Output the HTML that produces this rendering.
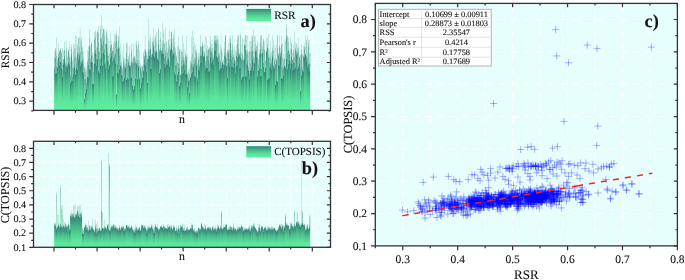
<!DOCTYPE html><html><head><meta charset="utf-8"><style>html,body{margin:0;padding:0;background:#fff;width:685px;height:280px;overflow:hidden}svg{display:block}text{font-family:"Liberation Serif",serif;fill:#111;stroke:#111;stroke-width:0.1px;text-rendering:geometricPrecision}svg{will-change:transform}</style></head><body>
<svg width="685" height="280" viewBox="0 0 685 280">
<defs><linearGradient id="g" x1="0" y1="0" x2="0" y2="1"><stop offset="0" stop-color="#36867a"/><stop offset="0.4" stop-color="#4dc08d"/><stop offset="0.75" stop-color="#5ae59b"/><stop offset="1" stop-color="#5ef0a0"/></linearGradient></defs>
<rect x="33.50" y="4.50" width="297.00" height="105.90" fill="#e6fffc"/>
<rect x="33.50" y="141.30" width="297.00" height="106.00" fill="#e6fffc"/>
<rect x="375.30" y="3.40" width="302.10" height="242.50" fill="#e6fffc"/>
<g stroke="#ffffff" stroke-width="1" stroke-dasharray="4.8 3.6"><line x1="33.80" y1="101.20" x2="329.90" y2="101.20"/><line x1="33.80" y1="81.86" x2="329.90" y2="81.86"/><line x1="33.80" y1="62.52" x2="329.90" y2="62.52"/><line x1="33.80" y1="43.18" x2="329.90" y2="43.18"/><line x1="33.80" y1="23.84" x2="329.90" y2="23.84"/><line x1="54.00" y1="5.20" x2="54.00" y2="109.80"/><line x1="75.53" y1="5.20" x2="75.53" y2="109.80"/><line x1="97.05" y1="5.20" x2="97.05" y2="109.80"/><line x1="118.58" y1="5.20" x2="118.58" y2="109.80"/><line x1="140.10" y1="5.20" x2="140.10" y2="109.80"/><line x1="161.62" y1="5.20" x2="161.62" y2="109.80"/><line x1="183.15" y1="5.20" x2="183.15" y2="109.80"/><line x1="204.68" y1="5.20" x2="204.68" y2="109.80"/><line x1="226.20" y1="5.20" x2="226.20" y2="109.80"/><line x1="247.72" y1="5.20" x2="247.72" y2="109.80"/><line x1="269.25" y1="5.20" x2="269.25" y2="109.80"/><line x1="290.77" y1="5.20" x2="290.77" y2="109.80"/><line x1="312.30" y1="5.20" x2="312.30" y2="109.80"/><line x1="33.80" y1="233.20" x2="329.90" y2="233.20"/><line x1="33.80" y1="219.05" x2="329.90" y2="219.05"/><line x1="33.80" y1="204.90" x2="329.90" y2="204.90"/><line x1="33.80" y1="190.75" x2="329.90" y2="190.75"/><line x1="33.80" y1="176.60" x2="329.90" y2="176.60"/><line x1="33.80" y1="162.45" x2="329.90" y2="162.45"/><line x1="33.80" y1="148.30" x2="329.90" y2="148.30"/><line x1="54.00" y1="142.00" x2="54.00" y2="246.70"/><line x1="75.53" y1="142.00" x2="75.53" y2="246.70"/><line x1="97.05" y1="142.00" x2="97.05" y2="246.70"/><line x1="118.58" y1="142.00" x2="118.58" y2="246.70"/><line x1="140.10" y1="142.00" x2="140.10" y2="246.70"/><line x1="161.62" y1="142.00" x2="161.62" y2="246.70"/><line x1="183.15" y1="142.00" x2="183.15" y2="246.70"/><line x1="204.68" y1="142.00" x2="204.68" y2="246.70"/><line x1="226.20" y1="142.00" x2="226.20" y2="246.70"/><line x1="247.72" y1="142.00" x2="247.72" y2="246.70"/><line x1="269.25" y1="142.00" x2="269.25" y2="246.70"/><line x1="290.77" y1="142.00" x2="290.77" y2="246.70"/><line x1="312.30" y1="142.00" x2="312.30" y2="246.70"/></g>
<g stroke="#ffffff" stroke-width="1" stroke-dasharray="6.1 6.15"><line x1="376.30" y1="213.56" x2="676.80" y2="213.56"/><line x1="376.30" y1="181.22" x2="676.80" y2="181.22"/><line x1="376.30" y1="148.88" x2="676.80" y2="148.88"/><line x1="376.30" y1="116.54" x2="676.80" y2="116.54"/><line x1="376.30" y1="84.20" x2="676.80" y2="84.20"/><line x1="376.30" y1="51.86" x2="676.80" y2="51.86"/><line x1="376.30" y1="19.52" x2="676.80" y2="19.52"/><line x1="402.76" y1="6.50" x2="402.76" y2="245.30"/><line x1="430.23" y1="6.50" x2="430.23" y2="245.30"/><line x1="457.70" y1="6.50" x2="457.70" y2="245.30"/><line x1="485.16" y1="6.50" x2="485.16" y2="245.30"/><line x1="512.62" y1="6.50" x2="512.62" y2="245.30"/><line x1="540.09" y1="6.50" x2="540.09" y2="245.30"/><line x1="567.56" y1="6.50" x2="567.56" y2="245.30"/><line x1="595.02" y1="6.50" x2="595.02" y2="245.30"/><line x1="622.48" y1="6.50" x2="622.48" y2="245.30"/><line x1="649.95" y1="6.50" x2="649.95" y2="245.30"/></g>
<g fill="url(#g)"><rect x="54" y="50.34" width="1" height="60.06" fill-opacity="0.22"/><rect x="54" y="52.11" width="1" height="58.29" fill-opacity="0.04"/><rect x="54" y="57.71" width="1" height="52.69" fill-opacity="0.29"/><rect x="54" y="66.73" width="1" height="43.67" fill-opacity="0.40"/><rect x="54" y="69.61" width="1" height="40.79" fill-opacity="0.67"/><rect x="55" y="48.19" width="1" height="62.21" fill-opacity="0.22"/><rect x="55" y="48.20" width="1" height="62.20" fill-opacity="0.27"/><rect x="55" y="52.11" width="1" height="58.29" fill-opacity="0.32"/><rect x="55" y="58.34" width="1" height="52.06" fill-opacity="0.56"/><rect x="55" y="73.80" width="1" height="36.60"/><rect x="56" y="37.71" width="1" height="72.69" fill-opacity="0.22"/><rect x="56" y="52.96" width="1" height="57.44" fill-opacity="0.12"/><rect x="56" y="55.94" width="1" height="54.46" fill-opacity="0.31"/><rect x="56" y="66.38" width="1" height="44.02" fill-opacity="0.45"/><rect x="56" y="73.23" width="1" height="37.17" fill-opacity="0.83"/><rect x="56" y="73.80" width="1" height="36.60"/><rect x="57" y="52.96" width="1" height="57.44" fill-opacity="0.12"/><rect x="57" y="57.56" width="1" height="52.84" fill-opacity="0.02"/><rect x="57" y="59.14" width="1" height="51.26" fill-opacity="0.25"/><rect x="57" y="61.94" width="1" height="48.46" fill-opacity="0.33"/><rect x="57" y="67.27" width="1" height="43.13" fill-opacity="0.50"/><rect x="57" y="68.56" width="1" height="41.84"/><rect x="58" y="43.18" width="1" height="67.22" fill-opacity="0.22"/><rect x="58" y="52.99" width="1" height="57.41" fill-opacity="0.27"/><rect x="58" y="54.90" width="1" height="55.50" fill-opacity="0.28"/><rect x="58" y="57.32" width="1" height="53.08" fill-opacity="0.52"/><rect x="58" y="57.56" width="1" height="52.84"/><rect x="59" y="50.85" width="1" height="59.55" fill-opacity="0.22"/><rect x="59" y="50.93" width="1" height="59.47" fill-opacity="0.27"/><rect x="59" y="51.56" width="1" height="58.84" fill-opacity="0.38"/><rect x="59" y="54.90" width="1" height="55.50" fill-opacity="0.16"/><rect x="59" y="62.48" width="1" height="47.92" fill-opacity="0.27"/><rect x="59" y="65.75" width="1" height="44.65"/><rect x="60" y="48.02" width="1" height="62.38" fill-opacity="0.22"/><rect x="60" y="48.49" width="1" height="61.91" fill-opacity="0.27"/><rect x="60" y="49.95" width="1" height="60.45" fill-opacity="0.38"/><rect x="60" y="53.54" width="1" height="56.86" fill-opacity="0.01"/><rect x="60" y="62.48" width="1" height="47.92" fill-opacity="0.38"/><rect x="60" y="62.56" width="1" height="47.84"/><rect x="61" y="50.39" width="1" height="60.01" fill-opacity="0.22"/><rect x="61" y="52.47" width="1" height="57.93" fill-opacity="0.27"/><rect x="61" y="53.54" width="1" height="56.86" fill-opacity="0.37"/><rect x="61" y="61.05" width="1" height="49.35" fill-opacity="0.40"/><rect x="61" y="68.82" width="1" height="41.58"/><rect x="62" y="48.00" width="1" height="62.40" fill-opacity="0.22"/><rect x="62" y="61.05" width="1" height="49.35" fill-opacity="0.09"/><rect x="62" y="63.42" width="1" height="46.98" fill-opacity="0.30"/><rect x="62" y="64.97" width="1" height="45.43" fill-opacity="0.13"/><rect x="62" y="70.92" width="1" height="39.48" fill-opacity="0.50"/><rect x="62" y="77.24" width="1" height="33.16"/><rect x="63" y="50.56" width="1" height="59.84" fill-opacity="0.22"/><rect x="63" y="59.22" width="1" height="51.18" fill-opacity="0.27"/><rect x="63" y="59.34" width="1" height="51.06" fill-opacity="0.38"/><rect x="63" y="63.53" width="1" height="46.87" fill-opacity="0.58"/><rect x="63" y="64.97" width="1" height="45.43"/><rect x="64" y="41.87" width="1" height="68.53" fill-opacity="0.22"/><rect x="64" y="49.71" width="1" height="60.69" fill-opacity="0.27"/><rect x="64" y="50.47" width="1" height="59.93" fill-opacity="0.38"/><rect x="64" y="56.18" width="1" height="54.22" fill-opacity="0.61"/><rect x="64" y="59.43" width="1" height="50.97" fill-opacity="0.93"/><rect x="64" y="63.53" width="1" height="46.87"/><rect x="65" y="40.16" width="1" height="70.24" fill-opacity="0.05"/><rect x="65" y="59.43" width="1" height="50.97" fill-opacity="0.09"/><rect x="65" y="61.87" width="1" height="48.53" fill-opacity="0.25"/><rect x="65" y="63.68" width="1" height="46.72" fill-opacity="0.33"/><rect x="65" y="65.79" width="1" height="44.61" fill-opacity="0.50"/><rect x="65" y="71.39" width="1" height="39.01"/><rect x="66" y="40.16" width="1" height="70.24" fill-opacity="0.16"/><rect x="66" y="47.89" width="1" height="62.51" fill-opacity="0.23"/><rect x="66" y="50.31" width="1" height="60.09" fill-opacity="0.33"/><rect x="66" y="65.62" width="1" height="44.78" fill-opacity="0.50"/><rect x="66" y="67.67" width="1" height="42.73"/><rect x="67" y="47.89" width="1" height="62.51" fill-opacity="0.02"/><rect x="67" y="52.73" width="1" height="57.67" fill-opacity="0.12"/><rect x="67" y="56.79" width="1" height="53.61" fill-opacity="0.25"/><rect x="67" y="63.70" width="1" height="46.70" fill-opacity="0.33"/><rect x="67" y="65.50" width="1" height="44.90" fill-opacity="0.50"/><rect x="67" y="67.95" width="1" height="42.45"/><rect x="68" y="48.63" width="1" height="61.77" fill-opacity="0.22"/><rect x="68" y="50.18" width="1" height="60.22" fill-opacity="0.27"/><rect x="68" y="50.50" width="1" height="59.90" fill-opacity="0.38"/><rect x="68" y="52.73" width="1" height="57.67" fill-opacity="0.28"/><rect x="68" y="55.37" width="1" height="55.03" fill-opacity="0.16"/><rect x="68" y="62.38" width="1" height="48.02"/><rect x="69" y="41.25" width="1" height="69.15" fill-opacity="0.22"/><rect x="69" y="55.37" width="1" height="55.03" fill-opacity="0.22"/><rect x="69" y="57.62" width="1" height="52.78" fill-opacity="0.35"/><rect x="69" y="63.97" width="1" height="46.43" fill-opacity="0.55"/><rect x="69" y="65.62" width="1" height="44.78"/><rect x="70" y="47.09" width="1" height="63.31" fill-opacity="0.10"/><rect x="70" y="58.79" width="1" height="51.61" fill-opacity="0.24"/><rect x="70" y="61.96" width="1" height="48.44" fill-opacity="0.32"/><rect x="70" y="65.62" width="1" height="44.78" fill-opacity="0.08"/><rect x="70" y="75.26" width="1" height="35.14" fill-opacity="0.50"/><rect x="70" y="83.32" width="1" height="27.08"/><rect x="71" y="44.24" width="1" height="66.16" fill-opacity="0.22"/><rect x="71" y="47.09" width="1" height="63.31" fill-opacity="0.14"/><rect x="71" y="49.04" width="1" height="61.36" fill-opacity="0.32"/><rect x="71" y="53.66" width="1" height="56.74" fill-opacity="0.47"/><rect x="71" y="56.91" width="1" height="53.49" fill-opacity="0.89"/><rect x="71" y="81.10" width="1" height="29.30"/><rect x="72" y="59.15" width="1" height="51.25" fill-opacity="0.17"/><rect x="72" y="61.51" width="1" height="48.89" fill-opacity="0.26"/><rect x="72" y="67.69" width="1" height="42.71" fill-opacity="0.35"/><rect x="72" y="76.96" width="1" height="33.44" fill-opacity="0.53"/><rect x="72" y="81.10" width="1" height="29.30"/><rect x="73" y="43.47" width="1" height="66.93" fill-opacity="0.22"/><rect x="73" y="51.65" width="1" height="58.75" fill-opacity="0.27"/><rect x="73" y="59.15" width="1" height="51.25" fill-opacity="0.09"/><rect x="73" y="65.23" width="1" height="45.17" fill-opacity="0.17"/><rect x="73" y="68.02" width="1" height="42.38" fill-opacity="0.50"/><rect x="73" y="74.18" width="1" height="36.22"/><rect x="74" y="44.92" width="1" height="65.48" fill-opacity="0.22"/><rect x="74" y="48.17" width="1" height="62.23" fill-opacity="0.02"/><rect x="74" y="48.68" width="1" height="61.72" fill-opacity="0.28"/><rect x="74" y="57.48" width="1" height="52.92" fill-opacity="0.39"/><rect x="74" y="65.23" width="1" height="45.17" fill-opacity="0.37"/><rect x="74" y="67.77" width="1" height="42.63"/><rect x="75" y="35.44" width="1" height="74.96" fill-opacity="0.22"/><rect x="75" y="48.17" width="1" height="62.23" fill-opacity="0.26"/><rect x="75" y="56.40" width="1" height="54.00" fill-opacity="0.26"/><rect x="75" y="70.06" width="1" height="40.34" fill-opacity="0.50"/><rect x="75" y="74.82" width="1" height="35.58"/><rect x="76" y="36.08" width="1" height="74.32" fill-opacity="0.22"/><rect x="76" y="56.40" width="1" height="54.00" fill-opacity="0.08"/><rect x="76" y="57.86" width="1" height="52.54" fill-opacity="0.30"/><rect x="76" y="62.84" width="1" height="47.56" fill-opacity="0.43"/><rect x="76" y="67.95" width="1" height="42.45" fill-opacity="0.74"/><rect x="76" y="69.73" width="1" height="40.67"/><rect x="77" y="43.69" width="1" height="66.71" fill-opacity="0.21"/><rect x="77" y="45.64" width="1" height="64.76" fill-opacity="0.27"/><rect x="77" y="52.81" width="1" height="57.59" fill-opacity="0.38"/><rect x="77" y="54.78" width="1" height="55.62" fill-opacity="0.61"/><rect x="77" y="69.73" width="1" height="40.67"/><rect x="78" y="37.65" width="1" height="72.75" fill-opacity="0.22"/><rect x="78" y="38.31" width="1" height="72.09" fill-opacity="0.27"/><rect x="78" y="43.69" width="1" height="66.71" fill-opacity="0.00"/><rect x="78" y="52.13" width="1" height="58.27" fill-opacity="0.38"/><rect x="78" y="58.33" width="1" height="52.07" fill-opacity="0.39"/><rect x="78" y="60.47" width="1" height="49.93"/><rect x="79" y="27.31" width="1" height="83.09" fill-opacity="0.06"/><rect x="79" y="37.38" width="1" height="73.02" fill-opacity="0.23"/><rect x="79" y="47.40" width="1" height="63.00" fill-opacity="0.30"/><rect x="79" y="53.91" width="1" height="56.49" fill-opacity="0.42"/><rect x="79" y="55.41" width="1" height="54.99" fill-opacity="0.74"/><rect x="79" y="58.33" width="1" height="52.07"/><rect x="80" y="27.31" width="1" height="83.09" fill-opacity="0.15"/><rect x="80" y="39.41" width="1" height="70.99" fill-opacity="0.25"/><rect x="80" y="51.94" width="1" height="58.46" fill-opacity="0.34"/><rect x="80" y="61.82" width="1" height="48.58" fill-opacity="0.48"/><rect x="80" y="66.41" width="1" height="43.99"/><rect x="81" y="36.31" width="1" height="74.09" fill-opacity="0.22"/><rect x="81" y="41.82" width="1" height="68.58" fill-opacity="0.27"/><rect x="81" y="46.65" width="1" height="63.75" fill-opacity="0.22"/><rect x="81" y="61.82" width="1" height="48.58" fill-opacity="0.03"/><rect x="81" y="61.90" width="1" height="48.50" fill-opacity="0.50"/><rect x="81" y="64.06" width="1" height="46.34"/><rect x="82" y="46.65" width="1" height="63.75" fill-opacity="0.09"/><rect x="82" y="46.70" width="1" height="63.70" fill-opacity="0.24"/><rect x="82" y="51.19" width="1" height="59.21" fill-opacity="0.31"/><rect x="82" y="59.61" width="1" height="50.79" fill-opacity="0.45"/><rect x="82" y="60.55" width="1" height="49.85" fill-opacity="0.81"/><rect x="82" y="72.04" width="1" height="38.36"/><rect x="83" y="50.60" width="1" height="59.80" fill-opacity="0.19"/><rect x="83" y="57.56" width="1" height="52.84" fill-opacity="0.27"/><rect x="83" y="64.61" width="1" height="45.79" fill-opacity="0.36"/><rect x="83" y="72.04" width="1" height="38.36" fill-opacity="0.44"/><rect x="83" y="73.81" width="1" height="36.59"/><rect x="84" y="50.60" width="1" height="59.80" fill-opacity="0.03"/><rect x="84" y="62.20" width="1" height="48.20" fill-opacity="0.11"/><rect x="84" y="67.07" width="1" height="43.33" fill-opacity="0.25"/><rect x="84" y="68.65" width="1" height="41.75" fill-opacity="0.33"/><rect x="84" y="79.29" width="1" height="31.11" fill-opacity="0.50"/><rect x="84" y="99.27" width="1" height="11.13"/><rect x="85" y="62.20" width="1" height="48.20" fill-opacity="0.10"/><rect x="85" y="68.66" width="1" height="41.74" fill-opacity="0.24"/><rect x="85" y="72.12" width="1" height="38.28" fill-opacity="0.32"/><rect x="85" y="79.27" width="1" height="31.13" fill-opacity="0.46"/><rect x="85" y="83.04" width="1" height="27.36" fill-opacity="0.14"/><rect x="85" y="93.17" width="1" height="17.23"/><rect x="86" y="65.95" width="1" height="44.45" fill-opacity="0.22"/><rect x="86" y="70.22" width="1" height="40.18" fill-opacity="0.22"/><rect x="86" y="79.40" width="1" height="31.00" fill-opacity="0.35"/><rect x="86" y="83.04" width="1" height="27.36" fill-opacity="0.46"/><rect x="86" y="89.23" width="1" height="21.17"/><rect x="87" y="49.87" width="1" height="60.53" fill-opacity="0.22"/><rect x="87" y="60.74" width="1" height="49.66" fill-opacity="0.27"/><rect x="87" y="61.80" width="1" height="48.60" fill-opacity="0.38"/><rect x="87" y="70.22" width="1" height="40.18" fill-opacity="0.12"/><rect x="87" y="76.88" width="1" height="33.52" fill-opacity="0.69"/><rect x="87" y="77.66" width="1" height="32.74"/><rect x="88" y="46.11" width="1" height="64.29" fill-opacity="0.22"/><rect x="88" y="51.48" width="1" height="58.92" fill-opacity="0.27"/><rect x="88" y="58.05" width="1" height="52.35" fill-opacity="0.38"/><rect x="88" y="65.30" width="1" height="45.10" fill-opacity="0.61"/><rect x="88" y="69.36" width="1" height="41.04" fill-opacity="0.16"/><rect x="88" y="77.66" width="1" height="32.74"/><rect x="89" y="29.42" width="1" height="80.98" fill-opacity="0.22"/><rect x="89" y="38.34" width="1" height="72.06" fill-opacity="0.21"/><rect x="89" y="45.67" width="1" height="64.73" fill-opacity="0.35"/><rect x="89" y="47.45" width="1" height="62.95" fill-opacity="0.53"/><rect x="89" y="69.36" width="1" height="41.04"/><rect x="90" y="38.34" width="1" height="72.06" fill-opacity="0.05"/><rect x="90" y="45.60" width="1" height="64.80" fill-opacity="0.23"/><rect x="90" y="58.41" width="1" height="51.99" fill-opacity="0.29"/><rect x="90" y="62.02" width="1" height="48.38" fill-opacity="0.42"/><rect x="90" y="62.49" width="1" height="47.91" fill-opacity="0.28"/><rect x="90" y="70.38" width="1" height="40.02"/><rect x="91" y="42.21" width="1" height="68.19" fill-opacity="0.22"/><rect x="91" y="43.34" width="1" height="67.06" fill-opacity="0.27"/><rect x="91" y="43.97" width="1" height="66.43" fill-opacity="0.38"/><rect x="91" y="54.85" width="1" height="55.55" fill-opacity="0.02"/><rect x="91" y="55.49" width="1" height="54.91" fill-opacity="0.62"/><rect x="91" y="62.49" width="1" height="47.91"/><rect x="92" y="51.88" width="1" height="58.52" fill-opacity="0.22"/><rect x="92" y="54.85" width="1" height="55.55" fill-opacity="0.26"/><rect x="92" y="62.11" width="1" height="48.29" fill-opacity="0.37"/><rect x="92" y="62.37" width="1" height="48.03" fill-opacity="0.59"/><rect x="92" y="84.20" width="1" height="26.20"/><rect x="93" y="52.78" width="1" height="57.62" fill-opacity="0.07"/><rect x="93" y="56.98" width="1" height="53.42" fill-opacity="0.23"/><rect x="93" y="65.47" width="1" height="44.93" fill-opacity="0.30"/><rect x="93" y="72.23" width="1" height="38.17" fill-opacity="0.43"/><rect x="93" y="83.88" width="1" height="26.52" fill-opacity="0.76"/><rect x="93" y="84.20" width="1" height="26.20"/><rect x="94" y="31.65" width="1" height="78.75" fill-opacity="0.22"/><rect x="94" y="38.68" width="1" height="71.72" fill-opacity="0.27"/><rect x="94" y="39.87" width="1" height="70.53" fill-opacity="0.38"/><rect x="94" y="52.78" width="1" height="57.62" fill-opacity="0.41"/><rect x="94" y="63.70" width="1" height="46.70"/><rect x="95" y="30.61" width="1" height="79.79" fill-opacity="0.22"/><rect x="95" y="32.33" width="1" height="78.07" fill-opacity="0.17"/><rect x="95" y="37.16" width="1" height="73.24" fill-opacity="0.33"/><rect x="95" y="50.15" width="1" height="60.25" fill-opacity="0.49"/><rect x="95" y="53.62" width="1" height="56.78" fill-opacity="0.98"/><rect x="95" y="63.70" width="1" height="46.70"/><rect x="96" y="32.33" width="1" height="78.07" fill-opacity="0.08"/><rect x="96" y="46.80" width="1" height="63.60" fill-opacity="0.23"/><rect x="96" y="47.70" width="1" height="62.70" fill-opacity="0.08"/><rect x="96" y="54.14" width="1" height="56.26" fill-opacity="0.33"/><rect x="96" y="58.84" width="1" height="51.56" fill-opacity="0.50"/><rect x="96" y="65.77" width="1" height="44.63"/><rect x="97" y="30.19" width="1" height="80.21" fill-opacity="0.20"/><rect x="97" y="31.58" width="1" height="78.82" fill-opacity="0.27"/><rect x="97" y="32.12" width="1" height="78.28" fill-opacity="0.37"/><rect x="97" y="47.70" width="1" height="62.70" fill-opacity="0.42"/><rect x="97" y="59.58" width="1" height="50.82"/><rect x="98" y="25.77" width="1" height="84.63" fill-opacity="0.22"/><rect x="98" y="30.19" width="1" height="80.21" fill-opacity="0.02"/><rect x="98" y="32.98" width="1" height="77.42" fill-opacity="0.28"/><rect x="98" y="42.57" width="1" height="67.83" fill-opacity="0.39"/><rect x="98" y="51.55" width="1" height="58.85" fill-opacity="0.36"/><rect x="98" y="71.32" width="1" height="39.08"/><rect x="99" y="38.78" width="1" height="71.62" fill-opacity="0.04"/><rect x="99" y="48.35" width="1" height="62.05" fill-opacity="0.23"/><rect x="99" y="51.55" width="1" height="58.85" fill-opacity="0.13"/><rect x="99" y="51.93" width="1" height="58.47" fill-opacity="0.33"/><rect x="99" y="59.35" width="1" height="51.05" fill-opacity="0.50"/><rect x="99" y="73.15" width="1" height="37.25"/><rect x="100" y="25.77" width="1" height="84.63" fill-opacity="0.22"/><rect x="100" y="29.10" width="1" height="81.30" fill-opacity="0.27"/><rect x="100" y="38.78" width="1" height="71.62" fill-opacity="0.30"/><rect x="100" y="58.47" width="1" height="51.93" fill-opacity="0.46"/><rect x="100" y="65.84" width="1" height="44.56"/><rect x="101" y="15.14" width="1" height="95.26" fill-opacity="0.22"/><rect x="101" y="36.95" width="1" height="73.45" fill-opacity="0.27"/><rect x="101" y="39.27" width="1" height="71.13" fill-opacity="0.38"/><rect x="101" y="43.98" width="1" height="66.42" fill-opacity="0.61"/><rect x="101" y="53.76" width="1" height="56.64" fill-opacity="0.77"/><rect x="101" y="58.47" width="1" height="51.93"/><rect x="102" y="25.77" width="1" height="84.63" fill-opacity="0.22"/><rect x="102" y="33.83" width="1" height="76.57" fill-opacity="0.27"/><rect x="102" y="41.06" width="1" height="69.34" fill-opacity="0.05"/><rect x="102" y="45.95" width="1" height="64.45" fill-opacity="0.40"/><rect x="102" y="53.76" width="1" height="56.64" fill-opacity="0.33"/><rect x="102" y="65.96" width="1" height="44.44"/><rect x="103" y="28.87" width="1" height="81.53" fill-opacity="0.22"/><rect x="103" y="29.31" width="1" height="81.09" fill-opacity="0.22"/><rect x="103" y="29.51" width="1" height="80.89" fill-opacity="0.35"/><rect x="103" y="41.06" width="1" height="69.34" fill-opacity="0.46"/><rect x="103" y="52.91" width="1" height="57.49"/><rect x="104" y="29.31" width="1" height="81.09" fill-opacity="0.05"/><rect x="104" y="29.57" width="1" height="80.83" fill-opacity="0.23"/><rect x="104" y="35.44" width="1" height="74.96" fill-opacity="0.29"/><rect x="104" y="49.31" width="1" height="61.09" fill-opacity="0.41"/><rect x="104" y="54.75" width="1" height="55.65" fill-opacity="0.70"/><rect x="104" y="64.27" width="1" height="46.13"/><rect x="105" y="43.79" width="1" height="66.61" fill-opacity="0.22"/><rect x="105" y="43.92" width="1" height="66.48" fill-opacity="0.27"/><rect x="105" y="44.61" width="1" height="65.79" fill-opacity="0.03"/><rect x="105" y="61.95" width="1" height="48.45" fill-opacity="0.39"/><rect x="105" y="64.27" width="1" height="46.13" fill-opacity="0.36"/><rect x="105" y="68.17" width="1" height="42.23"/><rect x="106" y="30.07" width="1" height="80.33" fill-opacity="0.22"/><rect x="106" y="32.06" width="1" height="78.34" fill-opacity="0.20"/><rect x="106" y="33.51" width="1" height="76.89" fill-opacity="0.34"/><rect x="106" y="42.84" width="1" height="67.56" fill-opacity="0.52"/><rect x="106" y="44.61" width="1" height="65.79"/><rect x="107" y="32.06" width="1" height="78.34" fill-opacity="0.06"/><rect x="107" y="37.11" width="1" height="73.29" fill-opacity="0.23"/><rect x="107" y="48.42" width="1" height="61.98" fill-opacity="0.30"/><rect x="107" y="52.32" width="1" height="58.08" fill-opacity="0.42"/><rect x="107" y="55.51" width="1" height="54.89" fill-opacity="0.27"/><rect x="107" y="60.59" width="1" height="49.81"/><rect x="108" y="39.26" width="1" height="71.14" fill-opacity="0.22"/><rect x="108" y="53.90" width="1" height="56.50" fill-opacity="0.00"/><rect x="108" y="55.51" width="1" height="54.89" fill-opacity="0.17"/><rect x="108" y="55.71" width="1" height="54.69" fill-opacity="0.33"/><rect x="108" y="61.94" width="1" height="48.46" fill-opacity="0.50"/><rect x="108" y="69.11" width="1" height="41.29"/><rect x="109" y="40.82" width="1" height="69.58" fill-opacity="0.14"/><rect x="109" y="53.90" width="1" height="56.50" fill-opacity="0.25"/><rect x="109" y="64.01" width="1" height="46.39" fill-opacity="0.33"/><rect x="109" y="64.95" width="1" height="45.45" fill-opacity="0.50"/><rect x="109" y="66.12" width="1" height="44.28"/><rect x="110" y="32.54" width="1" height="77.86" fill-opacity="0.22"/><rect x="110" y="40.82" width="1" height="69.58" fill-opacity="0.09"/><rect x="110" y="45.61" width="1" height="64.79" fill-opacity="0.30"/><rect x="110" y="47.58" width="1" height="62.82" fill-opacity="0.43"/><rect x="110" y="56.39" width="1" height="54.01" fill-opacity="0.24"/><rect x="110" y="58.50" width="1" height="51.90"/><rect x="111" y="40.66" width="1" height="69.74" fill-opacity="0.21"/><rect x="111" y="44.32" width="1" height="66.08" fill-opacity="0.27"/><rect x="111" y="45.07" width="1" height="65.33" fill-opacity="0.37"/><rect x="111" y="53.01" width="1" height="57.39" fill-opacity="0.59"/><rect x="111" y="56.39" width="1" height="54.01"/><rect x="112" y="40.66" width="1" height="69.74" fill-opacity="0.01"/><rect x="112" y="48.16" width="1" height="62.24" fill-opacity="0.22"/><rect x="112" y="50.86" width="1" height="59.54" fill-opacity="0.28"/><rect x="112" y="50.95" width="1" height="59.45" fill-opacity="0.38"/><rect x="112" y="61.26" width="1" height="49.14" fill-opacity="0.63"/><rect x="112" y="76.38" width="1" height="34.02"/><rect x="113" y="42.33" width="1" height="68.07" fill-opacity="0.22"/><rect x="113" y="46.56" width="1" height="63.84" fill-opacity="0.27"/><rect x="113" y="50.95" width="1" height="59.45" fill-opacity="0.38"/><rect x="113" y="58.14" width="1" height="52.26" fill-opacity="0.61"/><rect x="113" y="60.27" width="1" height="50.13" fill-opacity="0.38"/><rect x="113" y="76.38" width="1" height="34.02"/><rect x="114" y="33.15" width="1" height="77.25" fill-opacity="0.19"/><rect x="114" y="40.93" width="1" height="69.47" fill-opacity="0.27"/><rect x="114" y="54.67" width="1" height="55.73" fill-opacity="0.36"/><rect x="114" y="56.47" width="1" height="53.93" fill-opacity="0.57"/><rect x="114" y="60.27" width="1" height="50.13"/><rect x="115" y="33.15" width="1" height="77.25" fill-opacity="0.02"/><rect x="115" y="34.45" width="1" height="75.95" fill-opacity="0.22"/><rect x="115" y="35.87" width="1" height="74.53" fill-opacity="0.15"/><rect x="115" y="42.63" width="1" height="67.77" fill-opacity="0.33"/><rect x="115" y="53.45" width="1" height="56.95" fill-opacity="0.50"/><rect x="115" y="63.42" width="1" height="46.98"/><rect x="116" y="30.58" width="1" height="79.82" fill-opacity="0.22"/><rect x="116" y="34.48" width="1" height="75.92" fill-opacity="0.27"/><rect x="116" y="35.87" width="1" height="74.53" fill-opacity="0.17"/><rect x="116" y="41.19" width="1" height="69.21" fill-opacity="0.46"/><rect x="116" y="64.60" width="1" height="45.80" fill-opacity="0.15"/><rect x="116" y="94.73" width="1" height="15.67"/><rect x="117" y="47.05" width="1" height="63.35" fill-opacity="0.22"/><rect x="117" y="48.65" width="1" height="61.75" fill-opacity="0.27"/><rect x="117" y="49.24" width="1" height="61.16" fill-opacity="0.38"/><rect x="117" y="64.60" width="1" height="45.80" fill-opacity="0.50"/><rect x="117" y="73.14" width="1" height="37.26"/><rect x="118" y="35.37" width="1" height="75.03" fill-opacity="0.22"/><rect x="118" y="36.86" width="1" height="73.54" fill-opacity="0.27"/><rect x="118" y="41.11" width="1" height="69.29" fill-opacity="0.38"/><rect x="118" y="48.31" width="1" height="62.09" fill-opacity="0.61"/><rect x="118" y="48.47" width="1" height="61.93" fill-opacity="0.73"/><rect x="118" y="73.14" width="1" height="37.26"/><rect x="119" y="26.61" width="1" height="83.79" fill-opacity="0.22"/><rect x="119" y="47.17" width="1" height="63.23" fill-opacity="0.27"/><rect x="119" y="48.47" width="1" height="61.93" fill-opacity="0.20"/><rect x="119" y="56.08" width="1" height="54.32" fill-opacity="0.47"/><rect x="119" y="65.07" width="1" height="45.33" fill-opacity="0.11"/><rect x="119" y="69.46" width="1" height="40.94"/><rect x="120" y="42.45" width="1" height="67.95" fill-opacity="0.22"/><rect x="120" y="54.08" width="1" height="56.32" fill-opacity="0.27"/><rect x="120" y="62.74" width="1" height="47.66" fill-opacity="0.29"/><rect x="120" y="65.07" width="1" height="45.33" fill-opacity="0.47"/><rect x="120" y="66.30" width="1" height="44.10"/><rect x="121" y="50.38" width="1" height="60.02" fill-opacity="0.09"/><rect x="121" y="61.41" width="1" height="48.99" fill-opacity="0.24"/><rect x="121" y="62.74" width="1" height="47.66" fill-opacity="0.07"/><rect x="121" y="65.41" width="1" height="44.99" fill-opacity="0.33"/><rect x="121" y="67.50" width="1" height="42.90" fill-opacity="0.50"/><rect x="121" y="74.82" width="1" height="35.58"/><rect x="122" y="50.38" width="1" height="60.02" fill-opacity="0.13"/><rect x="122" y="67.77" width="1" height="42.63" fill-opacity="0.25"/><rect x="122" y="70.63" width="1" height="39.77" fill-opacity="0.33"/><rect x="122" y="75.66" width="1" height="34.74" fill-opacity="0.49"/><rect x="122" y="80.69" width="1" height="29.71" fill-opacity="0.05"/><rect x="122" y="81.93" width="1" height="28.47"/><rect x="123" y="43.16" width="1" height="67.24" fill-opacity="0.22"/><rect x="123" y="57.13" width="1" height="53.27" fill-opacity="0.27"/><rect x="123" y="60.85" width="1" height="49.55" fill-opacity="0.38"/><rect x="123" y="65.32" width="1" height="45.08" fill-opacity="0.43"/><rect x="123" y="80.69" width="1" height="29.71"/><rect x="124" y="58.42" width="1" height="51.98" fill-opacity="0.22"/><rect x="124" y="62.81" width="1" height="47.59" fill-opacity="0.27"/><rect x="124" y="65.32" width="1" height="45.08" fill-opacity="0.11"/><rect x="124" y="66.06" width="1" height="44.34" fill-opacity="0.15"/><rect x="124" y="67.68" width="1" height="42.72" fill-opacity="0.50"/><rect x="124" y="78.16" width="1" height="32.24"/><rect x="125" y="57.65" width="1" height="52.75" fill-opacity="0.22"/><rect x="125" y="63.70" width="1" height="46.70" fill-opacity="0.27"/><rect x="125" y="66.06" width="1" height="44.34" fill-opacity="0.25"/><rect x="125" y="67.25" width="1" height="43.15" fill-opacity="0.50"/><rect x="125" y="69.03" width="1" height="41.37"/><rect x="126" y="41.96" width="1" height="68.44" fill-opacity="0.22"/><rect x="126" y="44.14" width="1" height="66.26" fill-opacity="0.27"/><rect x="126" y="53.06" width="1" height="57.34" fill-opacity="0.38"/><rect x="126" y="59.70" width="1" height="50.70" fill-opacity="0.39"/><rect x="126" y="63.70" width="1" height="46.70" fill-opacity="0.01"/><rect x="126" y="80.07" width="1" height="30.33"/><rect x="127" y="42.64" width="1" height="67.76" fill-opacity="0.22"/><rect x="127" y="58.95" width="1" height="51.45" fill-opacity="0.27"/><rect x="127" y="59.70" width="1" height="50.70" fill-opacity="0.14"/><rect x="127" y="65.59" width="1" height="44.81" fill-opacity="0.44"/><rect x="127" y="77.82" width="1" height="32.58" fill-opacity="0.78"/><rect x="127" y="79.45" width="1" height="30.95"/><rect x="128" y="55.59" width="1" height="54.81" fill-opacity="0.22"/><rect x="128" y="58.11" width="1" height="52.29" fill-opacity="0.27"/><rect x="128" y="61.81" width="1" height="48.59" fill-opacity="0.38"/><rect x="128" y="62.40" width="1" height="48.00" fill-opacity="0.57"/><rect x="128" y="79.45" width="1" height="30.95"/><rect x="129" y="46.31" width="1" height="64.09" fill-opacity="0.22"/><rect x="129" y="53.88" width="1" height="56.52" fill-opacity="0.27"/><rect x="129" y="62.40" width="1" height="48.00" fill-opacity="0.03"/><rect x="129" y="65.39" width="1" height="45.01" fill-opacity="0.22"/><rect x="129" y="65.63" width="1" height="44.77" fill-opacity="0.50"/><rect x="129" y="65.68" width="1" height="44.72"/><rect x="130" y="60.91" width="1" height="49.49" fill-opacity="0.22"/><rect x="130" y="64.55" width="1" height="45.85" fill-opacity="0.27"/><rect x="130" y="65.39" width="1" height="45.01" fill-opacity="0.16"/><rect x="130" y="66.24" width="1" height="44.16" fill-opacity="0.45"/><rect x="130" y="68.10" width="1" height="42.30" fill-opacity="0.82"/><rect x="130" y="78.15" width="1" height="32.25"/><rect x="131" y="43.23" width="1" height="67.17" fill-opacity="0.22"/><rect x="131" y="49.39" width="1" height="61.01" fill-opacity="0.27"/><rect x="131" y="51.69" width="1" height="58.71" fill-opacity="0.38"/><rect x="131" y="62.34" width="1" height="48.06" fill-opacity="0.53"/><rect x="131" y="78.15" width="1" height="32.25"/><rect x="132" y="58.76" width="1" height="51.64" fill-opacity="0.22"/><rect x="132" y="61.78" width="1" height="48.62" fill-opacity="0.27"/><rect x="132" y="62.34" width="1" height="48.06" fill-opacity="0.05"/><rect x="132" y="62.80" width="1" height="47.60" fill-opacity="0.40"/><rect x="132" y="63.78" width="1" height="46.62" fill-opacity="0.34"/><rect x="132" y="85.40" width="1" height="25.00"/><rect x="133" y="43.97" width="1" height="66.43" fill-opacity="0.22"/><rect x="133" y="56.17" width="1" height="54.23" fill-opacity="0.27"/><rect x="133" y="58.33" width="1" height="52.07" fill-opacity="0.38"/><rect x="133" y="61.93" width="1" height="48.47" fill-opacity="0.10"/><rect x="133" y="63.78" width="1" height="46.62" fill-opacity="0.33"/><rect x="133" y="89.32" width="1" height="21.08"/><rect x="134" y="55.47" width="1" height="54.93" fill-opacity="0.17"/><rect x="134" y="56.19" width="1" height="54.21" fill-opacity="0.26"/><rect x="134" y="57.05" width="1" height="53.35" fill-opacity="0.35"/><rect x="134" y="61.93" width="1" height="48.47" fill-opacity="0.46"/><rect x="134" y="86.28" width="1" height="24.12"/><rect x="135" y="42.35" width="1" height="68.05" fill-opacity="0.10"/><rect x="135" y="55.47" width="1" height="54.93" fill-opacity="0.05"/><rect x="135" y="58.45" width="1" height="51.95" fill-opacity="0.25"/><rect x="135" y="60.51" width="1" height="49.89" fill-opacity="0.33"/><rect x="135" y="63.05" width="1" height="47.35" fill-opacity="0.50"/><rect x="135" y="78.78" width="1" height="31.62"/><rect x="136" y="40.67" width="1" height="69.73" fill-opacity="0.22"/><rect x="136" y="42.35" width="1" height="68.05" fill-opacity="0.15"/><rect x="136" y="45.41" width="1" height="64.99" fill-opacity="0.32"/><rect x="136" y="46.49" width="1" height="63.91" fill-opacity="0.05"/><rect x="136" y="63.45" width="1" height="46.95" fill-opacity="0.50"/><rect x="136" y="64.73" width="1" height="45.67"/><rect x="137" y="46.49" width="1" height="63.91" fill-opacity="0.19"/><rect x="137" y="49.12" width="1" height="61.28" fill-opacity="0.27"/><rect x="137" y="59.78" width="1" height="50.62" fill-opacity="0.27"/><rect x="137" y="63.10" width="1" height="47.30" fill-opacity="0.50"/><rect x="137" y="79.25" width="1" height="31.15"/><rect x="138" y="40.91" width="1" height="69.49" fill-opacity="0.22"/><rect x="138" y="44.01" width="1" height="66.39" fill-opacity="0.27"/><rect x="138" y="59.78" width="1" height="50.62" fill-opacity="0.10"/><rect x="138" y="60.35" width="1" height="50.05" fill-opacity="0.16"/><rect x="138" y="66.58" width="1" height="43.82" fill-opacity="0.50"/><rect x="138" y="66.64" width="1" height="43.76"/><rect x="139" y="50.04" width="1" height="60.36" fill-opacity="0.22"/><rect x="139" y="60.35" width="1" height="50.05" fill-opacity="0.17"/><rect x="139" y="62.96" width="1" height="47.44" fill-opacity="0.01"/><rect x="139" y="65.65" width="1" height="44.75" fill-opacity="0.33"/><rect x="139" y="78.38" width="1" height="32.02" fill-opacity="0.50"/><rect x="139" y="79.81" width="1" height="30.59"/><rect x="140" y="62.96" width="1" height="47.44" fill-opacity="0.21"/><rect x="140" y="66.34" width="1" height="44.06" fill-opacity="0.27"/><rect x="140" y="67.03" width="1" height="43.37" fill-opacity="0.25"/><rect x="140" y="68.11" width="1" height="42.29" fill-opacity="0.50"/><rect x="140" y="88.70" width="1" height="21.70"/><rect x="141" y="65.00" width="1" height="45.40" fill-opacity="0.22"/><rect x="141" y="67.03" width="1" height="43.37" fill-opacity="0.09"/><rect x="141" y="69.97" width="1" height="40.43" fill-opacity="0.30"/><rect x="141" y="71.63" width="1" height="38.77" fill-opacity="0.43"/><rect x="141" y="77.50" width="1" height="32.90" fill-opacity="0.25"/><rect x="141" y="83.04" width="1" height="27.36"/><rect x="142" y="64.93" width="1" height="45.47" fill-opacity="0.22"/><rect x="142" y="65.86" width="1" height="44.54" fill-opacity="0.27"/><rect x="142" y="67.24" width="1" height="43.16" fill-opacity="0.38"/><rect x="142" y="77.50" width="1" height="32.90" fill-opacity="0.41"/><rect x="142" y="78.10" width="1" height="32.30"/><rect x="143" y="51.93" width="1" height="58.47" fill-opacity="0.22"/><rect x="143" y="54.30" width="1" height="56.10" fill-opacity="0.27"/><rect x="143" y="64.63" width="1" height="45.77" fill-opacity="0.23"/><rect x="143" y="70.69" width="1" height="39.71" fill-opacity="0.49"/><rect x="143" y="71.40" width="1" height="39.00" fill-opacity="0.97"/><rect x="143" y="78.10" width="1" height="32.30"/><rect x="144" y="35.49" width="1" height="74.91" fill-opacity="0.06"/><rect x="144" y="49.54" width="1" height="60.86" fill-opacity="0.23"/><rect x="144" y="55.58" width="1" height="54.82" fill-opacity="0.30"/><rect x="144" y="56.34" width="1" height="54.06" fill-opacity="0.42"/><rect x="144" y="59.26" width="1" height="51.14" fill-opacity="0.72"/><rect x="144" y="64.63" width="1" height="45.77"/><rect x="145" y="35.49" width="1" height="74.91" fill-opacity="0.16"/><rect x="145" y="49.17" width="1" height="61.23" fill-opacity="0.26"/><rect x="145" y="50.36" width="1" height="60.04" fill-opacity="0.34"/><rect x="145" y="51.66" width="1" height="58.74" fill-opacity="0.48"/><rect x="145" y="65.76" width="1" height="44.64"/><rect x="146" y="51.56" width="1" height="58.84" fill-opacity="0.22"/><rect x="146" y="51.66" width="1" height="58.74" fill-opacity="0.02"/><rect x="146" y="53.46" width="1" height="56.94" fill-opacity="0.28"/><rect x="146" y="56.07" width="1" height="54.33" fill-opacity="0.22"/><rect x="146" y="62.43" width="1" height="47.97" fill-opacity="0.50"/><rect x="146" y="72.20" width="1" height="38.20"/><rect x="147" y="51.17" width="1" height="59.23" fill-opacity="0.04"/><rect x="147" y="55.16" width="1" height="55.24" fill-opacity="0.23"/><rect x="147" y="56.07" width="1" height="54.33" fill-opacity="0.13"/><rect x="147" y="58.62" width="1" height="51.78" fill-opacity="0.33"/><rect x="147" y="59.73" width="1" height="50.67" fill-opacity="0.50"/><rect x="147" y="83.10" width="1" height="27.30"/><rect x="148" y="18.81" width="1" height="91.59" fill-opacity="0.18"/><rect x="148" y="40.26" width="1" height="70.14" fill-opacity="0.26"/><rect x="148" y="48.79" width="1" height="61.61" fill-opacity="0.36"/><rect x="148" y="51.17" width="1" height="59.23" fill-opacity="0.44"/><rect x="148" y="58.77" width="1" height="51.63"/><rect x="149" y="18.81" width="1" height="91.59" fill-opacity="0.03"/><rect x="149" y="34.45" width="1" height="75.95" fill-opacity="0.11"/><rect x="149" y="40.72" width="1" height="69.68" fill-opacity="0.25"/><rect x="149" y="50.81" width="1" height="59.59" fill-opacity="0.33"/><rect x="149" y="56.06" width="1" height="54.34" fill-opacity="0.50"/><rect x="149" y="56.21" width="1" height="54.19"/><rect x="150" y="34.45" width="1" height="75.95" fill-opacity="0.11"/><rect x="150" y="38.07" width="1" height="72.33" fill-opacity="0.24"/><rect x="150" y="45.67" width="1" height="64.73" fill-opacity="0.32"/><rect x="150" y="49.47" width="1" height="60.93" fill-opacity="0.47"/><rect x="150" y="49.48" width="1" height="60.92" fill-opacity="0.88"/><rect x="150" y="68.99" width="1" height="41.41"/><rect x="151" y="53.66" width="1" height="56.74" fill-opacity="0.22"/><rect x="151" y="54.76" width="1" height="55.64" fill-opacity="0.22"/><rect x="151" y="55.80" width="1" height="54.60" fill-opacity="0.35"/><rect x="151" y="57.53" width="1" height="52.87" fill-opacity="0.54"/><rect x="151" y="68.99" width="1" height="41.41"/><rect x="152" y="36.72" width="1" height="73.68" fill-opacity="0.09"/><rect x="152" y="41.80" width="1" height="68.60" fill-opacity="0.24"/><rect x="152" y="42.65" width="1" height="67.75" fill-opacity="0.31"/><rect x="152" y="53.83" width="1" height="56.57" fill-opacity="0.45"/><rect x="152" y="54.02" width="1" height="56.38" fill-opacity="0.82"/><rect x="152" y="54.76" width="1" height="55.64"/><rect x="153" y="28.52" width="1" height="81.88" fill-opacity="0.22"/><rect x="153" y="36.72" width="1" height="73.68" fill-opacity="0.16"/><rect x="153" y="40.92" width="1" height="69.48" fill-opacity="0.33"/><rect x="153" y="44.57" width="1" height="65.83" fill-opacity="0.48"/><rect x="153" y="47.68" width="1" height="62.72" fill-opacity="0.93"/><rect x="153" y="56.42" width="1" height="53.98"/><rect x="154" y="38.98" width="1" height="71.42" fill-opacity="0.16"/><rect x="154" y="45.76" width="1" height="64.64" fill-opacity="0.25"/><rect x="154" y="50.64" width="1" height="59.76" fill-opacity="0.34"/><rect x="154" y="56.42" width="1" height="53.98" fill-opacity="0.48"/><rect x="154" y="57.89" width="1" height="52.51"/><rect x="155" y="34.59" width="1" height="75.81" fill-opacity="0.22"/><rect x="155" y="37.27" width="1" height="73.13" fill-opacity="0.27"/><rect x="155" y="38.98" width="1" height="71.42" fill-opacity="0.11"/><rect x="155" y="42.37" width="1" height="68.03" fill-opacity="0.16"/><rect x="155" y="51.33" width="1" height="59.07" fill-opacity="0.50"/><rect x="155" y="53.40" width="1" height="57.00"/><rect x="156" y="31.74" width="1" height="78.66" fill-opacity="0.22"/><rect x="156" y="42.37" width="1" height="68.03" fill-opacity="0.17"/><rect x="156" y="50.17" width="1" height="60.23" fill-opacity="0.33"/><rect x="156" y="51.43" width="1" height="58.97" fill-opacity="0.50"/><rect x="156" y="52.26" width="1" height="58.14" fill-opacity="0.99"/><rect x="156" y="58.98" width="1" height="51.42"/><rect x="157" y="44.96" width="1" height="65.44" fill-opacity="0.14"/><rect x="157" y="52.93" width="1" height="57.47" fill-opacity="0.25"/><rect x="157" y="57.42" width="1" height="52.98" fill-opacity="0.33"/><rect x="157" y="58.98" width="1" height="51.42" fill-opacity="0.50"/><rect x="157" y="58.98" width="1" height="51.42"/><rect x="158" y="28.59" width="1" height="81.81" fill-opacity="0.22"/><rect x="158" y="29.00" width="1" height="81.40" fill-opacity="0.27"/><rect x="158" y="39.87" width="1" height="70.53" fill-opacity="0.12"/><rect x="158" y="43.84" width="1" height="66.56" fill-opacity="0.43"/><rect x="158" y="44.96" width="1" height="65.44" fill-opacity="0.25"/><rect x="158" y="60.82" width="1" height="49.58"/><rect x="159" y="39.87" width="1" height="70.53" fill-opacity="0.15"/><rect x="159" y="49.12" width="1" height="61.28" fill-opacity="0.24"/><rect x="159" y="50.24" width="1" height="60.16" fill-opacity="0.33"/><rect x="159" y="51.66" width="1" height="58.74" fill-opacity="0.50"/><rect x="159" y="73.06" width="1" height="37.34"/><rect x="160" y="31.58" width="1" height="78.82" fill-opacity="0.22"/><rect x="160" y="38.06" width="1" height="72.34" fill-opacity="0.27"/><rect x="160" y="48.43" width="1" height="61.97" fill-opacity="0.38"/><rect x="160" y="49.12" width="1" height="61.28" fill-opacity="0.03"/><rect x="160" y="50.14" width="1" height="60.26" fill-opacity="0.37"/><rect x="160" y="69.46" width="1" height="40.94"/><rect x="161" y="42.28" width="1" height="68.12" fill-opacity="0.22"/><rect x="161" y="47.56" width="1" height="62.84" fill-opacity="0.07"/><rect x="161" y="50.14" width="1" height="60.26" fill-opacity="0.12"/><rect x="161" y="50.81" width="1" height="59.59" fill-opacity="0.33"/><rect x="161" y="50.98" width="1" height="59.42" fill-opacity="0.50"/><rect x="161" y="54.14" width="1" height="56.26"/><rect x="162" y="21.91" width="1" height="88.49" fill-opacity="0.22"/><rect x="162" y="41.05" width="1" height="69.35" fill-opacity="0.27"/><rect x="162" y="47.56" width="1" height="62.84" fill-opacity="0.29"/><rect x="162" y="50.47" width="1" height="59.93" fill-opacity="0.53"/><rect x="162" y="53.98" width="1" height="56.42"/><rect x="163" y="29.37" width="1" height="81.03" fill-opacity="0.22"/><rect x="163" y="33.04" width="1" height="77.36" fill-opacity="0.15"/><rect x="163" y="42.46" width="1" height="67.94" fill-opacity="0.32"/><rect x="163" y="53.63" width="1" height="56.77" fill-opacity="0.47"/><rect x="163" y="53.89" width="1" height="56.51" fill-opacity="0.90"/><rect x="163" y="53.98" width="1" height="56.42"/><rect x="164" y="33.04" width="1" height="77.36" fill-opacity="0.10"/><rect x="164" y="43.56" width="1" height="66.84" fill-opacity="0.24"/><rect x="164" y="44.01" width="1" height="66.39" fill-opacity="0.31"/><rect x="164" y="57.48" width="1" height="52.92" fill-opacity="0.46"/><rect x="164" y="64.22" width="1" height="46.18" fill-opacity="0.85"/><rect x="164" y="67.56" width="1" height="42.84"/><rect x="165" y="27.71" width="1" height="82.69" fill-opacity="0.22"/><rect x="165" y="49.39" width="1" height="61.01" fill-opacity="0.23"/><rect x="165" y="51.62" width="1" height="58.78" fill-opacity="0.35"/><rect x="165" y="56.19" width="1" height="54.21" fill-opacity="0.55"/><rect x="165" y="67.56" width="1" height="42.84"/><rect x="166" y="41.17" width="1" height="69.23" fill-opacity="0.22"/><rect x="166" y="42.03" width="1" height="68.37" fill-opacity="0.27"/><rect x="166" y="49.39" width="1" height="61.01" fill-opacity="0.07"/><rect x="166" y="53.06" width="1" height="57.34" fill-opacity="0.19"/><rect x="166" y="61.27" width="1" height="49.13" fill-opacity="0.50"/><rect x="166" y="64.58" width="1" height="45.82"/><rect x="167" y="47.31" width="1" height="63.09" fill-opacity="0.22"/><rect x="167" y="49.60" width="1" height="60.80" fill-opacity="0.03"/><rect x="167" y="52.60" width="1" height="57.80" fill-opacity="0.28"/><rect x="167" y="53.06" width="1" height="57.34" fill-opacity="0.21"/><rect x="167" y="58.94" width="1" height="51.46" fill-opacity="0.50"/><rect x="167" y="64.66" width="1" height="45.74"/><rect x="168" y="39.34" width="1" height="71.06" fill-opacity="0.22"/><rect x="168" y="40.38" width="1" height="70.02" fill-opacity="0.27"/><rect x="168" y="49.60" width="1" height="60.80" fill-opacity="0.33"/><rect x="168" y="57.51" width="1" height="52.89" fill-opacity="0.57"/><rect x="168" y="59.81" width="1" height="50.59"/><rect x="169" y="30.88" width="1" height="79.52" fill-opacity="0.22"/><rect x="169" y="45.37" width="1" height="65.03" fill-opacity="0.11"/><rect x="169" y="47.01" width="1" height="63.39" fill-opacity="0.31"/><rect x="169" y="59.81" width="1" height="50.59" fill-opacity="0.11"/><rect x="169" y="62.56" width="1" height="47.84" fill-opacity="0.50"/><rect x="169" y="66.69" width="1" height="43.71"/><rect x="170" y="39.04" width="1" height="71.36" fill-opacity="0.22"/><rect x="170" y="43.03" width="1" height="67.37" fill-opacity="0.01"/><rect x="170" y="45.37" width="1" height="65.03" fill-opacity="0.16"/><rect x="170" y="49.04" width="1" height="61.36" fill-opacity="0.33"/><rect x="170" y="49.73" width="1" height="60.67" fill-opacity="0.50"/><rect x="170" y="50.95" width="1" height="59.45"/><rect x="171" y="31.58" width="1" height="78.82" fill-opacity="0.22"/><rect x="171" y="31.67" width="1" height="78.73" fill-opacity="0.27"/><rect x="171" y="32.34" width="1" height="78.06" fill-opacity="0.38"/><rect x="171" y="43.03" width="1" height="67.37" fill-opacity="0.57"/><rect x="171" y="48.92" width="1" height="61.48"/><rect x="172" y="38.95" width="1" height="71.45" fill-opacity="0.22"/><rect x="172" y="46.61" width="1" height="63.79" fill-opacity="0.09"/><rect x="172" y="48.92" width="1" height="61.48" fill-opacity="0.09"/><rect x="172" y="50.45" width="1" height="59.95" fill-opacity="0.33"/><rect x="172" y="52.50" width="1" height="57.90" fill-opacity="0.50"/><rect x="172" y="56.14" width="1" height="54.26"/><rect x="173" y="34.04" width="1" height="76.36" fill-opacity="0.22"/><rect x="173" y="37.09" width="1" height="73.31" fill-opacity="0.27"/><rect x="173" y="46.61" width="1" height="63.79" fill-opacity="0.25"/><rect x="173" y="53.86" width="1" height="56.54" fill-opacity="0.50"/><rect x="173" y="54.25" width="1" height="56.15"/><rect x="174" y="29.60" width="1" height="80.80" fill-opacity="0.22"/><rect x="174" y="41.99" width="1" height="68.41" fill-opacity="0.17"/><rect x="174" y="46.69" width="1" height="63.71" fill-opacity="0.33"/><rect x="174" y="53.47" width="1" height="56.93" fill-opacity="0.50"/><rect x="174" y="54.25" width="1" height="56.15" fill-opacity="0.01"/><rect x="174" y="72.95" width="1" height="37.45"/><rect x="175" y="41.99" width="1" height="68.41" fill-opacity="0.08"/><rect x="175" y="48.23" width="1" height="62.17" fill-opacity="0.23"/><rect x="175" y="51.18" width="1" height="59.22" fill-opacity="0.30"/><rect x="175" y="54.44" width="1" height="55.96" fill-opacity="0.12"/><rect x="175" y="65.37" width="1" height="45.03" fill-opacity="0.50"/><rect x="175" y="75.15" width="1" height="35.25"/><rect x="176" y="54.44" width="1" height="55.96" fill-opacity="0.15"/><rect x="176" y="55.60" width="1" height="54.80" fill-opacity="0.25"/><rect x="176" y="57.36" width="1" height="53.04" fill-opacity="0.32"/><rect x="176" y="64.81" width="1" height="45.59" fill-opacity="0.50"/><rect x="176" y="81.54" width="1" height="28.86"/><rect x="177" y="45.60" width="1" height="64.80" fill-opacity="0.22"/><rect x="177" y="57.36" width="1" height="53.04" fill-opacity="0.02"/><rect x="177" y="62.09" width="1" height="48.31" fill-opacity="0.28"/><rect x="177" y="62.86" width="1" height="47.54" fill-opacity="0.22"/><rect x="177" y="74.25" width="1" height="36.15" fill-opacity="0.50"/><rect x="177" y="75.61" width="1" height="34.79"/><rect x="178" y="36.94" width="1" height="73.46" fill-opacity="0.22"/><rect x="178" y="46.35" width="1" height="64.05" fill-opacity="0.27"/><rect x="178" y="62.86" width="1" height="47.54" fill-opacity="0.16"/><rect x="178" y="63.72" width="1" height="46.68" fill-opacity="0.45"/><rect x="178" y="68.14" width="1" height="42.26" fill-opacity="0.18"/><rect x="178" y="72.02" width="1" height="38.38"/><rect x="179" y="48.75" width="1" height="61.65" fill-opacity="0.22"/><rect x="179" y="50.17" width="1" height="60.23" fill-opacity="0.27"/><rect x="179" y="52.31" width="1" height="58.09" fill-opacity="0.33"/><rect x="179" y="68.14" width="1" height="42.26" fill-opacity="0.44"/><rect x="179" y="86.04" width="1" height="24.36"/><rect x="180" y="48.67" width="1" height="61.73" fill-opacity="0.22"/><rect x="180" y="52.31" width="1" height="58.09" fill-opacity="0.04"/><rect x="180" y="74.17" width="1" height="36.23" fill-opacity="0.28"/><rect x="180" y="74.85" width="1" height="35.55" fill-opacity="0.40"/><rect x="180" y="75.18" width="1" height="35.22" fill-opacity="0.34"/><rect x="180" y="83.04" width="1" height="27.36"/><rect x="181" y="50.87" width="1" height="59.53" fill-opacity="0.22"/><rect x="181" y="51.69" width="1" height="58.71" fill-opacity="0.27"/><rect x="181" y="60.06" width="1" height="50.34" fill-opacity="0.38"/><rect x="181" y="66.05" width="1" height="44.35" fill-opacity="0.10"/><rect x="181" y="66.69" width="1" height="43.71" fill-opacity="0.67"/><rect x="181" y="75.18" width="1" height="35.22"/><rect x="182" y="35.44" width="1" height="74.96" fill-opacity="0.22"/><rect x="182" y="51.62" width="1" height="58.78" fill-opacity="0.27"/><rect x="182" y="56.92" width="1" height="53.48" fill-opacity="0.38"/><rect x="182" y="66.05" width="1" height="44.35" fill-opacity="0.51"/><rect x="182" y="73.44" width="1" height="36.96"/><rect x="183" y="42.89" width="1" height="67.51" fill-opacity="0.22"/><rect x="183" y="49.11" width="1" height="61.29" fill-opacity="0.12"/><rect x="183" y="55.77" width="1" height="54.63" fill-opacity="0.31"/><rect x="183" y="59.89" width="1" height="50.51" fill-opacity="0.46"/><rect x="183" y="64.44" width="1" height="45.96" fill-opacity="0.84"/><rect x="183" y="73.44" width="1" height="36.96"/><rect x="184" y="49.11" width="1" height="61.29" fill-opacity="0.12"/><rect x="184" y="58.16" width="1" height="52.24" fill-opacity="0.24"/><rect x="184" y="62.16" width="1" height="48.24" fill-opacity="0.32"/><rect x="184" y="64.50" width="1" height="45.90" fill-opacity="0.48"/><rect x="184" y="65.71" width="1" height="44.69" fill-opacity="0.09"/><rect x="184" y="70.03" width="1" height="40.37"/><rect x="185" y="51.70" width="1" height="58.70" fill-opacity="0.22"/><rect x="185" y="53.76" width="1" height="56.64" fill-opacity="0.27"/><rect x="185" y="55.55" width="1" height="54.85" fill-opacity="0.38"/><rect x="185" y="65.71" width="1" height="44.69" fill-opacity="0.55"/><rect x="185" y="74.50" width="1" height="35.90"/><rect x="186" y="35.65" width="1" height="74.75" fill-opacity="0.22"/><rect x="186" y="56.38" width="1" height="54.02" fill-opacity="0.27"/><rect x="186" y="56.63" width="1" height="53.77" fill-opacity="0.38"/><rect x="186" y="59.85" width="1" height="50.55" fill-opacity="0.61"/><rect x="186" y="72.67" width="1" height="37.73" fill-opacity="0.60"/><rect x="186" y="74.50" width="1" height="35.90"/><rect x="187" y="54.42" width="1" height="55.98" fill-opacity="0.22"/><rect x="187" y="68.91" width="1" height="41.49" fill-opacity="0.01"/><rect x="187" y="72.67" width="1" height="37.73" fill-opacity="0.17"/><rect x="187" y="73.69" width="1" height="36.71" fill-opacity="0.33"/><rect x="187" y="74.95" width="1" height="35.45" fill-opacity="0.50"/><rect x="187" y="87.38" width="1" height="23.02"/><rect x="188" y="68.91" width="1" height="41.49" fill-opacity="0.21"/><rect x="188" y="71.76" width="1" height="38.64" fill-opacity="0.27"/><rect x="188" y="77.50" width="1" height="32.90" fill-opacity="0.37"/><rect x="188" y="80.76" width="1" height="29.64" fill-opacity="0.40"/><rect x="188" y="80.99" width="1" height="29.41"/><rect x="189" y="60.86" width="1" height="49.54" fill-opacity="0.07"/><rect x="189" y="67.72" width="1" height="42.68" fill-opacity="0.23"/><rect x="189" y="73.87" width="1" height="36.53" fill-opacity="0.30"/><rect x="189" y="80.38" width="1" height="30.02" fill-opacity="0.43"/><rect x="189" y="80.76" width="1" height="29.64" fill-opacity="0.24"/><rect x="189" y="92.84" width="1" height="17.56"/><rect x="190" y="60.79" width="1" height="49.61" fill-opacity="0.22"/><rect x="190" y="60.86" width="1" height="49.54" fill-opacity="0.19"/><rect x="190" y="65.50" width="1" height="44.90" fill-opacity="0.33"/><rect x="190" y="77.28" width="1" height="33.12" fill-opacity="0.50"/><rect x="190" y="77.82" width="1" height="32.58"/><rect x="191" y="36.82" width="1" height="73.58" fill-opacity="0.22"/><rect x="191" y="57.17" width="1" height="53.23" fill-opacity="0.27"/><rect x="191" y="62.74" width="1" height="47.66" fill-opacity="0.38"/><rect x="191" y="63.89" width="1" height="46.51" fill-opacity="0.37"/><rect x="191" y="65.50" width="1" height="44.90" fill-opacity="0.03"/><rect x="191" y="74.35" width="1" height="36.05"/><rect x="192" y="30.61" width="1" height="79.79" fill-opacity="0.22"/><rect x="192" y="46.69" width="1" height="63.71" fill-opacity="0.07"/><rect x="192" y="54.19" width="1" height="56.21" fill-opacity="0.30"/><rect x="192" y="63.89" width="1" height="46.51" fill-opacity="0.16"/><rect x="192" y="66.96" width="1" height="43.44" fill-opacity="0.50"/><rect x="192" y="72.22" width="1" height="38.18"/><rect x="193" y="36.89" width="1" height="73.51" fill-opacity="0.22"/><rect x="193" y="46.69" width="1" height="63.71" fill-opacity="0.20"/><rect x="193" y="59.98" width="1" height="50.42" fill-opacity="0.34"/><rect x="193" y="64.47" width="1" height="45.93" fill-opacity="0.52"/><rect x="193" y="67.82" width="1" height="42.58"/><rect x="194" y="42.25" width="1" height="68.15" fill-opacity="0.22"/><rect x="194" y="57.97" width="1" height="52.43" fill-opacity="0.27"/><rect x="194" y="61.07" width="1" height="49.33" fill-opacity="0.21"/><rect x="194" y="63.70" width="1" height="46.70" fill-opacity="0.48"/><rect x="194" y="67.82" width="1" height="42.58" fill-opacity="0.09"/><rect x="194" y="76.23" width="1" height="34.17"/><rect x="195" y="45.13" width="1" height="65.27" fill-opacity="0.22"/><rect x="195" y="50.52" width="1" height="59.88" fill-opacity="0.27"/><rect x="195" y="56.87" width="1" height="53.53" fill-opacity="0.07"/><rect x="195" y="58.75" width="1" height="51.65" fill-opacity="0.41"/><rect x="195" y="61.07" width="1" height="49.33" fill-opacity="0.31"/><rect x="195" y="77.35" width="1" height="33.05"/><rect x="196" y="48.77" width="1" height="61.63" fill-opacity="0.22"/><rect x="196" y="52.44" width="1" height="57.96" fill-opacity="0.23"/><rect x="196" y="52.62" width="1" height="57.78" fill-opacity="0.36"/><rect x="196" y="56.87" width="1" height="53.53" fill-opacity="0.45"/><rect x="196" y="65.57" width="1" height="44.83"/><rect x="197" y="52.44" width="1" height="57.96" fill-opacity="0.03"/><rect x="197" y="55.72" width="1" height="54.68" fill-opacity="0.11"/><rect x="197" y="63.20" width="1" height="47.20" fill-opacity="0.25"/><rect x="197" y="65.35" width="1" height="45.05" fill-opacity="0.33"/><rect x="197" y="77.70" width="1" height="32.70" fill-opacity="0.50"/><rect x="197" y="80.77" width="1" height="29.63"/><rect x="198" y="52.60" width="1" height="57.80" fill-opacity="0.22"/><rect x="198" y="55.72" width="1" height="54.68" fill-opacity="0.14"/><rect x="198" y="59.05" width="1" height="51.35" fill-opacity="0.32"/><rect x="198" y="59.66" width="1" height="50.74" fill-opacity="0.47"/><rect x="198" y="69.24" width="1" height="41.16" fill-opacity="0.88"/><rect x="198" y="70.77" width="1" height="39.63"/><rect x="199" y="52.78" width="1" height="57.62" fill-opacity="0.22"/><rect x="199" y="56.94" width="1" height="53.46" fill-opacity="0.21"/><rect x="199" y="64.79" width="1" height="45.61" fill-opacity="0.35"/><rect x="199" y="66.80" width="1" height="43.60" fill-opacity="0.54"/><rect x="199" y="70.77" width="1" height="39.63"/><rect x="200" y="35.44" width="1" height="74.96" fill-opacity="0.22"/><rect x="200" y="46.31" width="1" height="64.09" fill-opacity="0.27"/><rect x="200" y="46.78" width="1" height="63.62" fill-opacity="0.38"/><rect x="200" y="55.77" width="1" height="54.63" fill-opacity="0.61"/><rect x="200" y="56.94" width="1" height="53.46" fill-opacity="0.34"/><rect x="200" y="62.65" width="1" height="47.75"/><rect x="201" y="41.47" width="1" height="68.93" fill-opacity="0.02"/><rect x="201" y="44.69" width="1" height="65.71" fill-opacity="0.22"/><rect x="201" y="47.56" width="1" height="62.84" fill-opacity="0.28"/><rect x="201" y="54.85" width="1" height="55.55" fill-opacity="0.39"/><rect x="201" y="55.89" width="1" height="54.51" fill-opacity="0.64"/><rect x="201" y="62.65" width="1" height="47.75"/><rect x="202" y="41.47" width="1" height="68.93" fill-opacity="0.20"/><rect x="202" y="42.68" width="1" height="67.72" fill-opacity="0.27"/><rect x="202" y="45.72" width="1" height="64.68" fill-opacity="0.37"/><rect x="202" y="46.52" width="1" height="63.88" fill-opacity="0.58"/><rect x="202" y="51.12" width="1" height="59.28"/><rect x="203" y="45.78" width="1" height="64.62" fill-opacity="0.22"/><rect x="203" y="50.98" width="1" height="59.42" fill-opacity="0.10"/><rect x="203" y="51.12" width="1" height="59.28" fill-opacity="0.09"/><rect x="203" y="56.06" width="1" height="54.34" fill-opacity="0.33"/><rect x="203" y="56.28" width="1" height="54.12" fill-opacity="0.50"/><rect x="203" y="57.20" width="1" height="53.20"/><rect x="204" y="36.18" width="1" height="74.22" fill-opacity="0.00"/><rect x="204" y="43.57" width="1" height="66.83" fill-opacity="0.22"/><rect x="204" y="50.98" width="1" height="59.42" fill-opacity="0.17"/><rect x="204" y="52.78" width="1" height="57.62" fill-opacity="0.33"/><rect x="204" y="54.59" width="1" height="55.81" fill-opacity="0.50"/><rect x="204" y="56.89" width="1" height="53.51"/><rect x="205" y="36.18" width="1" height="74.22" fill-opacity="0.21"/><rect x="205" y="59.70" width="1" height="50.70" fill-opacity="0.27"/><rect x="205" y="61.95" width="1" height="48.45" fill-opacity="0.25"/><rect x="205" y="65.12" width="1" height="45.28" fill-opacity="0.50"/><rect x="205" y="69.58" width="1" height="40.82"/><rect x="206" y="37.81" width="1" height="72.59" fill-opacity="0.22"/><rect x="206" y="49.08" width="1" height="61.32" fill-opacity="0.27"/><rect x="206" y="56.26" width="1" height="54.14" fill-opacity="0.11"/><rect x="206" y="56.33" width="1" height="54.07" fill-opacity="0.43"/><rect x="206" y="61.95" width="1" height="48.45" fill-opacity="0.26"/><rect x="206" y="67.98" width="1" height="42.42"/><rect x="207" y="45.70" width="1" height="64.70" fill-opacity="0.22"/><rect x="207" y="50.78" width="1" height="59.62" fill-opacity="0.26"/><rect x="207" y="55.38" width="1" height="55.02" fill-opacity="0.37"/><rect x="207" y="56.26" width="1" height="54.14" fill-opacity="0.41"/><rect x="207" y="67.98" width="1" height="42.42"/><rect x="208" y="48.32" width="1" height="62.08" fill-opacity="0.22"/><rect x="208" y="49.68" width="1" height="60.72" fill-opacity="0.27"/><rect x="208" y="49.70" width="1" height="60.70" fill-opacity="0.38"/><rect x="208" y="50.78" width="1" height="59.62" fill-opacity="0.03"/><rect x="208" y="60.16" width="1" height="50.24" fill-opacity="0.63"/><rect x="208" y="71.83" width="1" height="38.57"/><rect x="209" y="35.90" width="1" height="74.50" fill-opacity="0.05"/><rect x="209" y="46.88" width="1" height="63.52" fill-opacity="0.23"/><rect x="209" y="47.91" width="1" height="62.49" fill-opacity="0.29"/><rect x="209" y="63.27" width="1" height="47.13" fill-opacity="0.42"/><rect x="209" y="71.07" width="1" height="39.33" fill-opacity="0.71"/><rect x="209" y="71.83" width="1" height="38.57"/><rect x="210" y="35.90" width="1" height="74.50" fill-opacity="0.16"/><rect x="210" y="41.29" width="1" height="69.11" fill-opacity="0.26"/><rect x="210" y="47.64" width="1" height="62.76" fill-opacity="0.35"/><rect x="210" y="50.86" width="1" height="59.54" fill-opacity="0.53"/><rect x="210" y="57.44" width="1" height="52.96"/><rect x="211" y="43.57" width="1" height="66.83" fill-opacity="0.22"/><rect x="211" y="48.08" width="1" height="62.32" fill-opacity="0.15"/><rect x="211" y="50.01" width="1" height="60.39" fill-opacity="0.32"/><rect x="211" y="52.96" width="1" height="57.44" fill-opacity="0.47"/><rect x="211" y="57.44" width="1" height="52.96" fill-opacity="0.10"/><rect x="211" y="63.57" width="1" height="46.83"/><rect x="212" y="39.77" width="1" height="70.63" fill-opacity="0.22"/><rect x="212" y="48.08" width="1" height="62.32" fill-opacity="0.13"/><rect x="212" y="52.25" width="1" height="58.15" fill-opacity="0.31"/><rect x="212" y="55.04" width="1" height="55.36" fill-opacity="0.08"/><rect x="212" y="57.71" width="1" height="52.69" fill-opacity="0.50"/><rect x="212" y="61.03" width="1" height="49.37"/><rect x="213" y="47.75" width="1" height="62.65" fill-opacity="0.18"/><rect x="213" y="55.04" width="1" height="55.36" fill-opacity="0.22"/><rect x="213" y="57.30" width="1" height="53.10" fill-opacity="0.33"/><rect x="213" y="59.60" width="1" height="50.80" fill-opacity="0.50"/><rect x="213" y="64.86" width="1" height="45.54"/><rect x="214" y="35.44" width="1" height="74.96" fill-opacity="0.22"/><rect x="214" y="35.81" width="1" height="74.59" fill-opacity="0.13"/><rect x="214" y="39.58" width="1" height="70.82" fill-opacity="0.31"/><rect x="214" y="42.20" width="1" height="68.20" fill-opacity="0.46"/><rect x="214" y="47.75" width="1" height="62.65" fill-opacity="0.15"/><rect x="214" y="50.59" width="1" height="59.81"/><rect x="215" y="35.44" width="1" height="74.96" fill-opacity="0.22"/><rect x="215" y="35.81" width="1" height="74.59" fill-opacity="0.15"/><rect x="215" y="40.38" width="1" height="70.02" fill-opacity="0.04"/><rect x="215" y="40.40" width="1" height="70.00" fill-opacity="0.33"/><rect x="215" y="42.92" width="1" height="67.48" fill-opacity="0.50"/><rect x="215" y="50.55" width="1" height="59.85"/><rect x="216" y="35.44" width="1" height="74.96" fill-opacity="0.16"/><rect x="216" y="38.84" width="1" height="71.56" fill-opacity="0.26"/><rect x="216" y="40.38" width="1" height="70.02" fill-opacity="0.31"/><rect x="216" y="44.13" width="1" height="66.27" fill-opacity="0.50"/><rect x="216" y="56.48" width="1" height="53.92"/><rect x="217" y="35.44" width="1" height="74.96" fill-opacity="0.05"/><rect x="217" y="35.44" width="1" height="74.96" fill-opacity="0.23"/><rect x="217" y="40.13" width="1" height="70.27" fill-opacity="0.29"/><rect x="217" y="55.94" width="1" height="54.46" fill-opacity="0.17"/><rect x="217" y="57.57" width="1" height="52.83" fill-opacity="0.50"/><rect x="217" y="58.68" width="1" height="51.72"/><rect x="218" y="39.18" width="1" height="71.22" fill-opacity="0.22"/><rect x="218" y="44.45" width="1" height="65.95" fill-opacity="0.27"/><rect x="218" y="54.47" width="1" height="55.93" fill-opacity="0.38"/><rect x="218" y="55.94" width="1" height="54.46" fill-opacity="0.36"/><rect x="218" y="57.17" width="1" height="53.23" fill-opacity="0.05"/><rect x="218" y="61.76" width="1" height="48.64"/><rect x="219" y="52.31" width="1" height="58.09" fill-opacity="0.22"/><rect x="219" y="53.24" width="1" height="57.16" fill-opacity="0.27"/><rect x="219" y="57.17" width="1" height="53.23" fill-opacity="0.36"/><rect x="219" y="69.57" width="1" height="40.83" fill-opacity="0.59"/><rect x="219" y="70.61" width="1" height="39.79"/><rect x="220" y="35.44" width="1" height="74.96" fill-opacity="0.07"/><rect x="220" y="46.14" width="1" height="64.26" fill-opacity="0.23"/><rect x="220" y="60.07" width="1" height="50.33" fill-opacity="0.30"/><rect x="220" y="61.60" width="1" height="48.80" fill-opacity="0.43"/><rect x="220" y="68.18" width="1" height="42.22" fill-opacity="0.77"/><rect x="220" y="70.61" width="1" height="39.79"/><rect x="221" y="35.44" width="1" height="74.96" fill-opacity="0.14"/><rect x="221" y="48.54" width="1" height="61.86" fill-opacity="0.25"/><rect x="221" y="50.47" width="1" height="59.93" fill-opacity="0.33"/><rect x="221" y="64.96" width="1" height="45.44" fill-opacity="0.50"/><rect x="221" y="67.98" width="1" height="42.42"/><rect x="222" y="48.54" width="1" height="61.86" fill-opacity="0.00"/><rect x="222" y="52.80" width="1" height="57.60" fill-opacity="0.22"/><rect x="222" y="60.87" width="1" height="49.53" fill-opacity="0.17"/><rect x="222" y="62.28" width="1" height="48.12" fill-opacity="0.33"/><rect x="222" y="62.53" width="1" height="47.87" fill-opacity="0.50"/><rect x="222" y="63.40" width="1" height="47.00"/><rect x="223" y="47.62" width="1" height="62.78" fill-opacity="0.06"/><rect x="223" y="59.12" width="1" height="51.28" fill-opacity="0.23"/><rect x="223" y="60.87" width="1" height="49.53" fill-opacity="0.11"/><rect x="223" y="64.06" width="1" height="46.34" fill-opacity="0.33"/><rect x="223" y="64.68" width="1" height="45.72" fill-opacity="0.50"/><rect x="223" y="68.69" width="1" height="41.71"/><rect x="224" y="41.55" width="1" height="68.85" fill-opacity="0.20"/><rect x="224" y="47.62" width="1" height="62.78" fill-opacity="0.19"/><rect x="224" y="52.02" width="1" height="58.38" fill-opacity="0.33"/><rect x="224" y="56.13" width="1" height="54.27" fill-opacity="0.50"/><rect x="224" y="65.17" width="1" height="45.23"/><rect x="225" y="34.48" width="1" height="75.92" fill-opacity="0.22"/><rect x="225" y="35.44" width="1" height="74.96" fill-opacity="0.27"/><rect x="225" y="36.26" width="1" height="74.14" fill-opacity="0.38"/><rect x="225" y="41.55" width="1" height="68.85" fill-opacity="0.05"/><rect x="225" y="55.64" width="1" height="54.76" fill-opacity="0.64"/><rect x="225" y="57.48" width="1" height="52.92"/><rect x="226" y="52.80" width="1" height="57.60" fill-opacity="0.05"/><rect x="226" y="53.19" width="1" height="57.21" fill-opacity="0.23"/><rect x="226" y="57.48" width="1" height="52.92" fill-opacity="0.13"/><rect x="226" y="58.92" width="1" height="51.48" fill-opacity="0.33"/><rect x="226" y="65.61" width="1" height="44.79" fill-opacity="0.50"/><rect x="226" y="67.00" width="1" height="43.40"/><rect x="227" y="48.95" width="1" height="61.45" fill-opacity="0.22"/><rect x="227" y="50.50" width="1" height="59.90" fill-opacity="0.24"/><rect x="227" y="52.80" width="1" height="57.60" fill-opacity="0.28"/><rect x="227" y="65.56" width="1" height="44.84" fill-opacity="0.50"/><rect x="227" y="78.38" width="1" height="32.02"/><rect x="228" y="42.75" width="1" height="67.65" fill-opacity="0.22"/><rect x="228" y="50.50" width="1" height="59.90" fill-opacity="0.04"/><rect x="228" y="50.68" width="1" height="59.72" fill-opacity="0.29"/><rect x="228" y="51.71" width="1" height="58.69" fill-opacity="0.40"/><rect x="228" y="54.43" width="1" height="55.97" fill-opacity="0.66"/><rect x="228" y="63.24" width="1" height="47.16"/><rect x="229" y="36.53" width="1" height="73.87" fill-opacity="0.22"/><rect x="229" y="49.67" width="1" height="60.73" fill-opacity="0.27"/><rect x="229" y="53.47" width="1" height="56.93" fill-opacity="0.06"/><rect x="229" y="58.93" width="1" height="51.47" fill-opacity="0.40"/><rect x="229" y="63.24" width="1" height="47.16" fill-opacity="0.33"/><rect x="229" y="67.04" width="1" height="43.36"/><rect x="230" y="35.44" width="1" height="74.96" fill-opacity="0.22"/><rect x="230" y="39.14" width="1" height="71.26" fill-opacity="0.22"/><rect x="230" y="42.62" width="1" height="67.78" fill-opacity="0.35"/><rect x="230" y="43.23" width="1" height="67.17" fill-opacity="0.54"/><rect x="230" y="53.47" width="1" height="56.93"/><rect x="231" y="39.14" width="1" height="71.26" fill-opacity="0.04"/><rect x="231" y="48.54" width="1" height="61.86" fill-opacity="0.10"/><rect x="231" y="49.99" width="1" height="60.41" fill-opacity="0.25"/><rect x="231" y="55.89" width="1" height="54.51" fill-opacity="0.33"/><rect x="231" y="59.84" width="1" height="50.56" fill-opacity="0.50"/><rect x="231" y="66.45" width="1" height="43.95"/><rect x="232" y="35.44" width="1" height="74.96" fill-opacity="0.22"/><rect x="232" y="44.38" width="1" height="66.02" fill-opacity="0.27"/><rect x="232" y="48.54" width="1" height="61.86" fill-opacity="0.21"/><rect x="232" y="54.13" width="1" height="56.27" fill-opacity="0.04"/><rect x="232" y="57.43" width="1" height="52.97" fill-opacity="0.50"/><rect x="232" y="66.88" width="1" height="43.52"/><rect x="233" y="50.52" width="1" height="59.88" fill-opacity="0.16"/><rect x="233" y="54.13" width="1" height="56.27" fill-opacity="0.23"/><rect x="233" y="56.57" width="1" height="53.83" fill-opacity="0.33"/><rect x="233" y="62.90" width="1" height="47.50" fill-opacity="0.50"/><rect x="233" y="68.45" width="1" height="41.95"/><rect x="234" y="47.00" width="1" height="63.40" fill-opacity="0.22"/><rect x="234" y="50.52" width="1" height="59.88" fill-opacity="0.07"/><rect x="234" y="56.88" width="1" height="53.52" fill-opacity="0.30"/><rect x="234" y="59.64" width="1" height="50.76" fill-opacity="0.16"/><rect x="234" y="60.02" width="1" height="50.38" fill-opacity="0.50"/><rect x="234" y="63.82" width="1" height="46.58"/><rect x="235" y="50.05" width="1" height="60.35" fill-opacity="0.22"/><rect x="235" y="56.22" width="1" height="54.18" fill-opacity="0.01"/><rect x="235" y="59.64" width="1" height="50.76" fill-opacity="0.17"/><rect x="235" y="61.89" width="1" height="48.51" fill-opacity="0.33"/><rect x="235" y="67.45" width="1" height="42.95" fill-opacity="0.50"/><rect x="235" y="73.41" width="1" height="36.99"/><rect x="236" y="45.08" width="1" height="65.32" fill-opacity="0.22"/><rect x="236" y="51.91" width="1" height="58.49" fill-opacity="0.27"/><rect x="236" y="55.41" width="1" height="54.99" fill-opacity="0.38"/><rect x="236" y="56.22" width="1" height="54.18" fill-opacity="0.59"/><rect x="236" y="66.01" width="1" height="44.39"/><rect x="237" y="35.67" width="1" height="74.73" fill-opacity="0.22"/><rect x="237" y="39.57" width="1" height="70.83" fill-opacity="0.27"/><rect x="237" y="43.58" width="1" height="66.82" fill-opacity="0.38"/><rect x="237" y="56.59" width="1" height="53.81" fill-opacity="0.19"/><rect x="237" y="57.54" width="1" height="52.86" fill-opacity="0.75"/><rect x="237" y="66.01" width="1" height="44.39"/><rect x="238" y="35.44" width="1" height="74.96" fill-opacity="0.22"/><rect x="238" y="35.44" width="1" height="74.96" fill-opacity="0.27"/><rect x="238" y="49.11" width="1" height="61.29" fill-opacity="0.37"/><rect x="238" y="52.99" width="1" height="57.41" fill-opacity="0.60"/><rect x="238" y="56.59" width="1" height="53.81"/><rect x="239" y="49.11" width="1" height="61.29" fill-opacity="0.01"/><rect x="239" y="52.40" width="1" height="58.00" fill-opacity="0.22"/><rect x="239" y="54.25" width="1" height="56.15" fill-opacity="0.28"/><rect x="239" y="54.42" width="1" height="55.98" fill-opacity="0.38"/><rect x="239" y="55.72" width="1" height="54.68" fill-opacity="0.62"/><rect x="239" y="68.20" width="1" height="42.20"/><rect x="240" y="33.51" width="1" height="76.89" fill-opacity="0.22"/><rect x="240" y="35.44" width="1" height="74.96" fill-opacity="0.27"/><rect x="240" y="44.34" width="1" height="66.06" fill-opacity="0.10"/><rect x="240" y="53.43" width="1" height="56.97" fill-opacity="0.42"/><rect x="240" y="57.36" width="1" height="53.04" fill-opacity="0.72"/><rect x="240" y="68.20" width="1" height="42.20"/><rect x="241" y="44.34" width="1" height="66.06" fill-opacity="0.16"/><rect x="241" y="52.00" width="1" height="58.40" fill-opacity="0.26"/><rect x="241" y="58.50" width="1" height="51.90" fill-opacity="0.34"/><rect x="241" y="59.54" width="1" height="50.86" fill-opacity="0.47"/><rect x="241" y="79.53" width="1" height="30.87"/><rect x="242" y="37.48" width="1" height="72.92" fill-opacity="0.22"/><rect x="242" y="39.62" width="1" height="70.78" fill-opacity="0.15"/><rect x="242" y="54.27" width="1" height="56.13" fill-opacity="0.32"/><rect x="242" y="59.54" width="1" height="50.86" fill-opacity="0.05"/><rect x="242" y="59.75" width="1" height="50.65" fill-opacity="0.50"/><rect x="242" y="77.02" width="1" height="33.38"/><rect x="243" y="39.62" width="1" height="70.78" fill-opacity="0.10"/><rect x="243" y="57.04" width="1" height="53.36" fill-opacity="0.24"/><rect x="243" y="59.66" width="1" height="50.74" fill-opacity="0.06"/><rect x="243" y="59.69" width="1" height="50.71" fill-opacity="0.33"/><rect x="243" y="61.49" width="1" height="48.91" fill-opacity="0.50"/><rect x="243" y="76.83" width="1" height="33.57"/><rect x="244" y="38.57" width="1" height="71.83" fill-opacity="0.22"/><rect x="244" y="44.20" width="1" height="66.20" fill-opacity="0.27"/><rect x="244" y="45.20" width="1" height="65.20" fill-opacity="0.38"/><rect x="244" y="45.46" width="1" height="64.94" fill-opacity="0.51"/><rect x="244" y="59.66" width="1" height="50.74"/><rect x="245" y="35.44" width="1" height="74.96" fill-opacity="0.22"/><rect x="245" y="35.53" width="1" height="74.87" fill-opacity="0.27"/><rect x="245" y="44.93" width="1" height="65.47" fill-opacity="0.38"/><rect x="245" y="45.46" width="1" height="64.94" fill-opacity="0.10"/><rect x="245" y="50.36" width="1" height="60.04" fill-opacity="0.67"/><rect x="245" y="76.46" width="1" height="33.94"/><rect x="246" y="35.44" width="1" height="74.96" fill-opacity="0.22"/><rect x="246" y="35.44" width="1" height="74.96" fill-opacity="0.04"/><rect x="246" y="50.48" width="1" height="59.92" fill-opacity="0.28"/><rect x="246" y="54.09" width="1" height="56.31" fill-opacity="0.40"/><rect x="246" y="64.42" width="1" height="45.98" fill-opacity="0.66"/><rect x="246" y="76.46" width="1" height="33.94"/><rect x="247" y="35.44" width="1" height="74.96" fill-opacity="0.19"/><rect x="247" y="49.22" width="1" height="61.18" fill-opacity="0.26"/><rect x="247" y="52.21" width="1" height="58.19" fill-opacity="0.36"/><rect x="247" y="61.19" width="1" height="49.21" fill-opacity="0.56"/><rect x="247" y="64.54" width="1" height="45.86"/><rect x="248" y="52.02" width="1" height="58.38" fill-opacity="0.22"/><rect x="248" y="52.04" width="1" height="58.36" fill-opacity="0.12"/><rect x="248" y="64.54" width="1" height="45.86" fill-opacity="0.07"/><rect x="248" y="67.04" width="1" height="43.36" fill-opacity="0.33"/><rect x="248" y="70.01" width="1" height="40.39" fill-opacity="0.50"/><rect x="248" y="71.12" width="1" height="39.28"/><rect x="249" y="41.27" width="1" height="69.13" fill-opacity="0.22"/><rect x="249" y="50.75" width="1" height="59.65" fill-opacity="0.27"/><rect x="249" y="52.04" width="1" height="58.36" fill-opacity="0.22"/><rect x="249" y="70.18" width="1" height="40.22" fill-opacity="0.03"/><rect x="249" y="73.23" width="1" height="37.17" fill-opacity="0.50"/><rect x="249" y="79.53" width="1" height="30.87"/><rect x="250" y="40.93" width="1" height="69.47" fill-opacity="0.22"/><rect x="250" y="51.66" width="1" height="58.74" fill-opacity="0.27"/><rect x="250" y="63.36" width="1" height="47.04" fill-opacity="0.38"/><rect x="250" y="70.18" width="1" height="40.22" fill-opacity="0.57"/><rect x="250" y="70.95" width="1" height="39.45"/><rect x="251" y="35.44" width="1" height="74.96" fill-opacity="0.22"/><rect x="251" y="41.23" width="1" height="69.17" fill-opacity="0.10"/><rect x="251" y="46.44" width="1" height="63.96" fill-opacity="0.30"/><rect x="251" y="51.90" width="1" height="58.50" fill-opacity="0.44"/><rect x="251" y="67.63" width="1" height="42.77" fill-opacity="0.78"/><rect x="251" y="70.95" width="1" height="39.45"/><rect x="252" y="35.59" width="1" height="74.81" fill-opacity="0.22"/><rect x="252" y="37.79" width="1" height="72.61" fill-opacity="0.27"/><rect x="252" y="41.23" width="1" height="69.17" fill-opacity="0.24"/><rect x="252" y="50.66" width="1" height="59.74" fill-opacity="0.50"/><rect x="252" y="59.64" width="1" height="50.76" fill-opacity="0.99"/><rect x="252" y="62.91" width="1" height="47.49"/><rect x="253" y="29.64" width="1" height="80.76" fill-opacity="0.22"/><rect x="253" y="50.36" width="1" height="60.04" fill-opacity="0.18"/><rect x="253" y="56.28" width="1" height="54.12" fill-opacity="0.33"/><rect x="253" y="62.91" width="1" height="47.49" fill-opacity="0.50"/><rect x="253" y="70.81" width="1" height="39.59"/><rect x="254" y="35.44" width="1" height="74.96" fill-opacity="0.22"/><rect x="254" y="48.33" width="1" height="62.07" fill-opacity="0.08"/><rect x="254" y="50.36" width="1" height="60.04" fill-opacity="0.10"/><rect x="254" y="57.75" width="1" height="52.65" fill-opacity="0.33"/><rect x="254" y="62.86" width="1" height="47.54" fill-opacity="0.50"/><rect x="254" y="63.94" width="1" height="46.46"/><rect x="255" y="36.35" width="1" height="74.05" fill-opacity="0.22"/><rect x="255" y="43.38" width="1" height="67.02" fill-opacity="0.26"/><rect x="255" y="48.33" width="1" height="62.07" fill-opacity="0.26"/><rect x="255" y="50.63" width="1" height="59.77" fill-opacity="0.50"/><rect x="255" y="52.06" width="1" height="58.34"/><rect x="256" y="43.38" width="1" height="67.02" fill-opacity="0.01"/><rect x="256" y="45.47" width="1" height="64.93" fill-opacity="0.22"/><rect x="256" y="46.41" width="1" height="63.99" fill-opacity="0.28"/><rect x="256" y="50.00" width="1" height="60.40" fill-opacity="0.39"/><rect x="256" y="52.39" width="1" height="58.01" fill-opacity="0.37"/><rect x="256" y="57.37" width="1" height="53.03"/><rect x="257" y="40.72" width="1" height="69.68" fill-opacity="0.22"/><rect x="257" y="43.66" width="1" height="66.74" fill-opacity="0.27"/><rect x="257" y="52.39" width="1" height="58.01" fill-opacity="0.16"/><rect x="257" y="57.95" width="1" height="52.45" fill-opacity="0.45"/><rect x="257" y="71.00" width="1" height="39.40" fill-opacity="0.19"/><rect x="257" y="76.75" width="1" height="33.65"/><rect x="258" y="59.20" width="1" height="51.20" fill-opacity="0.19"/><rect x="258" y="59.36" width="1" height="51.04" fill-opacity="0.27"/><rect x="258" y="65.07" width="1" height="45.33" fill-opacity="0.36"/><rect x="258" y="70.92" width="1" height="39.48" fill-opacity="0.57"/><rect x="258" y="71.00" width="1" height="39.40"/><rect x="259" y="42.54" width="1" height="67.86" fill-opacity="0.11"/><rect x="259" y="49.32" width="1" height="61.08" fill-opacity="0.24"/><rect x="259" y="53.86" width="1" height="56.54" fill-opacity="0.32"/><rect x="259" y="54.23" width="1" height="56.17" fill-opacity="0.47"/><rect x="259" y="59.20" width="1" height="51.20" fill-opacity="0.11"/><rect x="259" y="68.77" width="1" height="41.63"/><rect x="260" y="35.44" width="1" height="74.96" fill-opacity="0.22"/><rect x="260" y="38.28" width="1" height="72.12" fill-opacity="0.27"/><rect x="260" y="42.54" width="1" height="67.86" fill-opacity="0.18"/><rect x="260" y="49.40" width="1" height="61.00" fill-opacity="0.46"/><rect x="260" y="53.05" width="1" height="57.35" fill-opacity="0.85"/><rect x="260" y="76.43" width="1" height="33.97"/><rect x="261" y="35.44" width="1" height="74.96" fill-opacity="0.22"/><rect x="261" y="35.44" width="1" height="74.96" fill-opacity="0.22"/><rect x="261" y="53.47" width="1" height="56.93" fill-opacity="0.35"/><rect x="261" y="69.00" width="1" height="41.40" fill-opacity="0.55"/><rect x="261" y="76.43" width="1" height="33.97"/><rect x="262" y="35.44" width="1" height="74.96" fill-opacity="0.04"/><rect x="262" y="42.06" width="1" height="68.34" fill-opacity="0.10"/><rect x="262" y="46.31" width="1" height="64.09" fill-opacity="0.25"/><rect x="262" y="49.08" width="1" height="61.32" fill-opacity="0.33"/><rect x="262" y="53.16" width="1" height="57.24" fill-opacity="0.50"/><rect x="262" y="53.53" width="1" height="56.87"/><rect x="263" y="38.64" width="1" height="71.76" fill-opacity="0.22"/><rect x="263" y="40.05" width="1" height="70.35" fill-opacity="0.27"/><rect x="263" y="42.06" width="1" height="68.34" fill-opacity="0.20"/><rect x="263" y="49.34" width="1" height="61.06" fill-opacity="0.05"/><rect x="263" y="62.84" width="1" height="47.56" fill-opacity="0.50"/><rect x="263" y="67.19" width="1" height="43.21"/><rect x="264" y="41.54" width="1" height="68.86" fill-opacity="0.22"/><rect x="264" y="49.34" width="1" height="61.06" fill-opacity="0.24"/><rect x="264" y="50.65" width="1" height="59.75" fill-opacity="0.36"/><rect x="264" y="72.14" width="1" height="38.26" fill-opacity="0.57"/><rect x="264" y="72.25" width="1" height="38.15"/><rect x="265" y="51.99" width="1" height="58.41" fill-opacity="0.09"/><rect x="265" y="60.60" width="1" height="49.80" fill-opacity="0.24"/><rect x="265" y="60.61" width="1" height="49.79" fill-opacity="0.31"/><rect x="265" y="67.76" width="1" height="42.64" fill-opacity="0.45"/><rect x="265" y="68.37" width="1" height="42.03" fill-opacity="0.80"/><rect x="265" y="72.25" width="1" height="38.15"/><rect x="266" y="38.34" width="1" height="72.06" fill-opacity="0.22"/><rect x="266" y="47.53" width="1" height="62.87" fill-opacity="0.01"/><rect x="266" y="50.30" width="1" height="60.10" fill-opacity="0.28"/><rect x="266" y="51.58" width="1" height="58.82" fill-opacity="0.38"/><rect x="266" y="51.88" width="1" height="58.52" fill-opacity="0.63"/><rect x="266" y="51.99" width="1" height="58.41"/><rect x="267" y="37.40" width="1" height="73.00" fill-opacity="0.22"/><rect x="267" y="43.96" width="1" height="66.44" fill-opacity="0.27"/><rect x="267" y="47.53" width="1" height="62.87" fill-opacity="0.36"/><rect x="267" y="47.74" width="1" height="62.66" fill-opacity="0.59"/><rect x="267" y="79.82" width="1" height="30.58"/><rect x="268" y="33.51" width="1" height="76.89" fill-opacity="0.22"/><rect x="268" y="48.70" width="1" height="61.70" fill-opacity="0.27"/><rect x="268" y="55.53" width="1" height="54.87" fill-opacity="0.38"/><rect x="268" y="57.82" width="1" height="52.58" fill-opacity="0.61"/><rect x="268" y="77.89" width="1" height="32.51" fill-opacity="0.52"/><rect x="268" y="79.82" width="1" height="30.58"/><rect x="269" y="49.57" width="1" height="60.83" fill-opacity="0.22"/><rect x="269" y="56.57" width="1" height="53.83" fill-opacity="0.27"/><rect x="269" y="61.67" width="1" height="48.73" fill-opacity="0.38"/><rect x="269" y="68.00" width="1" height="42.40" fill-opacity="0.60"/><rect x="269" y="77.89" width="1" height="32.51"/><rect x="270" y="41.15" width="1" height="69.25" fill-opacity="0.22"/><rect x="270" y="53.19" width="1" height="57.21" fill-opacity="0.27"/><rect x="270" y="58.09" width="1" height="52.31" fill-opacity="0.38"/><rect x="270" y="63.84" width="1" height="46.56" fill-opacity="0.61"/><rect x="270" y="66.74" width="1" height="43.66" fill-opacity="0.98"/><rect x="270" y="68.00" width="1" height="42.40"/><rect x="271" y="51.10" width="1" height="59.30" fill-opacity="0.22"/><rect x="271" y="55.22" width="1" height="55.18" fill-opacity="0.08"/><rect x="271" y="60.27" width="1" height="50.13" fill-opacity="0.30"/><rect x="271" y="63.01" width="1" height="47.39" fill-opacity="0.42"/><rect x="271" y="66.74" width="1" height="43.66" fill-opacity="0.27"/><rect x="271" y="69.57" width="1" height="40.83"/><rect x="272" y="35.44" width="1" height="74.96" fill-opacity="0.20"/><rect x="272" y="47.81" width="1" height="62.59" fill-opacity="0.27"/><rect x="272" y="51.04" width="1" height="59.36" fill-opacity="0.37"/><rect x="272" y="55.22" width="1" height="55.18" fill-opacity="0.42"/><rect x="272" y="57.66" width="1" height="52.74"/><rect x="273" y="35.44" width="1" height="74.96" fill-opacity="0.02"/><rect x="273" y="40.30" width="1" height="70.10" fill-opacity="0.22"/><rect x="273" y="50.19" width="1" height="60.21" fill-opacity="0.28"/><rect x="273" y="65.63" width="1" height="44.77" fill-opacity="0.39"/><rect x="273" y="65.83" width="1" height="44.57" fill-opacity="0.64"/><rect x="273" y="68.95" width="1" height="41.45"/><rect x="274" y="44.79" width="1" height="65.61" fill-opacity="0.22"/><rect x="274" y="57.58" width="1" height="52.82" fill-opacity="0.06"/><rect x="274" y="58.71" width="1" height="51.69" fill-opacity="0.29"/><rect x="274" y="61.48" width="1" height="48.92" fill-opacity="0.41"/><rect x="274" y="67.84" width="1" height="42.56" fill-opacity="0.70"/><rect x="274" y="68.95" width="1" height="41.45"/><rect x="275" y="47.81" width="1" height="62.59" fill-opacity="0.22"/><rect x="275" y="57.58" width="1" height="52.82" fill-opacity="0.22"/><rect x="275" y="64.04" width="1" height="46.36" fill-opacity="0.35"/><rect x="275" y="64.67" width="1" height="45.73" fill-opacity="0.46"/><rect x="275" y="84.70" width="1" height="25.70"/><rect x="276" y="44.75" width="1" height="65.65" fill-opacity="0.22"/><rect x="276" y="58.77" width="1" height="51.63" fill-opacity="0.27"/><rect x="276" y="60.05" width="1" height="50.35" fill-opacity="0.38"/><rect x="276" y="61.26" width="1" height="49.14" fill-opacity="0.61"/><rect x="276" y="64.67" width="1" height="45.73" fill-opacity="0.22"/><rect x="276" y="80.77" width="1" height="29.63"/><rect x="277" y="35.44" width="1" height="74.96" fill-opacity="0.22"/><rect x="277" y="35.44" width="1" height="74.96" fill-opacity="0.27"/><rect x="277" y="48.13" width="1" height="62.27" fill-opacity="0.38"/><rect x="277" y="52.77" width="1" height="57.63" fill-opacity="0.09"/><rect x="277" y="80.77" width="1" height="29.63" fill-opacity="0.33"/><rect x="277" y="82.06" width="1" height="28.34"/><rect x="278" y="52.77" width="1" height="57.63" fill-opacity="0.18"/><rect x="278" y="52.90" width="1" height="57.50" fill-opacity="0.26"/><rect x="278" y="54.86" width="1" height="55.54" fill-opacity="0.28"/><rect x="278" y="55.59" width="1" height="54.81" fill-opacity="0.50"/><rect x="278" y="64.81" width="1" height="45.59"/><rect x="279" y="35.44" width="1" height="74.96" fill-opacity="0.22"/><rect x="279" y="45.80" width="1" height="64.60" fill-opacity="0.27"/><rect x="279" y="47.49" width="1" height="62.91" fill-opacity="0.38"/><rect x="279" y="54.86" width="1" height="55.54" fill-opacity="0.12"/><rect x="279" y="57.80" width="1" height="52.60" fill-opacity="0.31"/><rect x="279" y="66.18" width="1" height="44.22"/><rect x="280" y="47.90" width="1" height="62.50" fill-opacity="0.22"/><rect x="280" y="50.81" width="1" height="59.59" fill-opacity="0.02"/><rect x="280" y="53.05" width="1" height="57.35" fill-opacity="0.28"/><rect x="280" y="53.20" width="1" height="57.20" fill-opacity="0.39"/><rect x="280" y="55.77" width="1" height="54.63" fill-opacity="0.64"/><rect x="280" y="57.80" width="1" height="52.60"/><rect x="281" y="35.44" width="1" height="74.96" fill-opacity="0.22"/><rect x="281" y="44.36" width="1" height="66.04" fill-opacity="0.20"/><rect x="281" y="44.57" width="1" height="65.83" fill-opacity="0.34"/><rect x="281" y="50.81" width="1" height="59.59" fill-opacity="0.48"/><rect x="281" y="78.42" width="1" height="31.98"/><rect x="282" y="42.91" width="1" height="67.49" fill-opacity="0.22"/><rect x="282" y="44.36" width="1" height="66.04" fill-opacity="0.07"/><rect x="282" y="58.04" width="1" height="52.36" fill-opacity="0.30"/><rect x="282" y="67.30" width="1" height="43.10" fill-opacity="0.42"/><rect x="282" y="69.59" width="1" height="40.81" fill-opacity="0.27"/><rect x="282" y="79.05" width="1" height="31.35"/><rect x="283" y="53.71" width="1" height="56.69" fill-opacity="0.22"/><rect x="283" y="59.14" width="1" height="51.26" fill-opacity="0.27"/><rect x="283" y="59.36" width="1" height="51.04" fill-opacity="0.01"/><rect x="283" y="67.89" width="1" height="42.51" fill-opacity="0.38"/><rect x="283" y="69.59" width="1" height="40.81" fill-opacity="0.38"/><rect x="283" y="75.87" width="1" height="34.53"/><rect x="284" y="39.52" width="1" height="70.88" fill-opacity="0.14"/><rect x="284" y="57.67" width="1" height="52.73" fill-opacity="0.25"/><rect x="284" y="59.36" width="1" height="51.04" fill-opacity="0.33"/><rect x="284" y="66.00" width="1" height="44.40" fill-opacity="0.50"/><rect x="284" y="66.10" width="1" height="44.30"/><rect x="285" y="35.44" width="1" height="74.96" fill-opacity="0.07"/><rect x="285" y="39.52" width="1" height="70.88" fill-opacity="0.08"/><rect x="285" y="41.86" width="1" height="68.54" fill-opacity="0.25"/><rect x="285" y="65.82" width="1" height="44.58" fill-opacity="0.33"/><rect x="285" y="68.07" width="1" height="42.33" fill-opacity="0.50"/><rect x="285" y="68.31" width="1" height="42.09"/><rect x="286" y="23.84" width="1" height="86.56" fill-opacity="0.22"/><rect x="286" y="27.71" width="1" height="82.69" fill-opacity="0.27"/><rect x="286" y="35.44" width="1" height="74.96" fill-opacity="0.26"/><rect x="286" y="38.27" width="1" height="72.13" fill-opacity="0.49"/><rect x="286" y="58.74" width="1" height="51.66"/><rect x="287" y="35.44" width="1" height="74.96" fill-opacity="0.22"/><rect x="287" y="36.67" width="1" height="73.73" fill-opacity="0.27"/><rect x="287" y="38.27" width="1" height="72.13" fill-opacity="0.01"/><rect x="287" y="49.92" width="1" height="60.48" fill-opacity="0.23"/><rect x="287" y="52.88" width="1" height="57.52" fill-opacity="0.50"/><rect x="287" y="69.55" width="1" height="40.85"/><rect x="288" y="37.79" width="1" height="72.61" fill-opacity="0.22"/><rect x="288" y="42.18" width="1" height="68.22" fill-opacity="0.27"/><rect x="288" y="49.92" width="1" height="60.48" fill-opacity="0.15"/><rect x="288" y="50.03" width="1" height="60.37" fill-opacity="0.11"/><rect x="288" y="50.33" width="1" height="60.07" fill-opacity="0.50"/><rect x="288" y="64.11" width="1" height="46.29"/><rect x="289" y="50.03" width="1" height="60.37" fill-opacity="0.16"/><rect x="289" y="51.57" width="1" height="58.83" fill-opacity="0.26"/><rect x="289" y="54.14" width="1" height="56.26" fill-opacity="0.34"/><rect x="289" y="54.72" width="1" height="55.68" fill-opacity="0.53"/><rect x="289" y="61.39" width="1" height="49.01"/><rect x="290" y="37.58" width="1" height="72.82" fill-opacity="0.22"/><rect x="290" y="48.49" width="1" height="61.91" fill-opacity="0.15"/><rect x="290" y="59.85" width="1" height="50.55" fill-opacity="0.32"/><rect x="290" y="61.39" width="1" height="49.01" fill-opacity="0.05"/><rect x="290" y="63.48" width="1" height="46.92" fill-opacity="0.50"/><rect x="290" y="68.53" width="1" height="41.87"/><rect x="291" y="42.56" width="1" height="67.84" fill-opacity="0.22"/><rect x="291" y="42.78" width="1" height="67.62" fill-opacity="0.27"/><rect x="291" y="48.49" width="1" height="61.91" fill-opacity="0.17"/><rect x="291" y="49.16" width="1" height="61.24" fill-opacity="0.46"/><rect x="291" y="57.28" width="1" height="53.12" fill-opacity="0.84"/><rect x="291" y="63.82" width="1" height="46.58"/><rect x="292" y="52.69" width="1" height="57.71" fill-opacity="0.22"/><rect x="292" y="59.60" width="1" height="50.80" fill-opacity="0.27"/><rect x="292" y="60.08" width="1" height="50.32" fill-opacity="0.38"/><rect x="292" y="63.82" width="1" height="46.58" fill-opacity="0.49"/><rect x="292" y="70.33" width="1" height="40.07"/><rect x="293" y="44.76" width="1" height="65.64" fill-opacity="0.22"/><rect x="293" y="50.16" width="1" height="60.24" fill-opacity="0.27"/><rect x="293" y="52.45" width="1" height="57.95" fill-opacity="0.18"/><rect x="293" y="58.35" width="1" height="52.05" fill-opacity="0.46"/><rect x="293" y="62.57" width="1" height="47.83" fill-opacity="0.86"/><rect x="293" y="70.33" width="1" height="40.07"/><rect x="294" y="31.58" width="1" height="78.82" fill-opacity="0.22"/><rect x="294" y="47.55" width="1" height="62.85" fill-opacity="0.04"/><rect x="294" y="52.45" width="1" height="57.95" fill-opacity="0.15"/><rect x="294" y="57.05" width="1" height="53.35" fill-opacity="0.33"/><rect x="294" y="63.10" width="1" height="47.30" fill-opacity="0.50"/><rect x="294" y="69.09" width="1" height="41.31"/><rect x="295" y="41.96" width="1" height="68.44" fill-opacity="0.22"/><rect x="295" y="47.55" width="1" height="62.85" fill-opacity="0.24"/><rect x="295" y="48.93" width="1" height="61.47" fill-opacity="0.36"/><rect x="295" y="50.82" width="1" height="59.58" fill-opacity="0.44"/><rect x="295" y="67.35" width="1" height="43.05"/><rect x="296" y="43.12" width="1" height="67.28" fill-opacity="0.22"/><rect x="296" y="43.98" width="1" height="66.42" fill-opacity="0.12"/><rect x="296" y="50.82" width="1" height="59.58" fill-opacity="0.07"/><rect x="296" y="50.98" width="1" height="59.42" fill-opacity="0.33"/><rect x="296" y="53.96" width="1" height="56.44" fill-opacity="0.50"/><rect x="296" y="55.63" width="1" height="54.77"/><rect x="297" y="43.98" width="1" height="66.42" fill-opacity="0.12"/><rect x="297" y="47.49" width="1" height="62.91" fill-opacity="0.25"/><rect x="297" y="52.65" width="1" height="57.75" fill-opacity="0.33"/><rect x="297" y="53.02" width="1" height="57.38" fill-opacity="0.48"/><rect x="297" y="67.58" width="1" height="42.82" fill-opacity="0.06"/><rect x="297" y="69.13" width="1" height="41.27"/><rect x="298" y="37.66" width="1" height="72.74" fill-opacity="0.22"/><rect x="298" y="48.24" width="1" height="62.16" fill-opacity="0.27"/><rect x="298" y="49.80" width="1" height="60.60" fill-opacity="0.27"/><rect x="298" y="65.96" width="1" height="44.44" fill-opacity="0.52"/><rect x="298" y="67.58" width="1" height="42.82"/><rect x="299" y="49.80" width="1" height="60.60" fill-opacity="0.06"/><rect x="299" y="54.85" width="1" height="55.55" fill-opacity="0.08"/><rect x="299" y="55.63" width="1" height="54.77" fill-opacity="0.25"/><rect x="299" y="57.00" width="1" height="53.40" fill-opacity="0.33"/><rect x="299" y="57.76" width="1" height="52.64" fill-opacity="0.50"/><rect x="299" y="63.74" width="1" height="46.66"/><rect x="300" y="54.72" width="1" height="55.68" fill-opacity="0.22"/><rect x="300" y="54.85" width="1" height="55.55" fill-opacity="0.18"/><rect x="300" y="60.18" width="1" height="50.22" fill-opacity="0.33"/><rect x="300" y="68.32" width="1" height="42.08" fill-opacity="0.50"/><rect x="300" y="75.57" width="1" height="34.83" fill-opacity="0.00"/><rect x="300" y="91.33" width="1" height="19.07"/><rect x="301" y="44.49" width="1" height="65.91" fill-opacity="0.22"/><rect x="301" y="49.81" width="1" height="60.59" fill-opacity="0.27"/><rect x="301" y="54.47" width="1" height="55.93" fill-opacity="0.25"/><rect x="301" y="54.67" width="1" height="55.73" fill-opacity="0.50"/><rect x="301" y="75.57" width="1" height="34.83"/><rect x="302" y="53.68" width="1" height="56.72" fill-opacity="0.22"/><rect x="302" y="54.47" width="1" height="55.93" fill-opacity="0.10"/><rect x="302" y="66.79" width="1" height="43.61" fill-opacity="0.30"/><rect x="302" y="69.77" width="1" height="40.63" fill-opacity="0.44"/><rect x="302" y="70.16" width="1" height="40.24" fill-opacity="0.77"/><rect x="302" y="71.90" width="1" height="38.50"/><rect x="303" y="46.04" width="1" height="64.36" fill-opacity="0.22"/><rect x="303" y="55.35" width="1" height="55.05" fill-opacity="0.26"/><rect x="303" y="55.93" width="1" height="54.47" fill-opacity="0.37"/><rect x="303" y="56.97" width="1" height="53.43" fill-opacity="0.59"/><rect x="303" y="71.90" width="1" height="38.50"/><rect x="304" y="43.41" width="1" height="66.99" fill-opacity="0.22"/><rect x="304" y="46.62" width="1" height="63.78" fill-opacity="0.27"/><rect x="304" y="47.35" width="1" height="63.05" fill-opacity="0.22"/><rect x="304" y="49.75" width="1" height="60.65" fill-opacity="0.49"/><rect x="304" y="55.35" width="1" height="55.05" fill-opacity="0.06"/><rect x="304" y="57.81" width="1" height="52.59"/><rect x="305" y="35.44" width="1" height="74.96" fill-opacity="0.22"/><rect x="305" y="47.35" width="1" height="63.05" fill-opacity="0.11"/><rect x="305" y="54.03" width="1" height="56.37" fill-opacity="0.31"/><rect x="305" y="54.94" width="1" height="55.46" fill-opacity="0.45"/><rect x="305" y="55.24" width="1" height="55.16" fill-opacity="0.81"/><rect x="305" y="56.73" width="1" height="53.67"/><rect x="306" y="39.52" width="1" height="70.88" fill-opacity="0.22"/><rect x="306" y="41.40" width="1" height="69.00" fill-opacity="0.27"/><rect x="306" y="56.10" width="1" height="54.30" fill-opacity="0.33"/><rect x="306" y="56.73" width="1" height="53.67" fill-opacity="0.43"/><rect x="306" y="61.19" width="1" height="49.21"/><rect x="307" y="35.44" width="1" height="74.96" fill-opacity="0.22"/><rect x="307" y="52.28" width="1" height="58.12" fill-opacity="0.27"/><rect x="307" y="56.10" width="1" height="54.30" fill-opacity="0.05"/><rect x="307" y="57.86" width="1" height="52.54" fill-opacity="0.40"/><rect x="307" y="65.66" width="1" height="44.74" fill-opacity="0.66"/><rect x="307" y="68.04" width="1" height="42.36"/><rect x="308" y="40.36" width="1" height="70.04" fill-opacity="0.22"/><rect x="308" y="43.05" width="1" height="67.35" fill-opacity="0.27"/><rect x="308" y="46.20" width="1" height="64.20" fill-opacity="0.38"/><rect x="308" y="63.92" width="1" height="46.48" fill-opacity="0.61"/><rect x="308" y="68.04" width="1" height="42.36" fill-opacity="0.74"/><rect x="308" y="71.09" width="1" height="39.31"/><rect x="309" y="39.21" width="1" height="71.19" fill-opacity="0.18"/><rect x="309" y="53.47" width="1" height="56.93" fill-opacity="0.26"/><rect x="309" y="62.67" width="1" height="47.73" fill-opacity="0.35"/><rect x="309" y="63.76" width="1" height="46.64" fill-opacity="0.55"/><rect x="309" y="71.09" width="1" height="39.31"/><rect x="310" y="39.21" width="1" height="71.19" fill-opacity="0.04"/><rect x="310" y="53.28" width="1" height="57.12" fill-opacity="0.22"/></g>
<g fill="url(#g)"><rect x="54" y="222.63" width="1" height="24.67" fill-opacity="0.22"/><rect x="54" y="224.14" width="1" height="23.16" fill-opacity="0.27"/><rect x="54" y="224.61" width="1" height="22.69" fill-opacity="0.38"/><rect x="54" y="224.67" width="1" height="22.63" fill-opacity="0.09"/><rect x="54" y="225.95" width="1" height="21.35" fill-opacity="0.67"/><rect x="55" y="222.60" width="1" height="24.70" fill-opacity="0.22"/><rect x="55" y="223.64" width="1" height="23.66" fill-opacity="0.27"/><rect x="55" y="224.67" width="1" height="22.63" fill-opacity="0.32"/><rect x="55" y="226.12" width="1" height="21.18" fill-opacity="0.44"/><rect x="55" y="226.26" width="1" height="21.04"/><rect x="56" y="192.45" width="1" height="54.85" fill-opacity="0.22"/><rect x="56" y="195.00" width="1" height="52.31" fill-opacity="0.27"/><rect x="56" y="226.12" width="1" height="21.18" fill-opacity="0.08"/><rect x="56" y="228.02" width="1" height="19.28" fill-opacity="0.18"/><rect x="56" y="228.20" width="1" height="19.10" fill-opacity="0.50"/><rect x="56" y="229.89" width="1" height="17.41"/><rect x="57" y="214.81" width="1" height="32.50" fill-opacity="0.22"/><rect x="57" y="226.01" width="1" height="21.29" fill-opacity="0.02"/><rect x="57" y="226.12" width="1" height="21.18" fill-opacity="0.28"/><rect x="57" y="226.41" width="1" height="20.89" fill-opacity="0.39"/><rect x="57" y="227.96" width="1" height="19.34" fill-opacity="0.64"/><rect x="57" y="228.02" width="1" height="19.28"/><rect x="58" y="214.81" width="1" height="32.50" fill-opacity="0.22"/><rect x="58" y="223.30" width="1" height="24.00" fill-opacity="0.27"/><rect x="58" y="224.80" width="1" height="22.50" fill-opacity="0.28"/><rect x="58" y="224.93" width="1" height="22.37" fill-opacity="0.52"/><rect x="58" y="226.01" width="1" height="21.29"/><rect x="59" y="223.48" width="1" height="23.82" fill-opacity="0.08"/><rect x="59" y="224.80" width="1" height="22.50" fill-opacity="0.06"/><rect x="59" y="225.75" width="1" height="21.55" fill-opacity="0.25"/><rect x="59" y="226.53" width="1" height="20.77" fill-opacity="0.33"/><rect x="59" y="226.84" width="1" height="20.46" fill-opacity="0.50"/><rect x="59" y="228.30" width="1" height="19.00"/><rect x="60" y="185.09" width="1" height="62.21" fill-opacity="0.22"/><rect x="60" y="187.92" width="1" height="59.38" fill-opacity="0.27"/><rect x="60" y="223.48" width="1" height="23.82" fill-opacity="0.24"/><rect x="60" y="223.82" width="1" height="23.48" fill-opacity="0.49"/><rect x="60" y="226.92" width="1" height="20.38" fill-opacity="0.98"/><rect x="60" y="227.83" width="1" height="19.47"/><rect x="61" y="204.90" width="1" height="42.40" fill-opacity="0.22"/><rect x="61" y="209.15" width="1" height="38.16" fill-opacity="0.27"/><rect x="61" y="224.88" width="1" height="22.42" fill-opacity="0.25"/><rect x="61" y="226.60" width="1" height="20.70" fill-opacity="0.51"/><rect x="61" y="227.83" width="1" height="19.47"/><rect x="62" y="204.90" width="1" height="42.40" fill-opacity="0.22"/><rect x="62" y="214.81" width="1" height="32.50" fill-opacity="0.27"/><rect x="62" y="224.88" width="1" height="22.42" fill-opacity="0.13"/><rect x="62" y="226.17" width="1" height="21.13" fill-opacity="0.13"/><rect x="62" y="227.30" width="1" height="20.00" fill-opacity="0.50"/><rect x="62" y="227.55" width="1" height="19.75"/><rect x="63" y="219.05" width="1" height="28.25" fill-opacity="0.22"/><rect x="63" y="224.87" width="1" height="22.43" fill-opacity="0.27"/><rect x="63" y="226.11" width="1" height="21.19" fill-opacity="0.38"/><rect x="63" y="226.17" width="1" height="21.13" fill-opacity="0.42"/><rect x="63" y="226.70" width="1" height="20.60"/><rect x="64" y="221.88" width="1" height="25.42" fill-opacity="0.22"/><rect x="64" y="226.17" width="1" height="21.13" fill-opacity="0.27"/><rect x="64" y="226.63" width="1" height="20.67" fill-opacity="0.38"/><rect x="64" y="226.70" width="1" height="20.60" fill-opacity="0.03"/><rect x="64" y="228.24" width="1" height="19.06" fill-opacity="0.38"/><rect x="64" y="228.46" width="1" height="18.84"/><rect x="65" y="222.69" width="1" height="24.61" fill-opacity="0.22"/><rect x="65" y="224.31" width="1" height="22.99" fill-opacity="0.27"/><rect x="65" y="224.54" width="1" height="22.76" fill-opacity="0.38"/><rect x="65" y="225.56" width="1" height="21.74" fill-opacity="0.15"/><rect x="65" y="226.42" width="1" height="20.88" fill-opacity="0.72"/><rect x="65" y="228.24" width="1" height="19.06"/><rect x="66" y="224.40" width="1" height="22.90" fill-opacity="0.22"/><rect x="66" y="225.56" width="1" height="21.74" fill-opacity="0.21"/><rect x="66" y="226.81" width="1" height="20.49" fill-opacity="0.35"/><rect x="66" y="227.14" width="1" height="20.16" fill-opacity="0.53"/><rect x="66" y="227.25" width="1" height="20.05"/><rect x="67" y="225.66" width="1" height="21.64" fill-opacity="0.12"/><rect x="67" y="226.37" width="1" height="20.93" fill-opacity="0.24"/><rect x="67" y="226.46" width="1" height="20.84" fill-opacity="0.32"/><rect x="67" y="226.64" width="1" height="20.66" fill-opacity="0.48"/><rect x="67" y="227.25" width="1" height="20.05" fill-opacity="0.10"/><rect x="67" y="230.73" width="1" height="16.57"/><rect x="68" y="222.93" width="1" height="24.37" fill-opacity="0.22"/><rect x="68" y="224.03" width="1" height="23.27" fill-opacity="0.27"/><rect x="68" y="224.89" width="1" height="22.41" fill-opacity="0.38"/><rect x="68" y="225.07" width="1" height="22.23" fill-opacity="0.61"/><rect x="68" y="225.66" width="1" height="21.64" fill-opacity="0.71"/><rect x="68" y="226.09" width="1" height="21.21"/><rect x="69" y="226.09" width="1" height="21.21" fill-opacity="0.18"/><rect x="69" y="226.40" width="1" height="20.90" fill-opacity="0.26"/><rect x="69" y="228.68" width="1" height="18.62" fill-opacity="0.35"/><rect x="69" y="229.54" width="1" height="17.76" fill-opacity="0.45"/><rect x="69" y="231.48" width="1" height="15.82"/><rect x="70" y="212.99" width="1" height="34.31" fill-opacity="0.22"/><rect x="70" y="214.08" width="1" height="33.22" fill-opacity="0.27"/><rect x="70" y="216.07" width="1" height="31.23" fill-opacity="0.38"/><rect x="70" y="216.28" width="1" height="31.02" fill-opacity="0.29"/><rect x="70" y="216.38" width="1" height="30.92" fill-opacity="0.86"/><rect x="70" y="229.54" width="1" height="17.76"/><rect x="71" y="210.86" width="1" height="36.44" fill-opacity="0.22"/><rect x="71" y="213.78" width="1" height="33.52" fill-opacity="0.03"/><rect x="71" y="214.73" width="1" height="32.57" fill-opacity="0.28"/><rect x="71" y="215.80" width="1" height="31.50" fill-opacity="0.40"/><rect x="71" y="216.28" width="1" height="31.02" fill-opacity="0.34"/><rect x="71" y="217.99" width="1" height="29.31"/><rect x="72" y="213.58" width="1" height="33.72" fill-opacity="0.22"/><rect x="72" y="213.78" width="1" height="33.52" fill-opacity="0.24"/><rect x="72" y="214.39" width="1" height="32.91" fill-opacity="0.28"/><rect x="72" y="215.57" width="1" height="31.73" fill-opacity="0.50"/><rect x="72" y="217.34" width="1" height="29.96"/><rect x="73" y="204.90" width="1" height="42.40" fill-opacity="0.22"/><rect x="73" y="213.52" width="1" height="33.78" fill-opacity="0.27"/><rect x="73" y="213.81" width="1" height="33.49" fill-opacity="0.16"/><rect x="73" y="214.39" width="1" height="32.91" fill-opacity="0.10"/><rect x="73" y="215.83" width="1" height="31.47" fill-opacity="0.50"/><rect x="73" y="217.33" width="1" height="29.97"/><rect x="74" y="206.32" width="1" height="40.98" fill-opacity="0.22"/><rect x="74" y="213.81" width="1" height="33.49" fill-opacity="0.16"/><rect x="74" y="214.70" width="1" height="32.60" fill-opacity="0.02"/><rect x="74" y="217.05" width="1" height="30.25" fill-opacity="0.33"/><rect x="74" y="217.13" width="1" height="30.17" fill-opacity="0.50"/><rect x="74" y="218.71" width="1" height="28.59"/><rect x="75" y="203.49" width="1" height="43.81" fill-opacity="0.22"/><rect x="75" y="214.70" width="1" height="32.60" fill-opacity="0.26"/><rect x="75" y="214.74" width="1" height="32.56" fill-opacity="0.37"/><rect x="75" y="215.34" width="1" height="31.96" fill-opacity="0.41"/><rect x="75" y="218.04" width="1" height="29.26"/><rect x="76" y="212.57" width="1" height="34.73" fill-opacity="0.22"/><rect x="76" y="213.80" width="1" height="33.50" fill-opacity="0.27"/><rect x="76" y="213.95" width="1" height="33.35" fill-opacity="0.38"/><rect x="76" y="215.34" width="1" height="31.96" fill-opacity="0.18"/><rect x="76" y="215.57" width="1" height="31.73" fill-opacity="0.74"/><rect x="76" y="216.69" width="1" height="30.61"/><rect x="77" y="205.61" width="1" height="41.69" fill-opacity="0.22"/><rect x="77" y="209.65" width="1" height="37.65" fill-opacity="0.27"/><rect x="77" y="211.04" width="1" height="36.26" fill-opacity="0.38"/><rect x="77" y="211.21" width="1" height="36.09" fill-opacity="0.61"/><rect x="77" y="216.69" width="1" height="30.61"/><rect x="78" y="207.02" width="1" height="40.28" fill-opacity="0.22"/><rect x="78" y="209.65" width="1" height="37.65" fill-opacity="0.00"/><rect x="78" y="211.69" width="1" height="35.61" fill-opacity="0.18"/><rect x="78" y="214.27" width="1" height="33.03" fill-opacity="0.33"/><rect x="78" y="214.56" width="1" height="32.74" fill-opacity="0.50"/><rect x="78" y="216.75" width="1" height="30.55"/><rect x="79" y="204.90" width="1" height="42.40" fill-opacity="0.22"/><rect x="79" y="211.69" width="1" height="35.61" fill-opacity="0.10"/><rect x="79" y="213.88" width="1" height="33.42" fill-opacity="0.30"/><rect x="79" y="217.00" width="1" height="30.30" fill-opacity="0.44"/><rect x="79" y="217.57" width="1" height="29.73" fill-opacity="0.78"/><rect x="79" y="218.47" width="1" height="28.83"/><rect x="80" y="204.90" width="1" height="42.40" fill-opacity="0.22"/><rect x="80" y="213.25" width="1" height="34.05" fill-opacity="0.26"/><rect x="80" y="213.42" width="1" height="33.88" fill-opacity="0.37"/><rect x="80" y="214.80" width="1" height="32.50" fill-opacity="0.58"/><rect x="80" y="218.47" width="1" height="28.83"/><rect x="81" y="210.83" width="1" height="36.47" fill-opacity="0.22"/><rect x="81" y="212.64" width="1" height="34.66" fill-opacity="0.27"/><rect x="81" y="213.25" width="1" height="34.05" fill-opacity="0.02"/><rect x="81" y="214.28" width="1" height="33.02" fill-opacity="0.39"/><rect x="81" y="216.74" width="1" height="30.56" fill-opacity="0.63"/><rect x="81" y="216.99" width="1" height="30.31"/><rect x="82" y="216.99" width="1" height="30.31" fill-opacity="0.09"/><rect x="82" y="227.59" width="1" height="19.71" fill-opacity="0.24"/><rect x="82" y="229.27" width="1" height="18.03" fill-opacity="0.31"/><rect x="82" y="232.48" width="1" height="14.82" fill-opacity="0.45"/><rect x="82" y="233.90" width="1" height="13.40" fill-opacity="0.81"/><rect x="82" y="233.92" width="1" height="13.38"/><rect x="83" y="228.70" width="1" height="18.60" fill-opacity="0.19"/><rect x="83" y="230.25" width="1" height="17.05" fill-opacity="0.27"/><rect x="83" y="230.95" width="1" height="16.35" fill-opacity="0.36"/><rect x="83" y="233.92" width="1" height="13.38" fill-opacity="0.44"/><rect x="83" y="234.41" width="1" height="12.89"/><rect x="84" y="226.39" width="1" height="20.91" fill-opacity="0.22"/><rect x="84" y="227.06" width="1" height="20.24" fill-opacity="0.27"/><rect x="84" y="227.33" width="1" height="19.97" fill-opacity="0.38"/><rect x="84" y="227.88" width="1" height="19.42" fill-opacity="0.32"/><rect x="84" y="228.01" width="1" height="19.29" fill-opacity="0.89"/><rect x="84" y="228.70" width="1" height="18.60"/><rect x="85" y="222.75" width="1" height="24.55" fill-opacity="0.22"/><rect x="85" y="224.89" width="1" height="22.41" fill-opacity="0.05"/><rect x="85" y="224.94" width="1" height="22.36" fill-opacity="0.29"/><rect x="85" y="225.23" width="1" height="22.07" fill-opacity="0.40"/><rect x="85" y="225.35" width="1" height="21.95" fill-opacity="0.68"/><rect x="85" y="227.88" width="1" height="19.42"/><rect x="86" y="224.89" width="1" height="22.41" fill-opacity="0.18"/><rect x="86" y="226.28" width="1" height="21.02" fill-opacity="0.26"/><rect x="86" y="226.53" width="1" height="20.77" fill-opacity="0.29"/><rect x="86" y="227.56" width="1" height="19.74" fill-opacity="0.50"/><rect x="86" y="229.91" width="1" height="17.39"/><rect x="87" y="226.53" width="1" height="20.77" fill-opacity="0.04"/><rect x="87" y="227.20" width="1" height="20.10" fill-opacity="0.22"/><rect x="87" y="227.51" width="1" height="19.79" fill-opacity="0.29"/><rect x="87" y="227.67" width="1" height="19.63" fill-opacity="0.41"/><rect x="87" y="229.86" width="1" height="17.44" fill-opacity="0.69"/><rect x="87" y="230.14" width="1" height="17.16"/><rect x="88" y="220.47" width="1" height="26.83" fill-opacity="0.22"/><rect x="88" y="229.29" width="1" height="18.01" fill-opacity="0.03"/><rect x="88" y="230.10" width="1" height="17.20" fill-opacity="0.28"/><rect x="88" y="230.14" width="1" height="17.16" fill-opacity="0.21"/><rect x="88" y="230.84" width="1" height="16.46" fill-opacity="0.50"/><rect x="88" y="230.86" width="1" height="16.44"/><rect x="89" y="225.11" width="1" height="22.19" fill-opacity="0.16"/><rect x="89" y="225.43" width="1" height="21.87" fill-opacity="0.26"/><rect x="89" y="225.92" width="1" height="21.38" fill-opacity="0.35"/><rect x="89" y="228.21" width="1" height="19.09" fill-opacity="0.53"/><rect x="89" y="229.29" width="1" height="18.01"/><rect x="90" y="225.11" width="1" height="22.19" fill-opacity="0.05"/><rect x="90" y="226.06" width="1" height="21.24" fill-opacity="0.23"/><rect x="90" y="227.62" width="1" height="19.68" fill-opacity="0.12"/><rect x="90" y="228.87" width="1" height="18.43" fill-opacity="0.33"/><rect x="90" y="230.55" width="1" height="16.75" fill-opacity="0.50"/><rect x="90" y="230.60" width="1" height="16.70"/><rect x="91" y="225.82" width="1" height="21.48" fill-opacity="0.22"/><rect x="91" y="226.30" width="1" height="21.00" fill-opacity="0.27"/><rect x="91" y="227.18" width="1" height="20.12" fill-opacity="0.38"/><rect x="91" y="227.62" width="1" height="19.68" fill-opacity="0.37"/><rect x="91" y="228.32" width="1" height="18.98" fill-opacity="0.04"/><rect x="91" y="228.83" width="1" height="18.47"/><rect x="92" y="219.05" width="1" height="28.25" fill-opacity="0.22"/><rect x="92" y="226.17" width="1" height="21.13" fill-opacity="0.27"/><rect x="92" y="227.43" width="1" height="19.87" fill-opacity="0.38"/><rect x="92" y="228.32" width="1" height="18.98" fill-opacity="0.58"/><rect x="92" y="229.02" width="1" height="18.28"/><rect x="93" y="227.91" width="1" height="19.39" fill-opacity="0.22"/><rect x="93" y="228.92" width="1" height="18.38" fill-opacity="0.09"/><rect x="93" y="229.02" width="1" height="18.28" fill-opacity="0.10"/><rect x="93" y="229.77" width="1" height="17.53" fill-opacity="0.33"/><rect x="93" y="229.86" width="1" height="17.44" fill-opacity="0.50"/><rect x="93" y="230.53" width="1" height="16.77"/><rect x="94" y="228.92" width="1" height="18.38" fill-opacity="0.14"/><rect x="94" y="230.72" width="1" height="16.58" fill-opacity="0.25"/><rect x="94" y="230.72" width="1" height="16.58" fill-opacity="0.34"/><rect x="94" y="232.14" width="1" height="15.16" fill-opacity="0.51"/><rect x="94" y="232.59" width="1" height="14.71"/><rect x="95" y="219.05" width="1" height="28.25" fill-opacity="0.22"/><rect x="95" y="224.27" width="1" height="23.03" fill-opacity="0.27"/><rect x="95" y="226.01" width="1" height="21.29" fill-opacity="0.24"/><rect x="95" y="227.23" width="1" height="20.07" fill-opacity="0.49"/><rect x="95" y="229.08" width="1" height="18.22" fill-opacity="0.98"/><rect x="95" y="232.59" width="1" height="14.71"/><rect x="96" y="224.16" width="1" height="23.14" fill-opacity="0.22"/><rect x="96" y="226.01" width="1" height="21.29" fill-opacity="0.10"/><rect x="96" y="228.33" width="1" height="18.97" fill-opacity="0.31"/><rect x="96" y="229.06" width="1" height="18.24" fill-opacity="0.44"/><rect x="96" y="231.88" width="1" height="15.42" fill-opacity="0.21"/><rect x="96" y="233.49" width="1" height="13.81"/><rect x="97" y="220.47" width="1" height="26.83" fill-opacity="0.22"/><rect x="97" y="228.24" width="1" height="19.06" fill-opacity="0.25"/><rect x="97" y="228.78" width="1" height="18.52" fill-opacity="0.37"/><rect x="97" y="231.33" width="1" height="15.97" fill-opacity="0.58"/><rect x="97" y="231.88" width="1" height="15.42"/><rect x="98" y="228.24" width="1" height="19.06" fill-opacity="0.02"/><rect x="98" y="228.52" width="1" height="18.78" fill-opacity="0.12"/><rect x="98" y="228.87" width="1" height="18.43" fill-opacity="0.25"/><rect x="98" y="229.65" width="1" height="17.65" fill-opacity="0.33"/><rect x="98" y="231.00" width="1" height="16.30" fill-opacity="0.50"/><rect x="98" y="231.30" width="1" height="16.00"/><rect x="99" y="226.96" width="1" height="20.34" fill-opacity="0.22"/><rect x="99" y="227.91" width="1" height="19.39" fill-opacity="0.27"/><rect x="99" y="228.05" width="1" height="19.25" fill-opacity="0.38"/><rect x="99" y="228.52" width="1" height="18.78" fill-opacity="0.27"/><rect x="99" y="229.30" width="1" height="18.00" fill-opacity="0.17"/><rect x="99" y="230.74" width="1" height="16.56"/><rect x="100" y="229.30" width="1" height="18.00" fill-opacity="0.17"/><rect x="100" y="229.37" width="1" height="17.93" fill-opacity="0.26"/><rect x="100" y="229.45" width="1" height="17.85" fill-opacity="0.30"/><rect x="100" y="231.02" width="1" height="16.28" fill-opacity="0.50"/><rect x="100" y="231.34" width="1" height="15.96"/><rect x="101" y="160.33" width="1" height="86.97" fill-opacity="0.22"/><rect x="101" y="161.74" width="1" height="85.56" fill-opacity="0.27"/><rect x="101" y="210.56" width="1" height="36.74" fill-opacity="0.38"/><rect x="101" y="211.98" width="1" height="35.32" fill-opacity="0.30"/><rect x="101" y="229.45" width="1" height="17.85" fill-opacity="0.13"/><rect x="101" y="230.28" width="1" height="17.02"/><rect x="102" y="211.98" width="1" height="35.32" fill-opacity="0.11"/><rect x="102" y="213.39" width="1" height="33.91" fill-opacity="0.24"/><rect x="102" y="227.59" width="1" height="19.71" fill-opacity="0.05"/><rect x="102" y="227.84" width="1" height="19.46" fill-opacity="0.33"/><rect x="102" y="227.89" width="1" height="19.41" fill-opacity="0.50"/><rect x="102" y="228.31" width="1" height="18.99"/><rect x="103" y="227.59" width="1" height="19.71" fill-opacity="0.18"/><rect x="103" y="228.07" width="1" height="19.23" fill-opacity="0.26"/><rect x="103" y="228.18" width="1" height="19.12" fill-opacity="0.36"/><rect x="103" y="229.13" width="1" height="18.17" fill-opacity="0.56"/><rect x="103" y="230.71" width="1" height="16.59"/><rect x="104" y="219.05" width="1" height="28.25" fill-opacity="0.22"/><rect x="104" y="226.15" width="1" height="21.15" fill-opacity="0.27"/><rect x="104" y="226.87" width="1" height="20.43" fill-opacity="0.16"/><rect x="104" y="227.62" width="1" height="19.68" fill-opacity="0.45"/><rect x="104" y="229.17" width="1" height="18.13" fill-opacity="0.83"/><rect x="104" y="230.71" width="1" height="16.59"/><rect x="105" y="226.87" width="1" height="20.43" fill-opacity="0.12"/><rect x="105" y="226.95" width="1" height="20.35" fill-opacity="0.25"/><rect x="105" y="227.83" width="1" height="19.47" fill-opacity="0.32"/><rect x="105" y="227.84" width="1" height="19.46" fill-opacity="0.48"/><rect x="105" y="228.02" width="1" height="19.28" fill-opacity="0.07"/><rect x="105" y="228.28" width="1" height="19.02"/><rect x="106" y="226.59" width="1" height="20.71" fill-opacity="0.16"/><rect x="106" y="227.95" width="1" height="19.35" fill-opacity="0.26"/><rect x="106" y="228.02" width="1" height="19.28" fill-opacity="0.32"/><rect x="106" y="229.75" width="1" height="17.55" fill-opacity="0.50"/><rect x="106" y="229.78" width="1" height="17.52"/><rect x="107" y="224.33" width="1" height="22.97" fill-opacity="0.22"/><rect x="107" y="224.67" width="1" height="22.63" fill-opacity="0.27"/><rect x="107" y="224.69" width="1" height="22.61" fill-opacity="0.14"/><rect x="107" y="225.38" width="1" height="21.92" fill-opacity="0.44"/><rect x="107" y="226.39" width="1" height="20.91" fill-opacity="0.78"/><rect x="107" y="226.59" width="1" height="20.71"/><rect x="108" y="153.25" width="1" height="94.05" fill-opacity="0.22"/><rect x="108" y="163.87" width="1" height="83.43" fill-opacity="0.00"/><rect x="108" y="224.18" width="1" height="23.12" fill-opacity="0.28"/><rect x="108" y="224.69" width="1" height="22.61" fill-opacity="0.24"/><rect x="108" y="229.18" width="1" height="18.12" fill-opacity="0.50"/><rect x="108" y="229.32" width="1" height="17.98"/><rect x="109" y="163.87" width="1" height="83.43" fill-opacity="0.21"/><rect x="109" y="165.28" width="1" height="82.02" fill-opacity="0.27"/><rect x="109" y="166.70" width="1" height="80.60" fill-opacity="0.38"/><rect x="109" y="230.18" width="1" height="17.12" fill-opacity="0.60"/><rect x="109" y="231.13" width="1" height="16.17"/><rect x="110" y="224.70" width="1" height="22.60" fill-opacity="0.07"/><rect x="110" y="227.42" width="1" height="19.88" fill-opacity="0.23"/><rect x="110" y="228.41" width="1" height="18.89" fill-opacity="0.30"/><rect x="110" y="229.06" width="1" height="18.24" fill-opacity="0.43"/><rect x="110" y="230.97" width="1" height="16.33" fill-opacity="0.75"/><rect x="110" y="231.13" width="1" height="16.17"/><rect x="111" y="224.70" width="1" height="22.60" fill-opacity="0.15"/><rect x="111" y="226.13" width="1" height="21.17" fill-opacity="0.25"/><rect x="111" y="226.56" width="1" height="20.74" fill-opacity="0.32"/><rect x="111" y="226.62" width="1" height="20.68" fill-opacity="0.50"/><rect x="111" y="227.50" width="1" height="19.80"/><rect x="112" y="224.27" width="1" height="23.03" fill-opacity="0.13"/><rect x="112" y="226.06" width="1" height="21.24" fill-opacity="0.25"/><rect x="112" y="226.21" width="1" height="21.09" fill-opacity="0.33"/><rect x="112" y="226.31" width="1" height="20.99" fill-opacity="0.49"/><rect x="112" y="226.56" width="1" height="20.74" fill-opacity="0.04"/><rect x="112" y="228.67" width="1" height="18.63"/><rect x="113" y="224.15" width="1" height="23.15" fill-opacity="0.22"/><rect x="113" y="224.27" width="1" height="23.03" fill-opacity="0.11"/><rect x="113" y="224.40" width="1" height="22.90" fill-opacity="0.31"/><rect x="113" y="225.17" width="1" height="22.13" fill-opacity="0.11"/><rect x="113" y="225.45" width="1" height="21.85" fill-opacity="0.50"/><rect x="113" y="226.96" width="1" height="20.34"/><rect x="114" y="224.45" width="1" height="22.85" fill-opacity="0.22"/><rect x="114" y="225.17" width="1" height="22.13" fill-opacity="0.21"/><rect x="114" y="227.01" width="1" height="20.29" fill-opacity="0.31"/><rect x="114" y="227.66" width="1" height="19.64" fill-opacity="0.50"/><rect x="114" y="228.78" width="1" height="18.52"/><rect x="115" y="225.90" width="1" height="21.40" fill-opacity="0.22"/><rect x="115" y="226.37" width="1" height="20.93" fill-opacity="0.27"/><rect x="115" y="227.01" width="1" height="20.29" fill-opacity="0.04"/><rect x="115" y="227.39" width="1" height="19.91" fill-opacity="0.21"/><rect x="115" y="227.95" width="1" height="19.35" fill-opacity="0.50"/><rect x="115" y="228.02" width="1" height="19.28"/><rect x="116" y="226.31" width="1" height="20.99" fill-opacity="0.22"/><rect x="116" y="226.90" width="1" height="20.40" fill-opacity="0.27"/><rect x="116" y="227.39" width="1" height="19.91" fill-opacity="0.17"/><rect x="116" y="228.82" width="1" height="18.48" fill-opacity="0.46"/><rect x="116" y="229.21" width="1" height="18.09" fill-opacity="0.85"/><rect x="116" y="229.31" width="1" height="17.99"/><rect x="117" y="227.65" width="1" height="19.65" fill-opacity="0.22"/><rect x="117" y="227.96" width="1" height="19.34" fill-opacity="0.23"/><rect x="117" y="228.07" width="1" height="19.23" fill-opacity="0.35"/><rect x="117" y="229.31" width="1" height="17.99" fill-opacity="0.45"/><rect x="117" y="230.19" width="1" height="17.11"/><rect x="118" y="227.88" width="1" height="19.42" fill-opacity="0.10"/><rect x="118" y="227.95" width="1" height="19.35" fill-opacity="0.24"/><rect x="118" y="227.96" width="1" height="19.34" fill-opacity="0.05"/><rect x="118" y="228.91" width="1" height="18.39" fill-opacity="0.33"/><rect x="118" y="230.61" width="1" height="16.69" fill-opacity="0.50"/><rect x="118" y="230.70" width="1" height="16.60"/><rect x="119" y="225.01" width="1" height="22.29" fill-opacity="0.22"/><rect x="119" y="226.59" width="1" height="20.71" fill-opacity="0.27"/><rect x="119" y="227.86" width="1" height="19.44" fill-opacity="0.38"/><rect x="119" y="227.88" width="1" height="19.42" fill-opacity="0.32"/><rect x="119" y="227.90" width="1" height="19.40" fill-opacity="0.89"/><rect x="119" y="230.10" width="1" height="17.20"/><rect x="120" y="227.85" width="1" height="19.45" fill-opacity="0.16"/><rect x="120" y="228.84" width="1" height="18.46" fill-opacity="0.26"/><rect x="120" y="229.38" width="1" height="17.92" fill-opacity="0.35"/><rect x="120" y="230.10" width="1" height="17.20" fill-opacity="0.47"/><rect x="120" y="230.19" width="1" height="17.11"/><rect x="121" y="225.59" width="1" height="21.71" fill-opacity="0.22"/><rect x="121" y="226.83" width="1" height="20.47" fill-opacity="0.27"/><rect x="121" y="227.38" width="1" height="19.92" fill-opacity="0.38"/><rect x="121" y="227.68" width="1" height="19.62" fill-opacity="0.61"/><rect x="121" y="227.85" width="1" height="19.45" fill-opacity="0.36"/><rect x="121" y="228.46" width="1" height="18.84"/><rect x="122" y="225.20" width="1" height="22.10" fill-opacity="0.22"/><rect x="122" y="226.82" width="1" height="20.48" fill-opacity="0.27"/><rect x="122" y="227.03" width="1" height="20.27" fill-opacity="0.38"/><rect x="122" y="227.45" width="1" height="19.85" fill-opacity="0.03"/><rect x="122" y="228.46" width="1" height="18.84" fill-opacity="0.37"/><rect x="122" y="228.51" width="1" height="18.79"/><rect x="123" y="225.89" width="1" height="21.41" fill-opacity="0.22"/><rect x="123" y="227.07" width="1" height="20.23" fill-opacity="0.27"/><rect x="123" y="227.45" width="1" height="19.85" fill-opacity="0.36"/><rect x="123" y="227.83" width="1" height="19.47" fill-opacity="0.59"/><rect x="123" y="230.98" width="1" height="16.32"/><rect x="124" y="228.16" width="1" height="19.14" fill-opacity="0.22"/><rect x="124" y="228.84" width="1" height="18.46" fill-opacity="0.10"/><rect x="124" y="229.01" width="1" height="18.29" fill-opacity="0.30"/><rect x="124" y="229.49" width="1" height="17.81" fill-opacity="0.44"/><rect x="124" y="230.98" width="1" height="16.32" fill-opacity="0.23"/><rect x="124" y="231.03" width="1" height="16.27"/><rect x="125" y="225.55" width="1" height="21.75" fill-opacity="0.21"/><rect x="125" y="228.60" width="1" height="18.70" fill-opacity="0.27"/><rect x="125" y="228.84" width="1" height="18.46" fill-opacity="0.25"/><rect x="125" y="229.20" width="1" height="18.10" fill-opacity="0.50"/><rect x="125" y="229.86" width="1" height="17.44"/><rect x="126" y="225.07" width="1" height="22.23" fill-opacity="0.22"/><rect x="126" y="225.20" width="1" height="22.10" fill-opacity="0.27"/><rect x="126" y="225.39" width="1" height="21.91" fill-opacity="0.38"/><rect x="126" y="225.55" width="1" height="21.75" fill-opacity="0.00"/><rect x="126" y="225.67" width="1" height="21.63" fill-opacity="0.61"/><rect x="126" y="225.70" width="1" height="21.60"/><rect x="127" y="224.98" width="1" height="22.32" fill-opacity="0.22"/><rect x="127" y="225.64" width="1" height="21.66" fill-opacity="0.08"/><rect x="127" y="225.70" width="1" height="21.60" fill-opacity="0.11"/><rect x="127" y="226.98" width="1" height="20.32" fill-opacity="0.33"/><rect x="127" y="227.38" width="1" height="19.92" fill-opacity="0.50"/><rect x="127" y="227.40" width="1" height="19.90"/><rect x="128" y="225.64" width="1" height="21.66" fill-opacity="0.15"/><rect x="128" y="225.99" width="1" height="21.31" fill-opacity="0.25"/><rect x="128" y="226.69" width="1" height="20.61" fill-opacity="0.34"/><rect x="128" y="227.22" width="1" height="20.08" fill-opacity="0.52"/><rect x="128" y="228.53" width="1" height="18.77"/><rect x="129" y="224.60" width="1" height="22.70" fill-opacity="0.22"/><rect x="129" y="226.51" width="1" height="20.79" fill-opacity="0.16"/><rect x="129" y="227.57" width="1" height="19.73" fill-opacity="0.33"/><rect x="129" y="228.53" width="1" height="18.77" fill-opacity="0.03"/><rect x="129" y="228.70" width="1" height="18.60" fill-opacity="0.50"/><rect x="129" y="228.72" width="1" height="18.58"/><rect x="130" y="226.51" width="1" height="20.79" fill-opacity="0.09"/><rect x="130" y="227.05" width="1" height="20.25" fill-opacity="0.05"/><rect x="130" y="227.57" width="1" height="19.73" fill-opacity="0.25"/><rect x="130" y="227.86" width="1" height="19.44" fill-opacity="0.33"/><rect x="130" y="228.51" width="1" height="18.79" fill-opacity="0.50"/><rect x="130" y="228.63" width="1" height="18.67"/><rect x="131" y="225.24" width="1" height="22.06" fill-opacity="0.22"/><rect x="131" y="226.11" width="1" height="21.19" fill-opacity="0.27"/><rect x="131" y="226.56" width="1" height="20.74" fill-opacity="0.38"/><rect x="131" y="227.05" width="1" height="20.25" fill-opacity="0.47"/><rect x="131" y="227.92" width="1" height="19.38"/><rect x="132" y="226.49" width="1" height="20.81" fill-opacity="0.22"/><rect x="132" y="227.65" width="1" height="19.65" fill-opacity="0.27"/><rect x="132" y="227.92" width="1" height="19.38" fill-opacity="0.05"/><rect x="132" y="229.46" width="1" height="17.84" fill-opacity="0.40"/><rect x="132" y="230.06" width="1" height="17.24" fill-opacity="0.66"/><rect x="132" y="230.27" width="1" height="17.03"/><rect x="133" y="229.60" width="1" height="17.70" fill-opacity="0.22"/><rect x="133" y="229.73" width="1" height="17.57" fill-opacity="0.27"/><rect x="133" y="230.27" width="1" height="17.03" fill-opacity="0.18"/><rect x="133" y="230.40" width="1" height="16.90" fill-opacity="0.07"/><rect x="133" y="231.32" width="1" height="15.98" fill-opacity="0.50"/><rect x="133" y="232.23" width="1" height="15.07"/><rect x="134" y="227.98" width="1" height="19.32" fill-opacity="0.22"/><rect x="134" y="230.40" width="1" height="16.90" fill-opacity="0.23"/><rect x="134" y="230.44" width="1" height="16.86" fill-opacity="0.36"/><rect x="134" y="232.34" width="1" height="14.96" fill-opacity="0.55"/><rect x="134" y="233.01" width="1" height="14.29"/><rect x="135" y="224.60" width="1" height="22.70" fill-opacity="0.22"/><rect x="135" y="227.76" width="1" height="19.54" fill-opacity="0.27"/><rect x="135" y="229.51" width="1" height="17.79" fill-opacity="0.38"/><rect x="135" y="230.35" width="1" height="16.95" fill-opacity="0.61"/><rect x="135" y="230.98" width="1" height="16.32" fill-opacity="0.70"/><rect x="135" y="233.01" width="1" height="14.29"/><rect x="136" y="226.62" width="1" height="20.68" fill-opacity="0.22"/><rect x="136" y="226.80" width="1" height="20.50" fill-opacity="0.27"/><rect x="136" y="227.29" width="1" height="20.01" fill-opacity="0.38"/><rect x="136" y="228.63" width="1" height="18.67" fill-opacity="0.06"/><rect x="136" y="228.84" width="1" height="18.46" fill-opacity="0.65"/><rect x="136" y="230.98" width="1" height="16.32"/><rect x="137" y="228.59" width="1" height="18.71" fill-opacity="0.22"/><rect x="137" y="228.63" width="1" height="18.67" fill-opacity="0.25"/><rect x="137" y="229.14" width="1" height="18.16" fill-opacity="0.27"/><rect x="137" y="230.39" width="1" height="16.91" fill-opacity="0.50"/><rect x="137" y="230.61" width="1" height="16.69"/><rect x="138" y="227.15" width="1" height="20.15" fill-opacity="0.22"/><rect x="138" y="229.14" width="1" height="18.16" fill-opacity="0.07"/><rect x="138" y="229.31" width="1" height="17.99" fill-opacity="0.30"/><rect x="138" y="229.33" width="1" height="17.97" fill-opacity="0.42"/><rect x="138" y="229.55" width="1" height="17.75" fill-opacity="0.72"/><rect x="138" y="230.82" width="1" height="16.48"/><rect x="139" y="226.93" width="1" height="20.37" fill-opacity="0.22"/><rect x="139" y="227.02" width="1" height="20.28" fill-opacity="0.27"/><rect x="139" y="227.84" width="1" height="19.46" fill-opacity="0.38"/><rect x="139" y="228.74" width="1" height="18.56" fill-opacity="0.61"/><rect x="139" y="230.04" width="1" height="17.26" fill-opacity="0.05"/><rect x="139" y="230.82" width="1" height="16.48"/><rect x="140" y="226.97" width="1" height="20.33" fill-opacity="0.15"/><rect x="140" y="230.04" width="1" height="17.26" fill-opacity="0.24"/><rect x="140" y="230.15" width="1" height="17.15" fill-opacity="0.33"/><rect x="140" y="230.20" width="1" height="17.10" fill-opacity="0.50"/><rect x="140" y="230.98" width="1" height="16.32"/><rect x="141" y="223.83" width="1" height="23.47" fill-opacity="0.22"/><rect x="141" y="224.89" width="1" height="22.41" fill-opacity="0.09"/><rect x="141" y="225.40" width="1" height="21.90" fill-opacity="0.30"/><rect x="141" y="225.80" width="1" height="21.50" fill-opacity="0.43"/><rect x="141" y="226.97" width="1" height="20.33" fill-opacity="0.24"/><rect x="141" y="227.91" width="1" height="19.39"/><rect x="142" y="224.89" width="1" height="22.41" fill-opacity="0.14"/><rect x="142" y="224.96" width="1" height="22.34" fill-opacity="0.25"/><rect x="142" y="225.00" width="1" height="22.30" fill-opacity="0.34"/><rect x="142" y="225.46" width="1" height="21.84" fill-opacity="0.49"/><rect x="142" y="226.24" width="1" height="21.06"/><rect x="143" y="225.20" width="1" height="22.10" fill-opacity="0.22"/><rect x="143" y="225.46" width="1" height="21.84" fill-opacity="0.01"/><rect x="143" y="226.62" width="1" height="20.68" fill-opacity="0.17"/><rect x="143" y="227.05" width="1" height="20.25" fill-opacity="0.33"/><rect x="143" y="228.29" width="1" height="19.01" fill-opacity="0.50"/><rect x="143" y="228.45" width="1" height="18.85"/><rect x="144" y="225.33" width="1" height="21.97" fill-opacity="0.22"/><rect x="144" y="226.21" width="1" height="21.09" fill-opacity="0.27"/><rect x="144" y="226.62" width="1" height="20.68" fill-opacity="0.14"/><rect x="144" y="226.70" width="1" height="20.60" fill-opacity="0.44"/><rect x="144" y="227.51" width="1" height="19.79" fill-opacity="0.21"/><rect x="144" y="228.01" width="1" height="19.29"/><rect x="145" y="225.42" width="1" height="21.88" fill-opacity="0.22"/><rect x="145" y="227.51" width="1" height="19.79" fill-opacity="0.20"/><rect x="145" y="227.51" width="1" height="19.79" fill-opacity="0.34"/><rect x="145" y="227.87" width="1" height="19.43" fill-opacity="0.48"/><rect x="145" y="229.07" width="1" height="18.23"/><rect x="146" y="227.87" width="1" height="19.43" fill-opacity="0.02"/><rect x="146" y="229.69" width="1" height="17.61" fill-opacity="0.22"/><rect x="146" y="229.81" width="1" height="17.49" fill-opacity="0.16"/><rect x="146" y="229.87" width="1" height="17.43" fill-opacity="0.33"/><rect x="146" y="230.77" width="1" height="16.53" fill-opacity="0.50"/><rect x="146" y="233.03" width="1" height="14.27"/><rect x="147" y="225.57" width="1" height="21.73" fill-opacity="0.22"/><rect x="147" y="226.37" width="1" height="20.93" fill-opacity="0.06"/><rect x="147" y="228.07" width="1" height="19.23" fill-opacity="0.29"/><rect x="147" y="229.29" width="1" height="18.01" fill-opacity="0.41"/><rect x="147" y="229.81" width="1" height="17.49" fill-opacity="0.31"/><rect x="147" y="231.39" width="1" height="15.91"/><rect x="148" y="226.37" width="1" height="20.93" fill-opacity="0.17"/><rect x="148" y="226.63" width="1" height="20.67" fill-opacity="0.26"/><rect x="148" y="227.69" width="1" height="19.61" fill-opacity="0.35"/><rect x="148" y="229.05" width="1" height="18.25" fill-opacity="0.54"/><rect x="148" y="229.46" width="1" height="17.84"/><rect x="149" y="226.29" width="1" height="21.01" fill-opacity="0.22"/><rect x="149" y="227.46" width="1" height="19.84" fill-opacity="0.27"/><rect x="149" y="227.46" width="1" height="19.84" fill-opacity="0.38"/><rect x="149" y="228.19" width="1" height="19.11" fill-opacity="0.61"/><rect x="149" y="228.29" width="1" height="19.01" fill-opacity="0.76"/><rect x="149" y="229.46" width="1" height="17.84"/><rect x="150" y="224.39" width="1" height="22.91" fill-opacity="0.03"/><rect x="150" y="225.62" width="1" height="21.68" fill-opacity="0.22"/><rect x="150" y="227.96" width="1" height="19.34" fill-opacity="0.29"/><rect x="150" y="228.14" width="1" height="19.16" fill-opacity="0.40"/><rect x="150" y="228.26" width="1" height="19.04" fill-opacity="0.66"/><rect x="150" y="228.29" width="1" height="19.01"/><rect x="151" y="224.39" width="1" height="22.91" fill-opacity="0.19"/><rect x="151" y="224.73" width="1" height="22.57" fill-opacity="0.26"/><rect x="151" y="226.59" width="1" height="20.71" fill-opacity="0.36"/><rect x="151" y="226.72" width="1" height="20.58" fill-opacity="0.56"/><rect x="151" y="227.04" width="1" height="20.26"/><rect x="152" y="225.06" width="1" height="22.24" fill-opacity="0.22"/><rect x="152" y="226.99" width="1" height="20.31" fill-opacity="0.12"/><rect x="152" y="227.04" width="1" height="20.26" fill-opacity="0.07"/><rect x="152" y="227.84" width="1" height="19.46" fill-opacity="0.33"/><rect x="152" y="228.79" width="1" height="18.51" fill-opacity="0.50"/><rect x="152" y="229.41" width="1" height="17.89"/><rect x="153" y="226.99" width="1" height="20.31" fill-opacity="0.12"/><rect x="153" y="229.02" width="1" height="18.28" fill-opacity="0.25"/><rect x="153" y="229.70" width="1" height="17.60" fill-opacity="0.33"/><rect x="153" y="230.97" width="1" height="16.33" fill-opacity="0.48"/><rect x="153" y="232.74" width="1" height="14.56" fill-opacity="0.07"/><rect x="153" y="232.93" width="1" height="14.37"/><rect x="154" y="227.24" width="1" height="20.06" fill-opacity="0.16"/><rect x="154" y="227.62" width="1" height="19.68" fill-opacity="0.25"/><rect x="154" y="227.78" width="1" height="19.52" fill-opacity="0.34"/><rect x="154" y="230.81" width="1" height="16.49" fill-opacity="0.52"/><rect x="154" y="232.74" width="1" height="14.56"/><rect x="155" y="224.04" width="1" height="23.26" fill-opacity="0.22"/><rect x="155" y="224.63" width="1" height="22.67" fill-opacity="0.27"/><rect x="155" y="225.60" width="1" height="21.70" fill-opacity="0.38"/><rect x="155" y="225.95" width="1" height="21.35" fill-opacity="0.22"/><rect x="155" y="226.45" width="1" height="20.85" fill-opacity="0.78"/><rect x="155" y="227.24" width="1" height="20.06"/><rect x="156" y="225.95" width="1" height="21.35" fill-opacity="0.14"/><rect x="156" y="227.15" width="1" height="20.15" fill-opacity="0.25"/><rect x="156" y="227.16" width="1" height="20.14" fill-opacity="0.33"/><rect x="156" y="227.41" width="1" height="19.89" fill-opacity="0.50"/><rect x="156" y="227.86" width="1" height="19.44" fill-opacity="0.99"/><rect x="156" y="228.87" width="1" height="18.43"/><rect x="157" y="224.11" width="1" height="23.19" fill-opacity="0.22"/><rect x="157" y="227.24" width="1" height="20.06" fill-opacity="0.27"/><rect x="157" y="227.70" width="1" height="19.60" fill-opacity="0.38"/><rect x="157" y="228.87" width="1" height="18.43" fill-opacity="0.60"/><rect x="157" y="229.13" width="1" height="18.17"/><rect x="158" y="228.21" width="1" height="19.09" fill-opacity="0.07"/><rect x="158" y="228.25" width="1" height="19.05" fill-opacity="0.23"/><rect x="158" y="229.13" width="1" height="18.17" fill-opacity="0.10"/><rect x="158" y="229.31" width="1" height="17.99" fill-opacity="0.33"/><rect x="158" y="230.15" width="1" height="17.15" fill-opacity="0.50"/><rect x="158" y="231.54" width="1" height="15.76"/><rect x="159" y="228.21" width="1" height="19.09" fill-opacity="0.15"/><rect x="159" y="228.40" width="1" height="18.90" fill-opacity="0.24"/><rect x="159" y="229.28" width="1" height="18.02" fill-opacity="0.33"/><rect x="159" y="229.63" width="1" height="17.67" fill-opacity="0.50"/><rect x="159" y="229.95" width="1" height="17.35"/><rect x="160" y="226.03" width="1" height="21.27" fill-opacity="0.22"/><rect x="160" y="226.47" width="1" height="20.83" fill-opacity="0.27"/><rect x="160" y="226.61" width="1" height="20.69" fill-opacity="0.38"/><rect x="160" y="226.93" width="1" height="20.37" fill-opacity="0.36"/><rect x="160" y="227.73" width="1" height="19.57" fill-opacity="0.95"/><rect x="160" y="228.40" width="1" height="18.90"/><rect x="161" y="224.56" width="1" height="22.74" fill-opacity="0.22"/><rect x="161" y="225.44" width="1" height="21.86" fill-opacity="0.27"/><rect x="161" y="226.93" width="1" height="20.37" fill-opacity="0.15"/><rect x="161" y="227.14" width="1" height="20.16" fill-opacity="0.45"/><rect x="161" y="227.42" width="1" height="19.88" fill-opacity="0.81"/><rect x="161" y="227.70" width="1" height="19.60"/><rect x="162" y="227.21" width="1" height="20.09" fill-opacity="0.22"/><rect x="162" y="227.33" width="1" height="19.97" fill-opacity="0.27"/><rect x="162" y="227.70" width="1" height="19.60" fill-opacity="0.29"/><rect x="162" y="227.81" width="1" height="19.49" fill-opacity="0.47"/><rect x="162" y="227.83" width="1" height="19.47"/><rect x="163" y="224.01" width="1" height="23.29" fill-opacity="0.22"/><rect x="163" y="225.63" width="1" height="21.67" fill-opacity="0.27"/><rect x="163" y="225.64" width="1" height="21.66" fill-opacity="0.38"/><rect x="163" y="226.72" width="1" height="20.58" fill-opacity="0.32"/><rect x="163" y="227.81" width="1" height="19.49" fill-opacity="0.10"/><rect x="163" y="229.77" width="1" height="17.53"/><rect x="164" y="225.74" width="1" height="21.56" fill-opacity="0.22"/><rect x="164" y="226.72" width="1" height="20.58" fill-opacity="0.13"/><rect x="164" y="226.72" width="1" height="20.58" fill-opacity="0.31"/><rect x="164" y="227.10" width="1" height="20.20" fill-opacity="0.46"/><rect x="164" y="227.61" width="1" height="19.69" fill-opacity="0.15"/><rect x="164" y="229.09" width="1" height="18.21"/><rect x="165" y="227.61" width="1" height="19.69" fill-opacity="0.18"/><rect x="165" y="227.86" width="1" height="19.44" fill-opacity="0.22"/><rect x="165" y="228.05" width="1" height="19.25" fill-opacity="0.33"/><rect x="165" y="228.30" width="1" height="19.00" fill-opacity="0.50"/><rect x="165" y="228.79" width="1" height="18.51"/><rect x="166" y="227.57" width="1" height="19.73" fill-opacity="0.22"/><rect x="166" y="227.86" width="1" height="19.44" fill-opacity="0.05"/><rect x="166" y="228.40" width="1" height="18.90" fill-opacity="0.29"/><rect x="166" y="228.70" width="1" height="18.60" fill-opacity="0.40"/><rect x="166" y="228.78" width="1" height="18.52" fill-opacity="0.32"/><rect x="166" y="229.16" width="1" height="18.14"/><rect x="167" y="224.40" width="1" height="22.90" fill-opacity="0.22"/><rect x="167" y="225.23" width="1" height="22.07" fill-opacity="0.27"/><rect x="167" y="226.55" width="1" height="20.75" fill-opacity="0.04"/><rect x="167" y="228.58" width="1" height="18.72" fill-opacity="0.40"/><rect x="167" y="228.78" width="1" height="18.52" fill-opacity="0.35"/><rect x="167" y="228.89" width="1" height="18.41"/><rect x="168" y="224.53" width="1" height="22.77" fill-opacity="0.22"/><rect x="168" y="226.55" width="1" height="20.75" fill-opacity="0.24"/><rect x="168" y="227.12" width="1" height="20.18" fill-opacity="0.36"/><rect x="168" y="227.69" width="1" height="19.61" fill-opacity="0.57"/><rect x="168" y="227.97" width="1" height="19.33"/><rect x="169" y="224.78" width="1" height="22.52" fill-opacity="0.09"/><rect x="169" y="226.24" width="1" height="21.06" fill-opacity="0.24"/><rect x="169" y="226.35" width="1" height="20.95" fill-opacity="0.31"/><rect x="169" y="226.67" width="1" height="20.63" fill-opacity="0.45"/><rect x="169" y="227.08" width="1" height="20.22" fill-opacity="0.81"/><rect x="169" y="227.97" width="1" height="19.33"/><rect x="170" y="224.78" width="1" height="22.52" fill-opacity="0.13"/><rect x="170" y="226.38" width="1" height="20.92" fill-opacity="0.25"/><rect x="170" y="227.23" width="1" height="20.07" fill-opacity="0.33"/><rect x="170" y="227.96" width="1" height="19.34" fill-opacity="0.49"/><rect x="170" y="228.57" width="1" height="18.73" fill-opacity="0.05"/><rect x="170" y="230.01" width="1" height="17.29"/><rect x="171" y="224.55" width="1" height="22.75" fill-opacity="0.22"/><rect x="171" y="225.87" width="1" height="21.43" fill-opacity="0.27"/><rect x="171" y="226.97" width="1" height="20.33" fill-opacity="0.26"/><rect x="171" y="227.93" width="1" height="19.37" fill-opacity="0.51"/><rect x="171" y="228.57" width="1" height="18.73"/><rect x="172" y="226.97" width="1" height="20.33" fill-opacity="0.06"/><rect x="172" y="228.05" width="1" height="19.25" fill-opacity="0.08"/><rect x="172" y="228.46" width="1" height="18.84" fill-opacity="0.25"/><rect x="172" y="229.28" width="1" height="18.02" fill-opacity="0.33"/><rect x="172" y="230.25" width="1" height="17.05" fill-opacity="0.50"/><rect x="172" y="230.35" width="1" height="16.95"/><rect x="173" y="225.14" width="1" height="22.16" fill-opacity="0.22"/><rect x="173" y="225.18" width="1" height="22.12" fill-opacity="0.27"/><rect x="173" y="227.15" width="1" height="20.15" fill-opacity="0.38"/><rect x="173" y="227.69" width="1" height="19.61" fill-opacity="0.60"/><rect x="173" y="228.05" width="1" height="19.25"/><rect x="174" y="225.18" width="1" height="22.12" fill-opacity="0.00"/><rect x="174" y="226.00" width="1" height="21.30" fill-opacity="0.22"/><rect x="174" y="226.73" width="1" height="20.57" fill-opacity="0.27"/><rect x="174" y="227.05" width="1" height="20.25" fill-opacity="0.38"/><rect x="174" y="227.93" width="1" height="19.37" fill-opacity="0.61"/><rect x="174" y="228.91" width="1" height="18.39"/><rect x="175" y="228.91" width="1" height="18.39" fill-opacity="0.08"/><rect x="175" y="230.44" width="1" height="16.86" fill-opacity="0.23"/><rect x="175" y="230.88" width="1" height="16.42" fill-opacity="0.30"/><rect x="175" y="231.00" width="1" height="16.30" fill-opacity="0.44"/><rect x="175" y="231.16" width="1" height="16.14" fill-opacity="0.78"/><rect x="175" y="231.30" width="1" height="16.00"/><rect x="176" y="226.35" width="1" height="20.95" fill-opacity="0.22"/><rect x="176" y="228.37" width="1" height="18.93" fill-opacity="0.25"/><rect x="176" y="228.55" width="1" height="18.75" fill-opacity="0.37"/><rect x="176" y="230.54" width="1" height="16.76" fill-opacity="0.58"/><rect x="176" y="231.30" width="1" height="16.00"/><rect x="177" y="228.37" width="1" height="18.93" fill-opacity="0.02"/><rect x="177" y="228.79" width="1" height="18.51" fill-opacity="0.22"/><rect x="177" y="229.72" width="1" height="17.58" fill-opacity="0.16"/><rect x="177" y="230.26" width="1" height="17.04" fill-opacity="0.33"/><rect x="177" y="230.59" width="1" height="16.71" fill-opacity="0.50"/><rect x="177" y="233.42" width="1" height="13.88"/><rect x="178" y="225.21" width="1" height="22.09" fill-opacity="0.22"/><rect x="178" y="226.63" width="1" height="20.67" fill-opacity="0.27"/><rect x="178" y="228.28" width="1" height="19.02" fill-opacity="0.38"/><rect x="178" y="228.33" width="1" height="18.97" fill-opacity="0.13"/><rect x="178" y="229.26" width="1" height="18.04" fill-opacity="0.70"/><rect x="178" y="229.72" width="1" height="17.58"/><rect x="179" y="228.33" width="1" height="18.97" fill-opacity="0.17"/><rect x="179" y="228.70" width="1" height="18.60" fill-opacity="0.22"/><rect x="179" y="230.49" width="1" height="16.81" fill-opacity="0.33"/><rect x="179" y="230.81" width="1" height="16.49" fill-opacity="0.50"/><rect x="179" y="233.05" width="1" height="14.25"/><rect x="180" y="224.88" width="1" height="22.42" fill-opacity="0.22"/><rect x="180" y="225.30" width="1" height="22.00" fill-opacity="0.27"/><rect x="180" y="226.05" width="1" height="21.25" fill-opacity="0.19"/><rect x="180" y="227.89" width="1" height="19.41" fill-opacity="0.47"/><rect x="180" y="227.92" width="1" height="19.38" fill-opacity="0.88"/><rect x="180" y="228.70" width="1" height="18.60"/><rect x="181" y="226.05" width="1" height="21.25" fill-opacity="0.11"/><rect x="181" y="226.11" width="1" height="21.19" fill-opacity="0.24"/><rect x="181" y="226.16" width="1" height="21.14" fill-opacity="0.32"/><rect x="181" y="226.92" width="1" height="20.38" fill-opacity="0.46"/><rect x="181" y="227.06" width="1" height="20.24" fill-opacity="0.14"/><rect x="181" y="227.72" width="1" height="19.58"/><rect x="182" y="223.58" width="1" height="23.72" fill-opacity="0.22"/><rect x="182" y="224.79" width="1" height="22.51" fill-opacity="0.27"/><rect x="182" y="227.06" width="1" height="20.24" fill-opacity="0.32"/><rect x="182" y="227.20" width="1" height="20.10" fill-opacity="0.55"/><rect x="182" y="229.98" width="1" height="17.32"/><rect x="183" y="223.95" width="1" height="23.35" fill-opacity="0.10"/><rect x="183" y="227.78" width="1" height="19.52" fill-opacity="0.24"/><rect x="183" y="228.77" width="1" height="18.53" fill-opacity="0.31"/><rect x="183" y="229.95" width="1" height="17.35" fill-opacity="0.46"/><rect x="183" y="229.98" width="1" height="17.32" fill-opacity="0.16"/><rect x="183" y="230.56" width="1" height="16.74"/><rect x="184" y="223.95" width="1" height="23.35" fill-opacity="0.12"/><rect x="184" y="226.48" width="1" height="20.82" fill-opacity="0.24"/><rect x="184" y="228.63" width="1" height="18.67" fill-opacity="0.32"/><rect x="184" y="229.81" width="1" height="17.49" fill-opacity="0.05"/><rect x="184" y="230.96" width="1" height="16.34" fill-opacity="0.50"/><rect x="184" y="231.29" width="1" height="16.01"/><rect x="185" y="229.80" width="1" height="17.50" fill-opacity="0.22"/><rect x="185" y="229.81" width="1" height="17.49" fill-opacity="0.25"/><rect x="185" y="230.58" width="1" height="16.72" fill-opacity="0.27"/><rect x="185" y="230.99" width="1" height="16.31" fill-opacity="0.50"/><rect x="185" y="231.26" width="1" height="16.04"/><rect x="186" y="227.25" width="1" height="20.05" fill-opacity="0.22"/><rect x="186" y="227.31" width="1" height="19.99" fill-opacity="0.27"/><rect x="186" y="228.93" width="1" height="18.37" fill-opacity="0.38"/><rect x="186" y="230.39" width="1" height="16.91" fill-opacity="0.61"/><rect x="186" y="230.58" width="1" height="16.72" fill-opacity="0.40"/><rect x="186" y="230.75" width="1" height="16.55"/><rect x="187" y="226.51" width="1" height="20.79" fill-opacity="0.22"/><rect x="187" y="227.42" width="1" height="19.88" fill-opacity="0.27"/><rect x="187" y="228.90" width="1" height="18.40" fill-opacity="0.38"/><rect x="187" y="229.34" width="1" height="17.96" fill-opacity="0.61"/><rect x="187" y="229.90" width="1" height="17.40" fill-opacity="0.05"/><rect x="187" y="230.75" width="1" height="16.55"/><rect x="188" y="228.91" width="1" height="18.39" fill-opacity="0.15"/><rect x="188" y="229.56" width="1" height="17.74" fill-opacity="0.25"/><rect x="188" y="229.70" width="1" height="17.60" fill-opacity="0.34"/><rect x="188" y="229.90" width="1" height="17.40" fill-opacity="0.49"/><rect x="188" y="230.27" width="1" height="17.03"/><rect x="189" y="228.86" width="1" height="18.44" fill-opacity="0.22"/><rect x="189" y="228.91" width="1" height="18.39" fill-opacity="0.09"/><rect x="189" y="229.20" width="1" height="18.10" fill-opacity="0.10"/><rect x="189" y="229.80" width="1" height="17.50" fill-opacity="0.33"/><rect x="189" y="230.26" width="1" height="17.04" fill-opacity="0.50"/><rect x="189" y="230.41" width="1" height="16.89"/><rect x="190" y="227.42" width="1" height="19.88" fill-opacity="0.22"/><rect x="190" y="227.92" width="1" height="19.38" fill-opacity="0.27"/><rect x="190" y="228.40" width="1" height="18.90" fill-opacity="0.37"/><rect x="190" y="228.67" width="1" height="18.63" fill-opacity="0.60"/><rect x="190" y="229.20" width="1" height="18.10"/><rect x="191" y="222.74" width="1" height="24.56" fill-opacity="0.13"/><rect x="191" y="224.75" width="1" height="22.55" fill-opacity="0.25"/><rect x="191" y="225.62" width="1" height="21.68" fill-opacity="0.33"/><rect x="191" y="227.92" width="1" height="19.38" fill-opacity="0.02"/><rect x="191" y="228.53" width="1" height="18.77" fill-opacity="0.50"/><rect x="191" y="229.19" width="1" height="18.11"/><rect x="192" y="222.74" width="1" height="24.56" fill-opacity="0.08"/><rect x="192" y="224.69" width="1" height="22.61" fill-opacity="0.23"/><rect x="192" y="224.75" width="1" height="22.55" fill-opacity="0.31"/><rect x="192" y="225.72" width="1" height="21.58" fill-opacity="0.44"/><rect x="192" y="227.75" width="1" height="19.55" fill-opacity="0.79"/><rect x="192" y="230.71" width="1" height="16.59"/><rect x="193" y="229.02" width="1" height="18.28" fill-opacity="0.20"/><rect x="193" y="229.57" width="1" height="17.73" fill-opacity="0.27"/><rect x="193" y="230.40" width="1" height="16.90" fill-opacity="0.37"/><rect x="193" y="230.49" width="1" height="16.81" fill-opacity="0.57"/><rect x="193" y="230.71" width="1" height="16.59"/><rect x="194" y="228.93" width="1" height="18.37" fill-opacity="0.22"/><rect x="194" y="229.01" width="1" height="18.29" fill-opacity="0.27"/><rect x="194" y="229.02" width="1" height="18.28" fill-opacity="0.04"/><rect x="194" y="231.21" width="1" height="16.09" fill-opacity="0.39"/><rect x="194" y="232.20" width="1" height="15.10" fill-opacity="0.64"/><rect x="194" y="232.59" width="1" height="14.71"/><rect x="195" y="229.23" width="1" height="18.07" fill-opacity="0.04"/><rect x="195" y="230.82" width="1" height="16.48" fill-opacity="0.22"/><rect x="195" y="231.01" width="1" height="16.29" fill-opacity="0.29"/><rect x="195" y="232.59" width="1" height="14.71" fill-opacity="0.18"/><rect x="195" y="232.62" width="1" height="14.68" fill-opacity="0.50"/><rect x="195" y="232.66" width="1" height="14.64"/><rect x="196" y="229.23" width="1" height="18.07" fill-opacity="0.17"/><rect x="196" y="230.77" width="1" height="16.53" fill-opacity="0.26"/><rect x="196" y="231.25" width="1" height="16.05" fill-opacity="0.35"/><rect x="196" y="232.28" width="1" height="15.02" fill-opacity="0.54"/><rect x="196" y="233.50" width="1" height="13.80"/><rect x="197" y="227.95" width="1" height="19.35" fill-opacity="0.11"/><rect x="197" y="230.39" width="1" height="16.91" fill-opacity="0.24"/><rect x="197" y="230.79" width="1" height="16.51" fill-opacity="0.32"/><rect x="197" y="231.83" width="1" height="15.47" fill-opacity="0.46"/><rect x="197" y="232.64" width="1" height="14.66" fill-opacity="0.86"/><rect x="197" y="233.50" width="1" height="13.80"/><rect x="198" y="227.95" width="1" height="19.35" fill-opacity="0.11"/><rect x="198" y="228.06" width="1" height="19.24" fill-opacity="0.24"/><rect x="198" y="228.43" width="1" height="18.87" fill-opacity="0.32"/><rect x="198" y="228.48" width="1" height="18.82" fill-opacity="0.47"/><rect x="198" y="228.50" width="1" height="18.80" fill-opacity="0.88"/><rect x="198" y="228.63" width="1" height="18.67"/><rect x="199" y="226.90" width="1" height="20.40" fill-opacity="0.17"/><rect x="199" y="228.63" width="1" height="18.67" fill-opacity="0.22"/><rect x="199" y="229.14" width="1" height="18.16" fill-opacity="0.33"/><rect x="199" y="229.58" width="1" height="17.72" fill-opacity="0.50"/><rect x="199" y="231.24" width="1" height="16.06"/><rect x="200" y="224.37" width="1" height="22.93" fill-opacity="0.09"/><rect x="200" y="226.90" width="1" height="20.40" fill-opacity="0.05"/><rect x="200" y="228.60" width="1" height="18.70" fill-opacity="0.25"/><rect x="200" y="229.22" width="1" height="18.08" fill-opacity="0.33"/><rect x="200" y="229.78" width="1" height="17.52" fill-opacity="0.50"/><rect x="200" y="229.92" width="1" height="17.38"/><rect x="201" y="222.60" width="1" height="24.70" fill-opacity="0.22"/><rect x="201" y="222.76" width="1" height="24.54" fill-opacity="0.27"/><rect x="201" y="224.16" width="1" height="23.14" fill-opacity="0.38"/><rect x="201" y="224.37" width="1" height="22.93" fill-opacity="0.35"/><rect x="201" y="224.83" width="1" height="22.47" fill-opacity="0.93"/><rect x="201" y="227.84" width="1" height="19.46"/><rect x="202" y="226.33" width="1" height="20.97" fill-opacity="0.22"/><rect x="202" y="226.43" width="1" height="20.87" fill-opacity="0.27"/><rect x="202" y="226.48" width="1" height="20.82" fill-opacity="0.27"/><rect x="202" y="226.61" width="1" height="20.69" fill-opacity="0.52"/><rect x="202" y="227.84" width="1" height="19.46"/><rect x="203" y="226.48" width="1" height="20.82" fill-opacity="0.06"/><rect x="203" y="226.84" width="1" height="20.46" fill-opacity="0.23"/><rect x="203" y="227.78" width="1" height="19.52" fill-opacity="0.30"/><rect x="203" y="228.72" width="1" height="18.58" fill-opacity="0.42"/><rect x="203" y="229.15" width="1" height="18.15" fill-opacity="0.27"/><rect x="203" y="229.67" width="1" height="17.63"/><rect x="204" y="224.21" width="1" height="23.09" fill-opacity="0.22"/><rect x="204" y="224.58" width="1" height="22.72" fill-opacity="0.00"/><rect x="204" y="227.73" width="1" height="19.57" fill-opacity="0.28"/><rect x="204" y="229.15" width="1" height="18.15" fill-opacity="0.24"/><rect x="204" y="229.32" width="1" height="17.98" fill-opacity="0.50"/><rect x="204" y="229.62" width="1" height="17.68"/><rect x="205" y="224.58" width="1" height="22.72" fill-opacity="0.21"/><rect x="205" y="225.35" width="1" height="21.95" fill-opacity="0.27"/><rect x="205" y="227.19" width="1" height="20.11" fill-opacity="0.38"/><rect x="205" y="228.07" width="1" height="19.23" fill-opacity="0.60"/><rect x="205" y="230.19" width="1" height="17.11"/><rect x="206" y="227.75" width="1" height="19.55" fill-opacity="0.06"/><rect x="206" y="228.55" width="1" height="18.75" fill-opacity="0.23"/><rect x="206" y="228.95" width="1" height="18.35" fill-opacity="0.30"/><rect x="206" y="229.40" width="1" height="17.90" fill-opacity="0.43"/><rect x="206" y="230.19" width="1" height="17.11" fill-opacity="0.26"/><rect x="206" y="231.10" width="1" height="16.20"/><rect x="207" y="225.91" width="1" height="21.39" fill-opacity="0.22"/><rect x="207" y="227.75" width="1" height="19.55" fill-opacity="0.19"/><rect x="207" y="227.99" width="1" height="19.31" fill-opacity="0.34"/><rect x="207" y="228.02" width="1" height="19.28" fill-opacity="0.49"/><rect x="207" y="228.77" width="1" height="18.53"/><rect x="208" y="226.42" width="1" height="20.88" fill-opacity="0.22"/><rect x="208" y="226.46" width="1" height="20.84" fill-opacity="0.16"/><rect x="208" y="227.29" width="1" height="20.01" fill-opacity="0.33"/><rect x="208" y="228.02" width="1" height="19.28" fill-opacity="0.03"/><rect x="208" y="228.36" width="1" height="18.94" fill-opacity="0.50"/><rect x="208" y="228.55" width="1" height="18.75"/><rect x="209" y="226.46" width="1" height="20.84" fill-opacity="0.09"/><rect x="209" y="227.32" width="1" height="19.98" fill-opacity="0.06"/><rect x="209" y="227.71" width="1" height="19.59" fill-opacity="0.25"/><rect x="209" y="228.35" width="1" height="18.95" fill-opacity="0.33"/><rect x="209" y="228.44" width="1" height="18.86" fill-opacity="0.50"/><rect x="209" y="229.29" width="1" height="18.01"/><rect x="210" y="227.25" width="1" height="20.05" fill-opacity="0.22"/><rect x="210" y="227.32" width="1" height="19.98" fill-opacity="0.21"/><rect x="210" y="227.41" width="1" height="19.89" fill-opacity="0.35"/><rect x="210" y="228.73" width="1" height="18.57" fill-opacity="0.47"/><rect x="210" y="229.21" width="1" height="18.09"/><rect x="211" y="226.75" width="1" height="20.55" fill-opacity="0.11"/><rect x="211" y="228.73" width="1" height="18.57" fill-opacity="0.03"/><rect x="211" y="228.73" width="1" height="18.57" fill-opacity="0.25"/><rect x="211" y="229.38" width="1" height="17.92" fill-opacity="0.33"/><rect x="211" y="230.78" width="1" height="16.52" fill-opacity="0.50"/><rect x="211" y="231.12" width="1" height="16.18"/><rect x="212" y="225.96" width="1" height="21.34" fill-opacity="0.04"/><rect x="212" y="226.73" width="1" height="20.57" fill-opacity="0.22"/><rect x="212" y="226.75" width="1" height="20.55" fill-opacity="0.14"/><rect x="212" y="226.88" width="1" height="20.42" fill-opacity="0.33"/><rect x="212" y="228.11" width="1" height="19.19" fill-opacity="0.50"/><rect x="212" y="228.72" width="1" height="18.58"/><rect x="213" y="225.96" width="1" height="21.34" fill-opacity="0.18"/><rect x="213" y="227.75" width="1" height="19.55" fill-opacity="0.26"/><rect x="213" y="229.02" width="1" height="18.28" fill-opacity="0.35"/><rect x="213" y="229.85" width="1" height="17.45" fill-opacity="0.55"/><rect x="213" y="230.42" width="1" height="16.88"/><rect x="214" y="227.69" width="1" height="19.61" fill-opacity="0.22"/><rect x="214" y="227.84" width="1" height="19.46" fill-opacity="0.13"/><rect x="214" y="227.98" width="1" height="19.32" fill-opacity="0.31"/><rect x="214" y="229.72" width="1" height="17.58" fill-opacity="0.46"/><rect x="214" y="229.73" width="1" height="17.57" fill-opacity="0.85"/><rect x="214" y="230.42" width="1" height="16.88"/><rect x="215" y="226.38" width="1" height="20.92" fill-opacity="0.22"/><rect x="215" y="227.84" width="1" height="19.46" fill-opacity="0.15"/><rect x="215" y="228.20" width="1" height="19.10" fill-opacity="0.32"/><rect x="215" y="228.71" width="1" height="18.59" fill-opacity="0.05"/><rect x="215" y="228.99" width="1" height="18.31" fill-opacity="0.50"/><rect x="215" y="230.10" width="1" height="17.20"/><rect x="216" y="228.71" width="1" height="18.59" fill-opacity="0.19"/><rect x="216" y="228.90" width="1" height="18.40" fill-opacity="0.27"/><rect x="216" y="229.86" width="1" height="17.44" fill-opacity="0.36"/><rect x="216" y="230.12" width="1" height="17.18" fill-opacity="0.43"/><rect x="216" y="231.72" width="1" height="15.58"/><rect x="217" y="224.68" width="1" height="22.62" fill-opacity="0.09"/><rect x="217" y="224.86" width="1" height="22.44" fill-opacity="0.24"/><rect x="217" y="227.20" width="1" height="20.10" fill-opacity="0.31"/><rect x="217" y="227.94" width="1" height="19.36" fill-opacity="0.45"/><rect x="217" y="228.30" width="1" height="19.00" fill-opacity="0.81"/><rect x="217" y="230.12" width="1" height="17.18"/><rect x="218" y="224.68" width="1" height="22.62" fill-opacity="0.13"/><rect x="218" y="225.41" width="1" height="21.89" fill-opacity="0.25"/><rect x="218" y="226.65" width="1" height="20.65" fill-opacity="0.33"/><rect x="218" y="227.05" width="1" height="20.25" fill-opacity="0.49"/><rect x="218" y="227.93" width="1" height="19.37" fill-opacity="0.95"/><rect x="218" y="228.82" width="1" height="18.48"/><rect x="219" y="228.33" width="1" height="18.97" fill-opacity="0.22"/><rect x="219" y="228.40" width="1" height="18.90" fill-opacity="0.19"/><rect x="219" y="228.82" width="1" height="18.48" fill-opacity="0.32"/><rect x="219" y="229.14" width="1" height="18.16" fill-opacity="0.50"/><rect x="219" y="229.54" width="1" height="17.76"/><rect x="220" y="225.71" width="1" height="21.59" fill-opacity="0.22"/><rect x="220" y="225.75" width="1" height="21.55" fill-opacity="0.27"/><rect x="220" y="227.20" width="1" height="20.10" fill-opacity="0.38"/><rect x="220" y="227.79" width="1" height="19.51" fill-opacity="0.21"/><rect x="220" y="228.40" width="1" height="18.90" fill-opacity="0.23"/><rect x="220" y="228.74" width="1" height="18.56"/><rect x="221" y="210.98" width="1" height="36.32" fill-opacity="0.22"/><rect x="221" y="212.40" width="1" height="34.90" fill-opacity="0.27"/><rect x="221" y="213.81" width="1" height="33.49" fill-opacity="0.37"/><rect x="221" y="227.79" width="1" height="19.51" fill-opacity="0.40"/><rect x="221" y="228.75" width="1" height="18.55"/><rect x="222" y="213.81" width="1" height="33.49" fill-opacity="0.00"/><rect x="222" y="227.49" width="1" height="19.81" fill-opacity="0.14"/><rect x="222" y="228.17" width="1" height="19.13" fill-opacity="0.25"/><rect x="222" y="228.69" width="1" height="18.61" fill-opacity="0.33"/><rect x="222" y="228.84" width="1" height="18.46" fill-opacity="0.50"/><rect x="222" y="230.02" width="1" height="17.28"/><rect x="223" y="224.99" width="1" height="22.31" fill-opacity="0.22"/><rect x="223" y="227.31" width="1" height="19.99" fill-opacity="0.08"/><rect x="223" y="227.49" width="1" height="19.81" fill-opacity="0.11"/><rect x="223" y="227.81" width="1" height="19.49" fill-opacity="0.33"/><rect x="223" y="228.04" width="1" height="19.26" fill-opacity="0.50"/><rect x="223" y="228.79" width="1" height="18.51"/><rect x="224" y="226.56" width="1" height="20.74" fill-opacity="0.22"/><rect x="224" y="227.11" width="1" height="20.19" fill-opacity="0.27"/><rect x="224" y="227.12" width="1" height="20.18" fill-opacity="0.35"/><rect x="224" y="227.31" width="1" height="19.99" fill-opacity="0.42"/><rect x="224" y="227.34" width="1" height="19.96"/><rect x="225" y="224.10" width="1" height="23.20" fill-opacity="0.12"/><rect x="225" y="224.61" width="1" height="22.69" fill-opacity="0.25"/><rect x="225" y="225.00" width="1" height="22.30" fill-opacity="0.33"/><rect x="225" y="226.07" width="1" height="21.23" fill-opacity="0.48"/><rect x="225" y="227.12" width="1" height="20.18" fill-opacity="0.07"/><rect x="225" y="228.00" width="1" height="19.30"/><rect x="226" y="224.05" width="1" height="23.25" fill-opacity="0.22"/><rect x="226" y="224.10" width="1" height="23.20" fill-opacity="0.12"/><rect x="226" y="224.59" width="1" height="22.71" fill-opacity="0.31"/><rect x="226" y="225.12" width="1" height="22.18" fill-opacity="0.45"/><rect x="226" y="225.56" width="1" height="21.74" fill-opacity="0.82"/><rect x="226" y="228.25" width="1" height="19.05"/><rect x="227" y="228.25" width="1" height="19.05" fill-opacity="0.17"/><rect x="227" y="229.56" width="1" height="17.74" fill-opacity="0.26"/><rect x="227" y="229.74" width="1" height="17.56" fill-opacity="0.30"/><rect x="227" y="230.39" width="1" height="16.91" fill-opacity="0.50"/><rect x="227" y="230.57" width="1" height="16.73"/><rect x="228" y="227.60" width="1" height="19.70" fill-opacity="0.22"/><rect x="228" y="228.73" width="1" height="18.57" fill-opacity="0.27"/><rect x="228" y="229.03" width="1" height="18.27" fill-opacity="0.38"/><rect x="228" y="229.67" width="1" height="17.63" fill-opacity="0.61"/><rect x="228" y="229.74" width="1" height="17.56" fill-opacity="0.21"/><rect x="228" y="230.62" width="1" height="16.68"/><rect x="229" y="226.74" width="1" height="20.56" fill-opacity="0.22"/><rect x="229" y="226.76" width="1" height="20.54" fill-opacity="0.27"/><rect x="229" y="226.80" width="1" height="20.50" fill-opacity="0.06"/><rect x="229" y="229.23" width="1" height="18.07" fill-opacity="0.40"/><rect x="229" y="229.86" width="1" height="17.44" fill-opacity="0.67"/><rect x="229" y="230.62" width="1" height="16.68"/><rect x="230" y="225.56" width="1" height="21.74" fill-opacity="0.17"/><rect x="230" y="225.86" width="1" height="21.44" fill-opacity="0.26"/><rect x="230" y="226.44" width="1" height="20.86" fill-opacity="0.35"/><rect x="230" y="226.80" width="1" height="20.50" fill-opacity="0.46"/><rect x="230" y="229.54" width="1" height="17.76"/><rect x="231" y="225.56" width="1" height="21.74" fill-opacity="0.04"/><rect x="231" y="227.02" width="1" height="20.28" fill-opacity="0.22"/><rect x="231" y="227.26" width="1" height="20.04" fill-opacity="0.29"/><rect x="231" y="227.67" width="1" height="19.63" fill-opacity="0.41"/><rect x="231" y="228.91" width="1" height="18.39" fill-opacity="0.69"/><rect x="231" y="230.27" width="1" height="17.03"/><rect x="232" y="227.38" width="1" height="19.92" fill-opacity="0.22"/><rect x="232" y="228.06" width="1" height="19.24" fill-opacity="0.27"/><rect x="232" y="229.30" width="1" height="18.00" fill-opacity="0.03"/><rect x="232" y="229.62" width="1" height="17.68" fill-opacity="0.39"/><rect x="232" y="230.27" width="1" height="17.03" fill-opacity="0.36"/><rect x="232" y="231.00" width="1" height="16.30"/><rect x="233" y="222.93" width="1" height="24.37" fill-opacity="0.22"/><rect x="233" y="225.50" width="1" height="21.80" fill-opacity="0.27"/><rect x="233" y="227.01" width="1" height="20.29" fill-opacity="0.38"/><rect x="233" y="227.32" width="1" height="19.98" fill-opacity="0.45"/><rect x="233" y="229.30" width="1" height="18.00"/><rect x="234" y="227.32" width="1" height="19.98" fill-opacity="0.06"/><rect x="234" y="227.79" width="1" height="19.51" fill-opacity="0.23"/><rect x="234" y="228.13" width="1" height="19.17" fill-opacity="0.11"/><rect x="234" y="228.30" width="1" height="19.00" fill-opacity="0.33"/><rect x="234" y="229.33" width="1" height="17.97" fill-opacity="0.50"/><rect x="234" y="230.34" width="1" height="16.96"/><rect x="235" y="228.13" width="1" height="19.17" fill-opacity="0.13"/><rect x="235" y="228.73" width="1" height="18.57" fill-opacity="0.25"/><rect x="235" y="228.94" width="1" height="18.36" fill-opacity="0.33"/><rect x="235" y="229.07" width="1" height="18.23" fill-opacity="0.49"/><rect x="235" y="229.46" width="1" height="17.84" fill-opacity="0.97"/><rect x="235" y="230.41" width="1" height="16.89"/><rect x="236" y="228.98" width="1" height="18.32" fill-opacity="0.15"/><rect x="236" y="229.80" width="1" height="17.50" fill-opacity="0.25"/><rect x="236" y="230.41" width="1" height="16.89" fill-opacity="0.33"/><rect x="236" y="230.51" width="1" height="16.79" fill-opacity="0.50"/><rect x="236" y="231.58" width="1" height="15.72"/><rect x="237" y="225.88" width="1" height="21.42" fill-opacity="0.07"/><rect x="237" y="226.34" width="1" height="20.96" fill-opacity="0.23"/><rect x="237" y="228.64" width="1" height="18.66" fill-opacity="0.30"/><rect x="237" y="228.98" width="1" height="18.32" fill-opacity="0.14"/><rect x="237" y="229.27" width="1" height="18.03" fill-opacity="0.50"/><rect x="237" y="229.49" width="1" height="17.81"/><rect x="238" y="225.88" width="1" height="21.42" fill-opacity="0.15"/><rect x="238" y="227.25" width="1" height="20.05" fill-opacity="0.24"/><rect x="238" y="229.25" width="1" height="18.05" fill-opacity="0.33"/><rect x="238" y="229.52" width="1" height="17.78" fill-opacity="0.50"/><rect x="238" y="229.77" width="1" height="17.53"/><rect x="239" y="227.25" width="1" height="20.05" fill-opacity="0.01"/><rect x="239" y="227.34" width="1" height="19.96" fill-opacity="0.22"/><rect x="239" y="227.44" width="1" height="19.86" fill-opacity="0.28"/><rect x="239" y="227.49" width="1" height="19.81" fill-opacity="0.38"/><rect x="239" y="227.67" width="1" height="19.63" fill-opacity="0.62"/><rect x="239" y="229.13" width="1" height="18.17"/><rect x="240" y="225.50" width="1" height="21.80" fill-opacity="0.06"/><rect x="240" y="227.23" width="1" height="20.07" fill-opacity="0.23"/><rect x="240" y="227.35" width="1" height="19.95" fill-opacity="0.30"/><rect x="240" y="227.81" width="1" height="19.49" fill-opacity="0.42"/><rect x="240" y="229.13" width="1" height="18.17" fill-opacity="0.28"/><rect x="240" y="229.34" width="1" height="17.96"/><rect x="241" y="224.59" width="1" height="22.71" fill-opacity="0.22"/><rect x="241" y="225.50" width="1" height="21.80" fill-opacity="0.20"/><rect x="241" y="226.05" width="1" height="21.25" fill-opacity="0.34"/><rect x="241" y="226.10" width="1" height="21.20" fill-opacity="0.47"/><rect x="241" y="227.21" width="1" height="20.09"/><rect x="242" y="226.10" width="1" height="21.20" fill-opacity="0.02"/><rect x="242" y="227.13" width="1" height="20.17" fill-opacity="0.22"/><rect x="242" y="227.32" width="1" height="19.98" fill-opacity="0.28"/><rect x="242" y="227.42" width="1" height="19.88" fill-opacity="0.39"/><rect x="242" y="227.61" width="1" height="19.69" fill-opacity="0.65"/><rect x="242" y="231.55" width="1" height="15.75"/><rect x="243" y="227.56" width="1" height="19.74" fill-opacity="0.22"/><rect x="243" y="228.90" width="1" height="18.40" fill-opacity="0.05"/><rect x="243" y="229.49" width="1" height="17.81" fill-opacity="0.29"/><rect x="243" y="230.33" width="1" height="16.97" fill-opacity="0.41"/><rect x="243" y="231.42" width="1" height="15.88" fill-opacity="0.69"/><rect x="243" y="231.55" width="1" height="15.75"/><rect x="244" y="226.71" width="1" height="20.59" fill-opacity="0.22"/><rect x="244" y="228.90" width="1" height="18.40" fill-opacity="0.22"/><rect x="244" y="229.04" width="1" height="18.26" fill-opacity="0.30"/><rect x="244" y="229.88" width="1" height="17.42" fill-opacity="0.50"/><rect x="244" y="230.59" width="1" height="16.71"/><rect x="245" y="228.04" width="1" height="19.26" fill-opacity="0.22"/><rect x="245" y="228.55" width="1" height="18.75" fill-opacity="0.27"/><rect x="245" y="229.04" width="1" height="18.26" fill-opacity="0.06"/><rect x="245" y="229.20" width="1" height="18.10" fill-opacity="0.40"/><rect x="245" y="229.30" width="1" height="18.00" fill-opacity="0.33"/><rect x="245" y="230.08" width="1" height="17.22"/><rect x="246" y="227.62" width="1" height="19.68" fill-opacity="0.22"/><rect x="246" y="228.48" width="1" height="18.82" fill-opacity="0.27"/><rect x="246" y="228.61" width="1" height="18.69" fill-opacity="0.38"/><rect x="246" y="229.30" width="1" height="18.00" fill-opacity="0.31"/><rect x="246" y="229.98" width="1" height="17.32" fill-opacity="0.88"/><rect x="246" y="230.07" width="1" height="17.23"/><rect x="247" y="228.36" width="1" height="18.94" fill-opacity="0.22"/><rect x="247" y="229.09" width="1" height="18.21" fill-opacity="0.27"/><rect x="247" y="229.51" width="1" height="17.79" fill-opacity="0.38"/><rect x="247" y="229.53" width="1" height="17.77" fill-opacity="0.47"/><rect x="247" y="230.07" width="1" height="17.23"/><rect x="248" y="226.46" width="1" height="20.84" fill-opacity="0.22"/><rect x="248" y="227.36" width="1" height="19.94" fill-opacity="0.12"/><rect x="248" y="228.77" width="1" height="18.53" fill-opacity="0.31"/><rect x="248" y="229.24" width="1" height="18.06" fill-opacity="0.45"/><rect x="248" y="229.27" width="1" height="18.03" fill-opacity="0.82"/><rect x="248" y="229.53" width="1" height="17.77"/><rect x="249" y="225.05" width="1" height="22.25" fill-opacity="0.22"/><rect x="249" y="227.36" width="1" height="19.94" fill-opacity="0.16"/><rect x="249" y="227.36" width="1" height="19.94" fill-opacity="0.33"/><rect x="249" y="229.64" width="1" height="17.66" fill-opacity="0.48"/><rect x="249" y="230.02" width="1" height="17.28" fill-opacity="0.06"/><rect x="249" y="231.23" width="1" height="16.07"/><rect x="250" y="225.94" width="1" height="21.36" fill-opacity="0.15"/><rect x="250" y="228.37" width="1" height="18.93" fill-opacity="0.25"/><rect x="250" y="230.02" width="1" height="17.28" fill-opacity="0.32"/><rect x="250" y="230.51" width="1" height="16.79" fill-opacity="0.50"/><rect x="250" y="231.85" width="1" height="15.45"/><rect x="251" y="225.56" width="1" height="21.74" fill-opacity="0.22"/><rect x="251" y="225.63" width="1" height="21.67" fill-opacity="0.27"/><rect x="251" y="225.94" width="1" height="21.36" fill-opacity="0.11"/><rect x="251" y="227.77" width="1" height="19.53" fill-opacity="0.42"/><rect x="251" y="228.08" width="1" height="19.22" fill-opacity="0.73"/><rect x="251" y="228.16" width="1" height="19.14"/><rect x="252" y="225.31" width="1" height="21.99" fill-opacity="0.22"/><rect x="252" y="225.52" width="1" height="21.78" fill-opacity="0.27"/><rect x="252" y="226.46" width="1" height="20.84" fill-opacity="0.00"/><rect x="252" y="226.95" width="1" height="20.35" fill-opacity="0.38"/><rect x="252" y="228.16" width="1" height="19.14" fill-opacity="0.39"/><rect x="252" y="230.17" width="1" height="17.13"/><rect x="253" y="223.28" width="1" height="24.02" fill-opacity="0.22"/><rect x="253" y="223.37" width="1" height="23.93" fill-opacity="0.18"/><rect x="253" y="225.81" width="1" height="21.49" fill-opacity="0.33"/><rect x="253" y="226.34" width="1" height="20.96" fill-opacity="0.50"/><rect x="253" y="226.46" width="1" height="20.84"/><rect x="254" y="223.37" width="1" height="23.93" fill-opacity="0.07"/><rect x="254" y="223.68" width="1" height="23.62" fill-opacity="0.23"/><rect x="254" y="226.51" width="1" height="20.79" fill-opacity="0.30"/><rect x="254" y="226.63" width="1" height="20.67" fill-opacity="0.44"/><rect x="254" y="227.66" width="1" height="19.64" fill-opacity="0.77"/><rect x="254" y="228.51" width="1" height="18.79"/><rect x="255" y="227.54" width="1" height="19.76" fill-opacity="0.22"/><rect x="255" y="227.93" width="1" height="19.37" fill-opacity="0.27"/><rect x="255" y="228.19" width="1" height="19.11" fill-opacity="0.38"/><rect x="255" y="228.51" width="1" height="18.79" fill-opacity="0.43"/><rect x="255" y="229.04" width="1" height="18.26"/><rect x="256" y="229.04" width="1" height="18.26" fill-opacity="0.01"/><rect x="256" y="229.23" width="1" height="18.07" fill-opacity="0.22"/><rect x="256" y="229.35" width="1" height="17.95" fill-opacity="0.28"/><rect x="256" y="229.74" width="1" height="17.56" fill-opacity="0.39"/><rect x="256" y="230.82" width="1" height="16.48" fill-opacity="0.37"/><rect x="256" y="231.16" width="1" height="16.14"/><rect x="257" y="230.13" width="1" height="17.17" fill-opacity="0.22"/><rect x="257" y="230.82" width="1" height="16.48" fill-opacity="0.11"/><rect x="257" y="230.97" width="1" height="16.33" fill-opacity="0.31"/><rect x="257" y="231.85" width="1" height="15.45" fill-opacity="0.11"/><rect x="257" y="232.20" width="1" height="15.10" fill-opacity="0.50"/><rect x="257" y="233.16" width="1" height="14.14"/><rect x="258" y="223.97" width="1" height="23.33" fill-opacity="0.19"/><rect x="258" y="226.94" width="1" height="20.36" fill-opacity="0.27"/><rect x="258" y="228.10" width="1" height="19.20" fill-opacity="0.36"/><rect x="258" y="230.62" width="1" height="16.68" fill-opacity="0.57"/><rect x="258" y="231.85" width="1" height="15.45"/><rect x="259" y="223.79" width="1" height="23.51" fill-opacity="0.22"/><rect x="259" y="223.97" width="1" height="23.33" fill-opacity="0.03"/><rect x="259" y="225.79" width="1" height="21.51" fill-opacity="0.28"/><rect x="259" y="227.50" width="1" height="19.80" fill-opacity="0.40"/><rect x="259" y="227.55" width="1" height="19.75" fill-opacity="0.66"/><rect x="259" y="229.14" width="1" height="18.16"/><rect x="260" y="226.52" width="1" height="20.78" fill-opacity="0.04"/><rect x="260" y="227.75" width="1" height="19.55" fill-opacity="0.22"/><rect x="260" y="229.14" width="1" height="18.16" fill-opacity="0.14"/><rect x="260" y="230.35" width="1" height="16.95" fill-opacity="0.33"/><rect x="260" y="231.18" width="1" height="16.12" fill-opacity="0.50"/><rect x="260" y="231.64" width="1" height="15.66"/><rect x="261" y="225.56" width="1" height="21.74" fill-opacity="0.22"/><rect x="261" y="225.93" width="1" height="21.37" fill-opacity="0.27"/><rect x="261" y="226.52" width="1" height="20.78" fill-opacity="0.31"/><rect x="261" y="227.92" width="1" height="19.38" fill-opacity="0.45"/><rect x="261" y="228.00" width="1" height="19.30"/><rect x="262" y="226.22" width="1" height="21.08" fill-opacity="0.22"/><rect x="262" y="226.51" width="1" height="20.79" fill-opacity="0.27"/><rect x="262" y="226.79" width="1" height="20.51" fill-opacity="0.38"/><rect x="262" y="227.16" width="1" height="20.14" fill-opacity="0.61"/><rect x="262" y="227.92" width="1" height="19.38" fill-opacity="0.28"/><rect x="262" y="228.96" width="1" height="18.34"/><rect x="263" y="227.36" width="1" height="19.94" fill-opacity="0.02"/><rect x="263" y="228.96" width="1" height="18.34" fill-opacity="0.12"/><rect x="263" y="229.26" width="1" height="18.04" fill-opacity="0.25"/><rect x="263" y="229.49" width="1" height="17.81" fill-opacity="0.33"/><rect x="263" y="229.65" width="1" height="17.65" fill-opacity="0.50"/><rect x="263" y="231.93" width="1" height="15.37"/><rect x="264" y="227.36" width="1" height="19.94" fill-opacity="0.19"/><rect x="264" y="227.66" width="1" height="19.64" fill-opacity="0.27"/><rect x="264" y="227.69" width="1" height="19.61" fill-opacity="0.36"/><rect x="264" y="228.18" width="1" height="19.12" fill-opacity="0.43"/><rect x="264" y="228.87" width="1" height="18.43"/><rect x="265" y="226.64" width="1" height="20.66" fill-opacity="0.22"/><rect x="265" y="226.70" width="1" height="20.60" fill-opacity="0.27"/><rect x="265" y="227.80" width="1" height="19.50" fill-opacity="0.38"/><rect x="265" y="228.18" width="1" height="19.12" fill-opacity="0.15"/><rect x="265" y="228.29" width="1" height="19.01" fill-opacity="0.71"/><rect x="265" y="228.69" width="1" height="18.61"/><rect x="266" y="228.57" width="1" height="18.73" fill-opacity="0.22"/><rect x="266" y="228.69" width="1" height="18.61" fill-opacity="0.16"/><rect x="266" y="229.28" width="1" height="18.02" fill-opacity="0.33"/><rect x="266" y="229.99" width="1" height="17.31" fill-opacity="0.02"/><rect x="266" y="230.02" width="1" height="17.28" fill-opacity="0.50"/><rect x="266" y="230.74" width="1" height="16.56"/><rect x="267" y="226.85" width="1" height="20.45" fill-opacity="0.22"/><rect x="267" y="227.04" width="1" height="20.26" fill-opacity="0.27"/><rect x="267" y="229.18" width="1" height="18.12" fill-opacity="0.26"/><rect x="267" y="229.99" width="1" height="17.31" fill-opacity="0.49"/><rect x="267" y="230.80" width="1" height="16.50"/><rect x="268" y="227.04" width="1" height="20.26" fill-opacity="0.22"/><rect x="268" y="227.18" width="1" height="20.12" fill-opacity="0.27"/><rect x="268" y="228.55" width="1" height="18.75" fill-opacity="0.38"/><rect x="268" y="228.95" width="1" height="18.35" fill-opacity="0.61"/><rect x="268" y="229.05" width="1" height="18.25" fill-opacity="0.52"/><rect x="268" y="229.18" width="1" height="18.12"/><rect x="269" y="225.39" width="1" height="21.91" fill-opacity="0.21"/><rect x="269" y="226.94" width="1" height="20.36" fill-opacity="0.27"/><rect x="269" y="227.92" width="1" height="19.38" fill-opacity="0.38"/><rect x="269" y="229.05" width="1" height="18.25" fill-opacity="0.40"/><rect x="269" y="229.40" width="1" height="17.90"/><rect x="270" y="225.39" width="1" height="21.91" fill-opacity="0.00"/><rect x="270" y="227.60" width="1" height="19.70" fill-opacity="0.22"/><rect x="270" y="227.76" width="1" height="19.54" fill-opacity="0.28"/><rect x="270" y="228.71" width="1" height="18.59" fill-opacity="0.38"/><rect x="270" y="229.43" width="1" height="17.87" fill-opacity="0.39"/><rect x="270" y="230.38" width="1" height="16.92"/><rect x="271" y="226.01" width="1" height="21.29" fill-opacity="0.06"/><rect x="271" y="226.11" width="1" height="21.19" fill-opacity="0.23"/><rect x="271" y="227.90" width="1" height="19.40" fill-opacity="0.30"/><rect x="271" y="228.92" width="1" height="18.38" fill-opacity="0.42"/><rect x="271" y="229.43" width="1" height="17.87" fill-opacity="0.27"/><rect x="271" y="230.17" width="1" height="17.13"/><rect x="272" y="226.01" width="1" height="21.29" fill-opacity="0.16"/><rect x="272" y="227.16" width="1" height="20.14" fill-opacity="0.24"/><rect x="272" y="229.01" width="1" height="18.29" fill-opacity="0.33"/><rect x="272" y="229.28" width="1" height="18.02" fill-opacity="0.50"/><rect x="272" y="230.01" width="1" height="17.29"/><rect x="273" y="227.16" width="1" height="20.14" fill-opacity="0.02"/><rect x="273" y="227.67" width="1" height="19.63" fill-opacity="0.22"/><rect x="273" y="227.73" width="1" height="19.57" fill-opacity="0.16"/><rect x="273" y="227.77" width="1" height="19.53" fill-opacity="0.33"/><rect x="273" y="229.37" width="1" height="17.93" fill-opacity="0.50"/><rect x="273" y="229.45" width="1" height="17.85"/><rect x="274" y="227.65" width="1" height="19.65" fill-opacity="0.22"/><rect x="274" y="227.73" width="1" height="19.57" fill-opacity="0.12"/><rect x="274" y="228.46" width="1" height="18.84" fill-opacity="0.31"/><rect x="274" y="228.49" width="1" height="18.81" fill-opacity="0.45"/><rect x="274" y="229.07" width="1" height="18.23" fill-opacity="0.82"/><rect x="274" y="229.14" width="1" height="18.16"/><rect x="275" y="228.76" width="1" height="18.54" fill-opacity="0.22"/><rect x="275" y="228.87" width="1" height="18.43" fill-opacity="0.24"/><rect x="275" y="229.14" width="1" height="18.16" fill-opacity="0.28"/><rect x="275" y="230.27" width="1" height="17.03" fill-opacity="0.50"/><rect x="275" y="230.97" width="1" height="16.33"/><rect x="276" y="228.87" width="1" height="18.43" fill-opacity="0.03"/><rect x="276" y="230.25" width="1" height="17.05" fill-opacity="0.22"/><rect x="276" y="230.35" width="1" height="16.95" fill-opacity="0.29"/><rect x="276" y="230.70" width="1" height="16.60" fill-opacity="0.20"/><rect x="276" y="231.42" width="1" height="15.88" fill-opacity="0.50"/><rect x="276" y="232.05" width="1" height="15.25"/><rect x="277" y="228.65" width="1" height="18.65" fill-opacity="0.22"/><rect x="277" y="229.33" width="1" height="17.97" fill-opacity="0.04"/><rect x="277" y="230.14" width="1" height="17.16" fill-opacity="0.29"/><rect x="277" y="230.17" width="1" height="17.13" fill-opacity="0.40"/><rect x="277" y="230.70" width="1" height="16.60" fill-opacity="0.33"/><rect x="277" y="231.04" width="1" height="16.26"/><rect x="278" y="226.45" width="1" height="20.85" fill-opacity="0.22"/><rect x="278" y="226.95" width="1" height="20.35" fill-opacity="0.22"/><rect x="278" y="228.22" width="1" height="19.08" fill-opacity="0.35"/><rect x="278" y="229.25" width="1" height="18.05" fill-opacity="0.54"/><rect x="278" y="229.33" width="1" height="17.97"/><rect x="279" y="224.34" width="1" height="22.96" fill-opacity="0.22"/><rect x="279" y="224.84" width="1" height="22.46" fill-opacity="0.27"/><rect x="279" y="225.09" width="1" height="22.21" fill-opacity="0.38"/><rect x="279" y="225.67" width="1" height="21.63" fill-opacity="0.27"/><rect x="279" y="226.17" width="1" height="21.13" fill-opacity="0.83"/><rect x="279" y="226.95" width="1" height="20.35"/><rect x="280" y="224.02" width="1" height="23.28" fill-opacity="0.22"/><rect x="280" y="225.67" width="1" height="21.63" fill-opacity="0.15"/><rect x="280" y="226.04" width="1" height="21.26" fill-opacity="0.32"/><rect x="280" y="226.46" width="1" height="20.84" fill-opacity="0.48"/><rect x="280" y="227.47" width="1" height="19.83" fill-opacity="0.92"/><rect x="280" y="228.98" width="1" height="18.32"/><rect x="281" y="224.21" width="1" height="23.09" fill-opacity="0.16"/><rect x="281" y="224.59" width="1" height="22.71" fill-opacity="0.26"/><rect x="281" y="226.88" width="1" height="20.42" fill-opacity="0.34"/><rect x="281" y="228.81" width="1" height="18.49" fill-opacity="0.52"/><rect x="281" y="228.98" width="1" height="18.32"/><rect x="282" y="224.21" width="1" height="23.09" fill-opacity="0.06"/><rect x="282" y="224.53" width="1" height="22.77" fill-opacity="0.23"/><rect x="282" y="225.50" width="1" height="21.80" fill-opacity="0.30"/><rect x="282" y="226.78" width="1" height="20.52" fill-opacity="0.42"/><rect x="282" y="226.91" width="1" height="20.39" fill-opacity="0.73"/><rect x="282" y="228.60" width="1" height="18.70"/><rect x="283" y="225.59" width="1" height="21.71" fill-opacity="0.22"/><rect x="283" y="226.01" width="1" height="21.29" fill-opacity="0.27"/><rect x="283" y="227.40" width="1" height="19.90" fill-opacity="0.01"/><rect x="283" y="228.60" width="1" height="18.70" fill-opacity="0.24"/><rect x="283" y="229.72" width="1" height="17.58" fill-opacity="0.50"/><rect x="283" y="231.51" width="1" height="15.79"/><rect x="284" y="225.36" width="1" height="21.94" fill-opacity="0.22"/><rect x="284" y="225.65" width="1" height="21.65" fill-opacity="0.18"/><rect x="284" y="227.15" width="1" height="20.15" fill-opacity="0.34"/><rect x="284" y="227.40" width="1" height="19.90" fill-opacity="0.49"/><rect x="284" y="228.07" width="1" height="19.23"/><rect x="285" y="214.10" width="1" height="33.20" fill-opacity="0.22"/><rect x="285" y="215.51" width="1" height="31.79" fill-opacity="0.27"/><rect x="285" y="216.93" width="1" height="30.37" fill-opacity="0.38"/><rect x="285" y="221.93" width="1" height="25.37" fill-opacity="0.19"/><rect x="285" y="223.05" width="1" height="24.25" fill-opacity="0.75"/><rect x="285" y="225.65" width="1" height="21.65"/><rect x="286" y="221.93" width="1" height="25.37" fill-opacity="0.15"/><rect x="286" y="224.02" width="1" height="23.28" fill-opacity="0.25"/><rect x="286" y="224.51" width="1" height="22.79" fill-opacity="0.32"/><rect x="286" y="225.08" width="1" height="22.22" fill-opacity="0.50"/><rect x="286" y="225.49" width="1" height="21.81"/><rect x="287" y="223.46" width="1" height="23.84" fill-opacity="0.22"/><rect x="287" y="224.24" width="1" height="23.06" fill-opacity="0.27"/><rect x="287" y="224.51" width="1" height="22.79" fill-opacity="0.01"/><rect x="287" y="224.98" width="1" height="22.32" fill-opacity="0.38"/><rect x="287" y="226.13" width="1" height="21.17" fill-opacity="0.38"/><rect x="287" y="226.58" width="1" height="20.72"/><rect x="288" y="224.80" width="1" height="22.50" fill-opacity="0.22"/><rect x="288" y="225.53" width="1" height="21.77" fill-opacity="0.27"/><rect x="288" y="225.54" width="1" height="21.76" fill-opacity="0.38"/><rect x="288" y="225.86" width="1" height="21.44" fill-opacity="0.15"/><rect x="288" y="226.04" width="1" height="21.26" fill-opacity="0.72"/><rect x="288" y="226.13" width="1" height="21.17"/><rect x="289" y="225.86" width="1" height="21.44" fill-opacity="0.16"/><rect x="289" y="228.84" width="1" height="18.46" fill-opacity="0.26"/><rect x="289" y="229.00" width="1" height="18.30" fill-opacity="0.34"/><rect x="289" y="229.43" width="1" height="17.87" fill-opacity="0.53"/><rect x="289" y="230.39" width="1" height="16.91"/><rect x="290" y="221.27" width="1" height="26.03" fill-opacity="0.12"/><rect x="290" y="223.05" width="1" height="24.25" fill-opacity="0.24"/><rect x="290" y="224.75" width="1" height="22.55" fill-opacity="0.32"/><rect x="290" y="227.28" width="1" height="20.02" fill-opacity="0.48"/><rect x="290" y="228.68" width="1" height="18.62" fill-opacity="0.91"/><rect x="290" y="230.39" width="1" height="16.91"/><rect x="291" y="221.27" width="1" height="26.03" fill-opacity="0.10"/><rect x="291" y="223.45" width="1" height="23.85" fill-opacity="0.24"/><rect x="291" y="223.76" width="1" height="23.54" fill-opacity="0.31"/><rect x="291" y="223.83" width="1" height="23.47" fill-opacity="0.46"/><rect x="291" y="225.46" width="1" height="21.84" fill-opacity="0.16"/><rect x="291" y="226.18" width="1" height="21.12"/><rect x="292" y="224.61" width="1" height="22.69" fill-opacity="0.22"/><rect x="292" y="225.46" width="1" height="21.84" fill-opacity="0.22"/><rect x="292" y="226.09" width="1" height="21.21" fill-opacity="0.29"/><rect x="292" y="226.40" width="1" height="20.90" fill-opacity="0.50"/><rect x="292" y="226.96" width="1" height="20.34"/><rect x="293" y="225.47" width="1" height="21.83" fill-opacity="0.10"/><rect x="293" y="225.77" width="1" height="21.53" fill-opacity="0.24"/><rect x="293" y="226.09" width="1" height="21.21" fill-opacity="0.05"/><rect x="293" y="226.62" width="1" height="20.68" fill-opacity="0.33"/><rect x="293" y="228.15" width="1" height="19.15" fill-opacity="0.50"/><rect x="293" y="228.47" width="1" height="18.83"/><rect x="294" y="210.98" width="1" height="36.32" fill-opacity="0.22"/><rect x="294" y="212.40" width="1" height="34.90" fill-opacity="0.27"/><rect x="294" y="223.97" width="1" height="23.33" fill-opacity="0.38"/><rect x="294" y="225.47" width="1" height="21.83" fill-opacity="0.31"/><rect x="294" y="225.65" width="1" height="21.65" fill-opacity="0.11"/><rect x="294" y="225.74" width="1" height="21.56"/><rect x="295" y="223.58" width="1" height="23.72" fill-opacity="0.17"/><rect x="295" y="225.65" width="1" height="21.65" fill-opacity="0.23"/><rect x="295" y="225.89" width="1" height="21.41" fill-opacity="0.33"/><rect x="295" y="226.67" width="1" height="20.63" fill-opacity="0.50"/><rect x="295" y="227.23" width="1" height="20.07"/><rect x="296" y="211.98" width="1" height="35.32" fill-opacity="0.09"/><rect x="296" y="221.66" width="1" height="25.64" fill-opacity="0.24"/><rect x="296" y="222.08" width="1" height="25.22" fill-opacity="0.31"/><rect x="296" y="222.41" width="1" height="24.89" fill-opacity="0.45"/><rect x="296" y="223.33" width="1" height="23.97" fill-opacity="0.82"/><rect x="296" y="223.58" width="1" height="23.72"/><rect x="297" y="211.98" width="1" height="35.32" fill-opacity="0.12"/><rect x="297" y="213.39" width="1" height="33.91" fill-opacity="0.25"/><rect x="297" y="222.25" width="1" height="25.05" fill-opacity="0.33"/><rect x="297" y="222.53" width="1" height="24.77" fill-opacity="0.48"/><rect x="297" y="223.31" width="1" height="23.99" fill-opacity="0.06"/><rect x="297" y="224.29" width="1" height="23.01"/><rect x="298" y="221.03" width="1" height="26.27" fill-opacity="0.22"/><rect x="298" y="221.18" width="1" height="26.12" fill-opacity="0.27"/><rect x="298" y="222.30" width="1" height="25.00" fill-opacity="0.38"/><rect x="298" y="223.31" width="1" height="23.99" fill-opacity="0.57"/><rect x="298" y="224.48" width="1" height="22.82"/><rect x="299" y="222.70" width="1" height="24.60" fill-opacity="0.22"/><rect x="299" y="224.28" width="1" height="23.02" fill-opacity="0.27"/><rect x="299" y="224.48" width="1" height="22.82" fill-opacity="0.11"/><rect x="299" y="224.80" width="1" height="22.50" fill-opacity="0.15"/><rect x="299" y="226.11" width="1" height="21.19" fill-opacity="0.50"/><rect x="299" y="226.77" width="1" height="20.53"/><rect x="300" y="223.39" width="1" height="23.91" fill-opacity="0.00"/><rect x="300" y="223.82" width="1" height="23.48" fill-opacity="0.22"/><rect x="300" y="224.80" width="1" height="22.50" fill-opacity="0.18"/><rect x="300" y="224.88" width="1" height="22.42" fill-opacity="0.33"/><rect x="300" y="226.49" width="1" height="20.81" fill-opacity="0.50"/><rect x="300" y="226.98" width="1" height="20.32"/><rect x="301" y="161.04" width="1" height="86.26" fill-opacity="0.22"/><rect x="301" y="210.56" width="1" height="36.74" fill-opacity="0.18"/><rect x="301" y="223.39" width="1" height="23.91" fill-opacity="0.33"/><rect x="301" y="224.98" width="1" height="22.32" fill-opacity="0.50"/><rect x="301" y="225.04" width="1" height="22.26"/><rect x="302" y="210.56" width="1" height="36.74" fill-opacity="0.08"/><rect x="302" y="211.98" width="1" height="35.32" fill-opacity="0.23"/><rect x="302" y="213.39" width="1" height="33.91" fill-opacity="0.30"/><rect x="302" y="222.97" width="1" height="24.33" fill-opacity="0.44"/><rect x="302" y="223.20" width="1" height="24.10" fill-opacity="0.77"/><rect x="302" y="223.71" width="1" height="23.59"/><rect x="303" y="223.71" width="1" height="23.59" fill-opacity="0.15"/><rect x="303" y="224.67" width="1" height="22.63" fill-opacity="0.25"/><rect x="303" y="224.98" width="1" height="22.32" fill-opacity="0.34"/><rect x="303" y="225.14" width="1" height="22.16" fill-opacity="0.52"/><rect x="303" y="225.43" width="1" height="21.87"/><rect x="304" y="223.30" width="1" height="24.00" fill-opacity="0.13"/><rect x="304" y="224.05" width="1" height="23.25" fill-opacity="0.25"/><rect x="304" y="224.53" width="1" height="22.77" fill-opacity="0.33"/><rect x="304" y="224.94" width="1" height="22.36" fill-opacity="0.49"/><rect x="304" y="225.43" width="1" height="21.87" fill-opacity="0.06"/><rect x="304" y="226.97" width="1" height="20.33"/><rect x="305" y="223.30" width="1" height="24.00" fill-opacity="0.09"/><rect x="305" y="227.10" width="1" height="20.20" fill-opacity="0.24"/><rect x="305" y="229.14" width="1" height="18.16" fill-opacity="0.07"/><rect x="305" y="229.78" width="1" height="17.52" fill-opacity="0.33"/><rect x="305" y="230.16" width="1" height="17.14" fill-opacity="0.50"/><rect x="305" y="231.30" width="1" height="16.00"/><rect x="306" y="225.27" width="1" height="22.03" fill-opacity="0.22"/><rect x="306" y="226.97" width="1" height="20.33" fill-opacity="0.27"/><rect x="306" y="229.14" width="1" height="18.16" fill-opacity="0.29"/><rect x="306" y="229.26" width="1" height="18.04" fill-opacity="0.53"/><rect x="306" y="229.63" width="1" height="17.67"/><rect x="307" y="224.22" width="1" height="23.08" fill-opacity="0.22"/><rect x="307" y="224.52" width="1" height="22.78" fill-opacity="0.27"/><rect x="307" y="225.00" width="1" height="22.30" fill-opacity="0.38"/><rect x="307" y="227.40" width="1" height="19.90" fill-opacity="0.32"/><rect x="307" y="227.80" width="1" height="19.50" fill-opacity="0.89"/><rect x="307" y="229.63" width="1" height="17.67"/><rect x="308" y="227.40" width="1" height="19.90" fill-opacity="0.10"/><rect x="308" y="228.04" width="1" height="19.26" fill-opacity="0.04"/><rect x="308" y="228.43" width="1" height="18.87" fill-opacity="0.25"/><rect x="308" y="229.04" width="1" height="18.26" fill-opacity="0.33"/><rect x="308" y="229.17" width="1" height="18.13" fill-opacity="0.50"/><rect x="308" y="229.46" width="1" height="17.84"/><rect x="309" y="214.81" width="1" height="32.50" fill-opacity="0.22"/><rect x="309" y="216.22" width="1" height="31.08" fill-opacity="0.22"/><rect x="309" y="224.59" width="1" height="22.71" fill-opacity="0.35"/><rect x="309" y="226.44" width="1" height="20.86" fill-opacity="0.55"/><rect x="309" y="228.04" width="1" height="19.26"/><rect x="310" y="216.22" width="1" height="31.08" fill-opacity="0.04"/><rect x="310" y="217.64" width="1" height="29.66" fill-opacity="0.22"/></g>
<rect x="33.50" y="4.50" width="297.00" height="105.90" fill="none" stroke="#333333" stroke-width="1.3"/><path d="M33.50 101.20h-4.3M330.50 101.20h-3.6M33.50 81.86h-4.3M330.50 81.86h-3.6M33.50 62.52h-4.3M330.50 62.52h-3.6M33.50 43.18h-4.3M330.50 43.18h-3.6M33.50 23.84h-4.3M330.50 23.84h-3.6M33.50 4.50h-4.3M330.50 4.50h-3.6M33.50 110.87h-2.3M330.50 110.87h-2M33.50 91.53h-2.3M330.50 91.53h-2M33.50 72.19h-2.3M330.50 72.19h-2M33.50 52.85h-2.3M330.50 52.85h-2M33.50 33.51h-2.3M330.50 33.51h-2M33.50 14.17h-2.3M330.50 14.17h-2M54.00 110.40v4.3M54.00 4.50v3.8M97.05 110.40v4.3M97.05 4.50v3.8M140.10 110.40v4.3M140.10 4.50v3.8M183.15 110.40v4.3M183.15 4.50v3.8M226.20 110.40v4.3M226.20 4.50v3.8M269.25 110.40v4.3M269.25 4.50v3.8M312.30 110.40v4.3M312.30 4.50v3.8M75.53 110.40v2.3M75.53 4.50v2M118.58 110.40v2.3M118.58 4.50v2M161.62 110.40v2.3M161.62 4.50v2M204.68 110.40v2.3M204.68 4.50v2M247.72 110.40v2.3M247.72 4.50v2M290.77 110.40v2.3M290.77 4.50v2" stroke="#333333" stroke-width="1.2" fill="none"/>
<rect x="33.50" y="141.30" width="297.00" height="106.00" fill="none" stroke="#333333" stroke-width="1.3"/><path d="M33.50 247.35h-4.3M330.50 247.35h-3.6M33.50 233.20h-4.3M330.50 233.20h-3.6M33.50 219.05h-4.3M330.50 219.05h-3.6M33.50 204.90h-4.3M330.50 204.90h-3.6M33.50 190.75h-4.3M330.50 190.75h-3.6M33.50 176.60h-4.3M330.50 176.60h-3.6M33.50 162.45h-4.3M330.50 162.45h-3.6M33.50 148.30h-4.3M330.50 148.30h-3.6M33.50 240.28h-2.3M330.50 240.28h-2M33.50 226.12h-2.3M330.50 226.12h-2M33.50 211.98h-2.3M330.50 211.98h-2M33.50 197.83h-2.3M330.50 197.83h-2M33.50 183.68h-2.3M330.50 183.68h-2M33.50 169.53h-2.3M330.50 169.53h-2M33.50 155.38h-2.3M330.50 155.38h-2M54.00 247.30v4.3M54.00 141.30v3.8M97.05 247.30v4.3M97.05 141.30v3.8M140.10 247.30v4.3M140.10 141.30v3.8M183.15 247.30v4.3M183.15 141.30v3.8M226.20 247.30v4.3M226.20 141.30v3.8M269.25 247.30v4.3M269.25 141.30v3.8M312.30 247.30v4.3M312.30 141.30v3.8M75.53 247.30v2.3M75.53 141.30v2M118.58 247.30v2.3M118.58 141.30v2M161.62 247.30v2.3M161.62 141.30v2M204.68 247.30v2.3M204.68 141.30v2M247.72 247.30v2.3M247.72 141.30v2M290.77 247.30v2.3M290.77 141.30v2" stroke="#333333" stroke-width="1.2" fill="none"/>
<rect x="375.30" y="3.40" width="302.10" height="242.50" fill="none" stroke="#333333" stroke-width="1.3"/><path d="M375.30 245.90h-4.3M677.40 245.90h-3.6M375.30 213.56h-4.3M677.40 213.56h-3.6M375.30 181.22h-4.3M677.40 181.22h-3.6M375.30 148.88h-4.3M677.40 148.88h-3.6M375.30 116.54h-4.3M677.40 116.54h-3.6M375.30 84.20h-4.3M677.40 84.20h-3.6M375.30 51.86h-4.3M677.40 51.86h-3.6M375.30 19.52h-4.3M677.40 19.52h-3.6M375.30 229.73h-2.3M677.40 229.73h-2M375.30 197.39h-2.3M677.40 197.39h-2M375.30 165.05h-2.3M677.40 165.05h-2M375.30 132.71h-2.3M677.40 132.71h-2M375.30 100.37h-2.3M677.40 100.37h-2M375.30 68.03h-2.3M677.40 68.03h-2M375.30 35.69h-2.3M677.40 35.69h-2M402.76 245.90v4.3M402.76 3.40v3.8M457.70 245.90v4.3M457.70 3.40v3.8M512.62 245.90v4.3M512.62 3.40v3.8M567.55 245.90v4.3M567.55 3.40v3.8M622.48 245.90v4.3M622.48 3.40v3.8M677.41 245.90v4.3M677.41 3.40v3.8M375.30 245.90v2.3M375.30 3.40v2M430.23 245.90v2.3M430.23 3.40v2M485.16 245.90v2.3M485.16 3.40v2M540.09 245.90v2.3M540.09 3.40v2M595.02 245.90v2.3M595.02 3.40v2M649.95 245.90v2.3M649.95 3.40v2" stroke="#333333" stroke-width="1.2" fill="none"/>
<text x="26.2" y="104.45" text-anchor="end" font-size="10.2">0.3</text><text x="26.2" y="85.11" text-anchor="end" font-size="10.2">0.4</text><text x="26.2" y="65.77" text-anchor="end" font-size="10.2">0.5</text><text x="26.2" y="46.43" text-anchor="end" font-size="10.2">0.6</text><text x="26.2" y="27.09" text-anchor="end" font-size="10.2">0.7</text><text x="26.2" y="7.75" text-anchor="end" font-size="10.2">0.8</text><text x="26.2" y="250.60" text-anchor="end" font-size="10.2">0.1</text><text x="26.2" y="236.45" text-anchor="end" font-size="10.2">0.2</text><text x="26.2" y="222.30" text-anchor="end" font-size="10.2">0.3</text><text x="26.2" y="208.15" text-anchor="end" font-size="10.2">0.4</text><text x="26.2" y="194.00" text-anchor="end" font-size="10.2">0.5</text><text x="26.2" y="179.85" text-anchor="end" font-size="10.2">0.6</text><text x="26.2" y="165.70" text-anchor="end" font-size="10.2">0.7</text><text x="26.2" y="151.55" text-anchor="end" font-size="10.2">0.8</text><text x="367" y="249.80" text-anchor="end" font-size="11.5">0.1</text><text x="367" y="217.46" text-anchor="end" font-size="11.5">0.2</text><text x="367" y="185.12" text-anchor="end" font-size="11.5">0.3</text><text x="367" y="152.78" text-anchor="end" font-size="11.5">0.4</text><text x="367" y="120.44" text-anchor="end" font-size="11.5">0.5</text><text x="367" y="88.10" text-anchor="end" font-size="11.5">0.6</text><text x="367" y="55.76" text-anchor="end" font-size="11.5">0.7</text><text x="367" y="23.42" text-anchor="end" font-size="11.5">0.8</text><text x="402.76" y="263" text-anchor="middle" font-size="11.5">0.3</text><text x="457.70" y="263" text-anchor="middle" font-size="11.5">0.4</text><text x="512.62" y="263" text-anchor="middle" font-size="11.5">0.5</text><text x="567.55" y="263" text-anchor="middle" font-size="11.5">0.6</text><text x="622.48" y="263" text-anchor="middle" font-size="11.5">0.7</text><text x="677.41" y="263" text-anchor="middle" font-size="11.5">0.8</text>
<text x="182" y="123" text-anchor="middle" font-size="11.8">n</text>
<text x="182" y="259.6" text-anchor="middle" font-size="11.8">n</text>
<text transform="translate(8.9 57.5) rotate(-90)" text-anchor="middle" font-size="11.3">RSR</text>
<text transform="translate(8.9 195) rotate(-90)" text-anchor="middle" font-size="12.2">C(TOPSIS)</text>
<text transform="translate(352 124.5) rotate(-90)" text-anchor="middle" font-size="12.4">C(TOPSIS)</text>
<text x="526.3" y="278.7" text-anchor="middle" font-size="13">RSR</text>
<text x="300.6" y="27" font-size="18.3" font-weight="bold">a)</text>
<text x="301.8" y="174.3" font-size="18.3" font-weight="bold">b)</text>
<text x="644.6" y="27" font-size="18.3" font-weight="bold">c)</text>
<rect x="246.3" y="8.9" width="24.8" height="12.3" fill="url(#g)"/>
<text x="274.2" y="19.1" font-size="11.4">RSR</text>
<rect x="246.3" y="146.2" width="24.8" height="11.3" fill="url(#g)"/>
<text x="274.2" y="155.4" font-size="11">C(TOPSIS)</text>
<g stroke="#0000ff" stroke-opacity="0.3" stroke-width="1" fill="none"><path d="M552.2 29.7h7M555.7 26.2v7"/><path d="M553.2 55.9h7M556.7 52.4v7"/><path d="M565.0 62.8h7M568.5 59.3v7"/><path d="M583.7 45.1h7M587.2 41.6v7"/><path d="M593.5 48.4h7M597.0 44.9v7"/><path d="M647.8 47.1h7M651.3 43.6v7"/><path d="M490.0 103.5h7M493.5 100.0v7"/><path d="M560.5 121.4h7M564.0 117.9v7"/><path d="M594.3 126.1h7M597.8 122.6v7"/><path d="M548.9 148.2h7M552.4 144.7v7"/><path d="M554.1 146.7h7M557.6 143.2v7"/><path d="M593.2 145.4h7M596.7 141.9v7"/><path d="M517.2 149.5h7M520.7 146.0v7"/><path d="M524.2 147.2h7M527.7 143.7v7"/><path d="M527.7 146.6h7M531.2 143.1v7"/><path d="M531.2 149.3h7M534.7 145.8v7"/><path d="M419.6 182.4h7M423.1 178.9v7"/><path d="M429.8 177.1h7M433.3 173.6v7"/><path d="M444.9 176.4h7M448.4 172.9v7"/><path d="M450.3 179.6h7M453.8 176.1v7"/><path d="M452.4 181.3h7M455.9 177.8v7"/><path d="M456.2 181.8h7M459.7 178.3v7"/><path d="M464.7 179.6h7M468.2 176.1v7"/><path d="M468.5 174.8h7M472.0 171.3v7"/><path d="M471.2 174.8h7M474.7 171.3v7"/><path d="M474.4 178.6h7M477.9 175.1v7"/><path d="M476.5 180.7h7M480.0 177.2v7"/><path d="M478.7 172.1h7M482.2 168.6v7"/><path d="M480.3 174.8h7M483.8 171.3v7"/><path d="M484.0 175.4h7M487.5 171.9v7"/><path d="M485.1 180.2h7M488.6 176.7v7"/><path d="M487.2 173.2h7M490.7 169.7v7"/><path d="M477.2 169.3h7M480.7 165.8v7"/><path d="M487.2 168.6h7M490.7 165.1v7"/><path d="M494.4 172.1h7M497.9 168.6v7"/><path d="M499.4 176.4h7M502.9 172.9v7"/><path d="M502.2 168.6h7M505.7 165.1v7"/><path d="M504.4 168.6h7M507.9 165.1v7"/><path d="M505.8 170.0h7M509.3 166.5v7"/><path d="M501.5 179.3h7M505.0 175.8v7"/><path d="M505.1 180.7h7M508.6 177.2v7"/><path d="M505.1 184.3h7M508.6 180.8v7"/><path d="M510.1 185.7h7M513.6 182.2v7"/><path d="M512.9 166.4h7M516.4 162.9v7"/><path d="M515.1 166.4h7M518.6 162.9v7"/><path d="M514.4 177.1h7M517.9 173.6v7"/><path d="M516.5 182.1h7M520.0 178.6v7"/><path d="M521.5 170.0h7M525.0 166.5v7"/><path d="M524.4 162.9h7M527.9 159.4v7"/><path d="M524.4 173.6h7M527.9 170.1v7"/><path d="M526.5 176.4h7M530.0 172.9v7"/><path d="M526.5 180.0h7M530.0 176.5v7"/><path d="M530.1 166.4h7M533.6 162.9v7"/><path d="M532.2 166.4h7M535.7 162.9v7"/><path d="M532.9 172.9h7M536.4 169.4v7"/><path d="M537.2 164.3h7M540.7 160.8v7"/><path d="M538.6 175.7h7M542.1 172.2v7"/><path d="M540.1 165.7h7M543.6 162.2v7"/><path d="M542.9 165.7h7M546.4 162.2v7"/><path d="M545.1 162.1h7M548.6 158.6v7"/><path d="M547.2 160.7h7M550.7 157.2v7"/><path d="M546.5 169.3h7M550.0 165.8v7"/><path d="M543.6 178.6h7M547.1 175.1v7"/><path d="M538.5 186.4h7M542.0 182.9v7"/><path d="M552.9 167.1h7M556.4 163.6v7"/><path d="M557.2 164.3h7M560.7 160.8v7"/><path d="M558.6 160.7h7M562.1 157.2v7"/><path d="M557.9 169.3h7M561.4 165.8v7"/><path d="M561.5 172.9h7M565.0 169.4v7"/><path d="M565.1 164.3h7M568.6 160.8v7"/><path d="M566.5 163.6h7M570.0 160.1v7"/><path d="M567.9 172.9h7M571.4 169.4v7"/><path d="M565.1 176.4h7M568.6 172.9v7"/><path d="M570.8 165.0h7M574.3 161.5v7"/><path d="M574.4 165.7h7M577.9 162.2v7"/><path d="M577.2 162.9h7M580.7 159.4v7"/><path d="M576.5 178.6h7M580.0 175.1v7"/><path d="M573.6 175.0h7M577.1 171.5v7"/><path d="M581.5 168.6h7M585.0 165.1v7"/><path d="M589.4 164.3h7M592.9 160.8v7"/><path d="M590.1 172.9h7M593.6 169.4v7"/><path d="M597.9 167.9h7M601.4 164.4v7"/><path d="M600.1 166.4h7M603.6 162.9v7"/><path d="M605.8 167.1h7M609.3 163.6v7"/><path d="M607.9 164.3h7M611.4 160.8v7"/><path d="M564.4 182.9h7M567.9 179.4v7"/><path d="M563.5 187.0h7M567.0 183.5v7"/><path d="M606.0 167.0h7M609.5 163.5v7"/><path d="M610.4 163.4h7M613.9 159.9v7"/><path d="M603.3 166.0h7M606.8 162.5v7"/><path d="M619.4 184.8h7M622.9 181.3v7"/><path d="M622.9 190.2h7M626.4 186.7v7"/><path d="M628.3 183.9h7M631.8 180.4v7"/><path d="M635.4 193.8h7M638.9 190.2v7"/><path d="M604.2 190.2h7M607.7 186.7v7"/><path d="M608.6 191.0h7M612.1 187.5v7"/><path d="M612.2 192.0h7M615.7 188.5v7"/><path d="M606.9 198.2h7M610.4 194.7v7"/><path d="M602.4 179.5h7M605.9 176.0v7"/><path d="M594.5 193.0h7M598.0 189.5v7"/><path d="M603.5 189.0h7M607.0 185.5v7"/><path d="M607.2 199.0h7M610.7 195.5v7"/><path d="M612.5 192.0h7M616.0 188.5v7"/><path d="M619.5 185.7h7M623.0 182.2v7"/><path d="M623.3 190.0h7M626.8 186.5v7"/><path d="M628.5 184.0h7M632.0 180.5v7"/><path d="M635.5 194.0h7M639.0 190.5v7"/><path d="M399.0 210.0h7M402.5 206.5v7"/><path d="M404.0 211.9h7M407.5 208.4v7"/><path d="M410.2 210.6h7M413.8 207.1v7"/><path d="M414.6 201.9h7M418.1 198.4v7"/><path d="M415.2 203.8h7M418.8 200.2v7"/><path d="M418.4 211.2h7M421.9 207.8v7"/><path d="M421.5 218.1h7M425.0 214.6v7"/><path d="M422.8 205.0h7M426.2 201.5v7"/><path d="M425.2 200.0h7M428.8 196.5v7"/><path d="M426.5 206.2h7M430.0 202.8v7"/><path d="M429.0 210.6h7M432.5 207.1v7"/><path d="M431.5 201.2h7M435.0 197.8v7"/><path d="M433.4 217.5h7M436.9 214.0v7"/><path d="M432.8 206.9h7M436.2 203.4v7"/><path d="M435.2 208.8h7M438.8 205.2v7"/><path d="M471.7 192.0h7M475.2 188.5v7"/><path d="M485.1 187.7h7M488.6 184.2v7"/><path d="M481.9 190.4h7M485.4 186.9v7"/><path d="M508.5 168.0h7M512.0 164.5v7"/><path d="M519.5 166.0h7M523.0 162.5v7"/><path d="M534.5 170.0h7M538.0 166.5v7"/><path d="M496.5 167.0h7M500.0 163.5v7"/><path d="M491.5 178.0h7M495.0 174.5v7"/><path d="M549.5 174.0h7M553.0 170.5v7"/><path d="M553.5 176.0h7M557.0 172.5v7"/><path d="M582.5 163.0h7M586.0 159.5v7"/><path d="M585.5 171.0h7M589.0 167.5v7"/><path d="M594.5 169.0h7M598.0 165.5v7"/><path d="M508.6 171.6h7M512.1 168.1v7"/><path d="M534.6 166.0h7M538.1 162.5v7"/><path d="M509.6 165.9h7M513.1 162.4v7"/><path d="M505.4 167.3h7M508.9 163.8v7"/><path d="M553.7 162.0h7M557.2 158.5v7"/><path d="M521.8 167.2h7M525.3 163.7v7"/><path d="M538.0 167.1h7M541.5 163.6v7"/><path d="M509.1 168.9h7M512.6 165.4v7"/><path d="M538.4 166.9h7M541.9 163.4v7"/><path d="M546.4 169.6h7M549.9 166.1v7"/><path d="M555.5 163.0h7M559.0 159.5v7"/><path d="M532.0 165.5h7M535.5 162.0v7"/><path d="M520.9 165.1h7M524.4 161.6v7"/><path d="M514.4 163.9h7M517.9 160.4v7"/><path d="M549.2 167.6h7M552.7 164.1v7"/><path d="M527.2 166.8h7M530.7 163.3v7"/><path d="M506.1 168.7h7M509.6 165.2v7"/><path d="M525.1 166.6h7M528.6 163.1v7"/><path d="M538.5 170.6h7M542.0 167.1v7"/><path d="M551.1 165.1h7M554.6 161.6v7"/><path d="M503.3 168.2h7M506.8 164.7v7"/><path d="M520.5 163.6h7M524.0 160.1v7"/><path d="M542.8 164.2h7M546.3 160.7v7"/><path d="M532.6 165.7h7M536.1 162.2v7"/><path d="M529.4 164.4h7M532.9 160.9v7"/><path d="M534.8 166.7h7M538.3 163.2v7"/><path d="M527.5 166.1h7M531.0 162.6v7"/><path d="M541.7 163.5h7M545.2 160.0v7"/><path d="M532.1 166.4h7M535.6 162.9v7"/><path d="M528.1 166.0h7M531.6 162.5v7"/><path d="M416.3 205.5h7M419.8 202.0v7"/><path d="M426.0 208.0h7M429.5 204.5v7"/><path d="M432.0 203.0h7M435.5 199.5v7"/><path d="M417.1 206.2h7M420.6 202.7v7"/><path d="M435.4 205.1h7M438.9 201.6v7"/><path d="M433.4 202.7h7M436.9 199.2v7"/><path d="M417.8 209.4h7M421.3 205.9v7"/><path d="M422.2 203.0h7M425.7 199.5v7"/><path d="M426.6 214.5h7M430.1 211.0v7"/><path d="M420.5 206.5h7M424.0 203.0v7"/><path d="M421.4 212.6h7M424.9 209.1v7"/><path d="M436.4 212.3h7M439.9 208.8v7"/><path d="M425.3 202.6h7M428.8 199.1v7"/><path d="M432.1 208.7h7M435.6 205.2v7"/><path d="M417.2 207.7h7M420.7 204.2v7"/><path d="M421.1 199.9h7M424.6 196.4v7"/><path d="M432.0 209.8h7M435.5 206.3v7"/><path d="M430.3 200.9h7M433.8 197.4v7"/><path d="M432.9 210.5h7M436.4 207.0v7"/><path d="M419.0 208.7h7M422.5 205.2v7"/><path d="M418.9 211.7h7M422.4 208.2v7"/><path d="M433.0 206.1h7M436.5 202.6v7"/><path d="M432.4 208.3h7M435.9 204.8v7"/><path d="M423.6 210.2h7M427.1 206.7v7"/><path d="M437.7 207.7h7M441.2 204.2v7"/><path d="M443.9 199.5h7M447.4 196.0v7"/><path d="M438.4 196.0h7M441.9 192.5v7"/><path d="M455.5 207.7h7M459.0 204.2v7"/><path d="M451.4 198.9h7M454.9 195.4v7"/><path d="M454.7 209.7h7M458.2 206.2v7"/><path d="M437.8 203.8h7M441.3 200.3v7"/><path d="M453.1 207.0h7M456.6 203.5v7"/><path d="M446.3 205.2h7M449.8 201.7v7"/><path d="M447.1 206.0h7M450.6 202.5v7"/><path d="M446.0 208.4h7M449.5 204.9v7"/><path d="M463.7 215.7h7M467.2 212.2v7"/><path d="M439.2 202.7h7M442.7 199.2v7"/><path d="M465.2 200.2h7M468.7 196.7v7"/><path d="M457.4 198.4h7M460.9 194.9v7"/><path d="M460.5 199.7h7M464.0 196.2v7"/><path d="M440.9 210.3h7M444.4 206.8v7"/><path d="M438.1 209.4h7M441.6 205.9v7"/><path d="M457.9 208.0h7M461.4 204.5v7"/><path d="M459.2 203.7h7M462.7 200.2v7"/><path d="M460.0 214.9h7M463.5 211.4v7"/><path d="M440.7 205.5h7M444.2 202.0v7"/><path d="M451.4 202.7h7M454.9 199.2v7"/><path d="M454.6 209.2h7M458.1 205.7v7"/><path d="M443.7 202.5h7M447.2 199.0v7"/><path d="M447.2 195.1h7M450.7 191.6v7"/><path d="M445.2 204.3h7M448.7 200.8v7"/><path d="M448.9 203.0h7M452.4 199.5v7"/><path d="M456.6 204.2h7M460.1 200.7v7"/><path d="M444.3 214.1h7M447.8 210.6v7"/><path d="M439.5 200.9h7M443.0 197.4v7"/><path d="M452.9 204.9h7M456.4 201.4v7"/><path d="M441.2 203.4h7M444.7 199.9v7"/><path d="M459.9 203.4h7M463.4 199.9v7"/><path d="M463.4 204.2h7M466.9 200.7v7"/><path d="M445.5 207.1h7M449.0 203.6v7"/><path d="M446.7 204.1h7M450.2 200.6v7"/><path d="M462.6 201.7h7M466.1 198.2v7"/><path d="M458.7 200.5h7M462.2 197.0v7"/><path d="M459.8 208.8h7M463.3 205.3v7"/><path d="M453.4 208.5h7M456.9 205.0v7"/><path d="M453.1 208.5h7M456.6 205.0v7"/><path d="M457.5 209.6h7M461.0 206.1v7"/><path d="M451.3 205.5h7M454.8 202.0v7"/><path d="M439.8 206.7h7M443.3 203.2v7"/><path d="M447.6 196.8h7M451.1 193.3v7"/><path d="M455.0 202.9h7M458.5 199.4v7"/><path d="M449.3 213.4h7M452.8 209.9v7"/><path d="M440.7 201.5h7M444.2 198.0v7"/><path d="M448.9 204.6h7M452.4 201.1v7"/><path d="M451.4 205.3h7M454.9 201.8v7"/><path d="M451.8 203.9h7M455.3 200.4v7"/><path d="M437.0 203.7h7M440.5 200.2v7"/><path d="M450.3 201.7h7M453.8 198.2v7"/><path d="M437.9 212.6h7M441.4 209.1v7"/><path d="M452.5 196.9h7M456.0 193.4v7"/><path d="M449.0 208.6h7M452.5 205.1v7"/><path d="M457.8 207.5h7M461.3 204.0v7"/><path d="M445.2 205.8h7M448.7 202.3v7"/><path d="M462.3 203.8h7M465.8 200.3v7"/><path d="M449.6 209.5h7M453.1 206.0v7"/><path d="M458.5 212.9h7M462.0 209.4v7"/><path d="M439.0 202.5h7M442.5 199.0v7"/><path d="M447.4 206.2h7M450.9 202.7v7"/><path d="M438.7 208.2h7M442.2 204.7v7"/><path d="M443.1 205.7h7M446.6 202.2v7"/><path d="M458.5 207.3h7M462.0 203.8v7"/><path d="M437.5 204.0h7M441.0 200.5v7"/><path d="M450.0 213.5h7M453.5 210.0v7"/><path d="M462.9 205.8h7M466.4 202.3v7"/><path d="M448.7 200.9h7M452.2 197.4v7"/><path d="M447.5 208.2h7M451.0 204.7v7"/><path d="M453.7 200.7h7M457.2 197.2v7"/><path d="M456.3 199.9h7M459.8 196.4v7"/><path d="M463.8 200.8h7M467.3 197.3v7"/><path d="M440.1 202.6h7M443.6 199.1v7"/><path d="M462.4 215.4h7M465.9 211.9v7"/><path d="M454.2 202.3h7M457.7 198.8v7"/><path d="M447.7 204.1h7M451.2 200.6v7"/><path d="M445.3 198.3h7M448.8 194.8v7"/><path d="M446.3 203.6h7M449.8 200.1v7"/><path d="M451.5 211.9h7M455.0 208.4v7"/><path d="M465.3 201.4h7M468.8 197.9v7"/><path d="M451.1 202.6h7M454.6 199.1v7"/><path d="M464.4 214.4h7M467.9 210.9v7"/><path d="M446.5 204.8h7M450.0 201.3v7"/><path d="M454.2 204.6h7M457.7 201.1v7"/><path d="M440.4 204.3h7M443.9 200.8v7"/><path d="M448.2 199.9h7M451.7 196.4v7"/><path d="M452.0 204.1h7M455.5 200.6v7"/><path d="M463.7 210.1h7M467.2 206.6v7"/><path d="M460.3 197.0h7M463.8 193.5v7"/><path d="M452.2 207.1h7M455.7 203.6v7"/><path d="M448.5 208.5h7M452.0 205.0v7"/><path d="M460.3 208.4h7M463.8 204.9v7"/><path d="M437.5 215.1h7M441.0 211.6v7"/><path d="M457.9 207.8h7M461.4 204.3v7"/><path d="M447.4 207.2h7M450.9 203.7v7"/><path d="M441.4 205.8h7M444.9 202.3v7"/><path d="M454.2 203.4h7M457.7 199.9v7"/><path d="M462.3 211.4h7M465.8 207.9v7"/><path d="M459.9 206.6h7M463.4 203.1v7"/><path d="M437.4 216.3h7M440.9 212.8v7"/><path d="M443.3 204.1h7M446.8 200.6v7"/><path d="M440.4 198.2h7M443.9 194.7v7"/><path d="M453.3 204.6h7M456.8 201.1v7"/><path d="M447.5 210.0h7M451.0 206.5v7"/><path d="M453.8 205.7h7M457.3 202.2v7"/><path d="M448.0 201.7h7M451.5 198.2v7"/><path d="M448.1 209.9h7M451.6 206.4v7"/><path d="M453.1 191.9h7M456.6 188.4v7"/><path d="M496.7 211.2h7M500.2 207.7v7"/><path d="M486.8 204.7h7M490.3 201.2v7"/><path d="M472.3 203.3h7M475.8 199.8v7"/><path d="M489.8 197.4h7M493.3 193.9v7"/><path d="M492.3 200.1h7M495.8 196.6v7"/><path d="M469.4 201.5h7M472.9 198.0v7"/><path d="M471.7 200.6h7M475.2 197.1v7"/><path d="M487.8 196.3h7M491.3 192.8v7"/><path d="M482.1 202.0h7M485.6 198.5v7"/><path d="M467.5 205.2h7M471.0 201.7v7"/><path d="M466.8 213.9h7M470.3 210.4v7"/><path d="M487.7 199.0h7M491.2 195.5v7"/><path d="M474.9 198.3h7M478.4 194.8v7"/><path d="M474.2 201.0h7M477.7 197.5v7"/><path d="M473.3 203.4h7M476.8 199.9v7"/><path d="M491.9 194.6h7M495.4 191.1v7"/><path d="M497.3 194.8h7M500.8 191.3v7"/><path d="M475.3 210.8h7M478.8 207.3v7"/><path d="M475.3 202.2h7M478.8 198.7v7"/><path d="M468.6 203.4h7M472.1 199.9v7"/><path d="M466.0 209.0h7M469.5 205.5v7"/><path d="M495.2 202.3h7M498.7 198.8v7"/><path d="M474.1 200.6h7M477.6 197.1v7"/><path d="M494.3 199.4h7M497.8 195.9v7"/><path d="M477.6 199.2h7M481.1 195.7v7"/><path d="M491.3 203.0h7M494.8 199.5v7"/><path d="M471.1 195.9h7M474.6 192.4v7"/><path d="M490.2 197.2h7M493.7 193.7v7"/><path d="M494.7 202.8h7M498.2 199.3v7"/><path d="M479.1 201.5h7M482.6 198.0v7"/><path d="M494.5 198.2h7M498.0 194.7v7"/><path d="M484.2 203.8h7M487.7 200.3v7"/><path d="M477.9 195.9h7M481.4 192.4v7"/><path d="M484.1 199.8h7M487.6 196.3v7"/><path d="M488.5 199.5h7M492.0 196.0v7"/><path d="M493.1 199.3h7M496.6 195.8v7"/><path d="M477.5 200.8h7M481.0 197.3v7"/><path d="M478.2 200.6h7M481.7 197.1v7"/><path d="M468.2 200.8h7M471.7 197.3v7"/><path d="M482.2 204.9h7M485.7 201.4v7"/><path d="M494.1 201.5h7M497.6 198.0v7"/><path d="M485.5 201.6h7M489.0 198.1v7"/><path d="M470.2 197.1h7M473.7 193.6v7"/><path d="M483.4 196.7h7M486.9 193.2v7"/><path d="M471.3 203.1h7M474.8 199.6v7"/><path d="M475.8 203.4h7M479.3 199.9v7"/><path d="M485.2 201.0h7M488.7 197.5v7"/><path d="M475.9 202.4h7M479.4 198.9v7"/><path d="M477.4 201.5h7M480.9 198.0v7"/><path d="M480.4 206.8h7M483.9 203.3v7"/><path d="M473.7 202.8h7M477.2 199.3v7"/><path d="M496.6 197.5h7M500.1 194.0v7"/><path d="M493.8 206.4h7M497.3 202.9v7"/><path d="M497.5 203.0h7M501.0 199.5v7"/><path d="M496.2 201.2h7M499.7 197.7v7"/><path d="M483.9 196.5h7M487.4 193.0v7"/><path d="M489.0 204.0h7M492.5 200.5v7"/><path d="M486.1 207.2h7M489.6 203.7v7"/><path d="M465.9 199.5h7M469.4 196.0v7"/><path d="M480.8 203.5h7M484.3 200.0v7"/><path d="M473.9 198.4h7M477.4 194.9v7"/><path d="M497.7 202.1h7M501.2 198.6v7"/><path d="M497.0 198.7h7M500.5 195.2v7"/><path d="M470.6 203.9h7M474.1 200.4v7"/><path d="M477.1 195.6h7M480.6 192.1v7"/><path d="M470.1 203.5h7M473.6 200.0v7"/><path d="M495.9 207.8h7M499.4 204.3v7"/><path d="M485.8 205.5h7M489.3 202.0v7"/><path d="M489.7 198.3h7M493.2 194.8v7"/><path d="M477.8 202.9h7M481.3 199.4v7"/><path d="M468.4 200.2h7M471.9 196.7v7"/><path d="M472.5 205.4h7M476.0 201.9v7"/><path d="M475.9 199.5h7M479.4 196.0v7"/><path d="M476.1 198.6h7M479.6 195.1v7"/><path d="M492.6 199.9h7M496.1 196.4v7"/><path d="M465.4 200.1h7M468.9 196.6v7"/><path d="M493.7 200.3h7M497.2 196.8v7"/><path d="M489.2 205.9h7M492.7 202.4v7"/><path d="M472.4 204.2h7M475.9 200.7v7"/><path d="M473.2 202.9h7M476.7 199.4v7"/><path d="M487.6 200.0h7M491.1 196.5v7"/><path d="M473.4 198.4h7M476.9 194.9v7"/><path d="M466.7 201.7h7M470.2 198.2v7"/><path d="M497.5 201.6h7M501.0 198.1v7"/><path d="M484.4 200.7h7M487.9 197.2v7"/><path d="M494.9 205.4h7M498.4 201.9v7"/><path d="M497.5 197.5h7M501.0 194.0v7"/><path d="M470.4 201.8h7M473.9 198.3v7"/><path d="M484.7 205.4h7M488.2 201.9v7"/><path d="M487.3 199.9h7M490.8 196.4v7"/><path d="M486.2 204.2h7M489.7 200.7v7"/><path d="M487.3 198.2h7M490.8 194.7v7"/><path d="M482.0 197.7h7M485.5 194.2v7"/><path d="M469.8 203.2h7M473.3 199.7v7"/><path d="M479.6 202.1h7M483.1 198.6v7"/><path d="M475.8 207.1h7M479.3 203.6v7"/><path d="M488.6 204.2h7M492.1 200.7v7"/><path d="M497.2 207.0h7M500.7 203.5v7"/><path d="M468.5 200.6h7M472.0 197.1v7"/><path d="M496.6 196.3h7M500.1 192.8v7"/><path d="M475.4 208.4h7M478.9 204.9v7"/><path d="M480.0 203.7h7M483.5 200.2v7"/><path d="M480.6 197.5h7M484.1 194.0v7"/><path d="M474.2 202.5h7M477.7 199.0v7"/><path d="M474.7 206.1h7M478.2 202.6v7"/><path d="M476.7 205.6h7M480.2 202.1v7"/><path d="M470.4 201.4h7M473.9 197.9v7"/><path d="M495.7 196.3h7M499.2 192.8v7"/><path d="M493.0 202.9h7M496.5 199.4v7"/><path d="M494.5 205.9h7M498.0 202.4v7"/><path d="M471.1 198.8h7M474.6 195.3v7"/><path d="M497.8 196.2h7M501.3 192.7v7"/><path d="M490.0 201.8h7M493.5 198.3v7"/><path d="M497.7 201.8h7M501.2 198.3v7"/><path d="M469.9 197.6h7M473.4 194.1v7"/><path d="M478.2 204.4h7M481.7 200.9v7"/><path d="M481.7 199.4h7M485.2 195.9v7"/><path d="M465.8 202.6h7M469.3 199.1v7"/><path d="M484.8 207.7h7M488.3 204.2v7"/><path d="M496.2 199.8h7M499.7 196.3v7"/><path d="M489.4 206.3h7M492.9 202.8v7"/><path d="M467.9 206.5h7M471.4 203.0v7"/><path d="M490.2 205.0h7M493.7 201.5v7"/><path d="M491.2 194.3h7M494.7 190.8v7"/><path d="M465.4 198.2h7M468.9 194.7v7"/><path d="M479.8 206.3h7M483.3 202.8v7"/><path d="M473.8 206.3h7M477.3 202.8v7"/><path d="M476.6 206.7h7M480.1 203.2v7"/><path d="M470.7 200.5h7M474.2 197.0v7"/><path d="M485.2 198.4h7M488.7 194.9v7"/><path d="M469.0 205.9h7M472.5 202.4v7"/><path d="M471.5 209.6h7M475.0 206.1v7"/><path d="M470.5 209.2h7M474.0 205.7v7"/><path d="M472.1 209.5h7M475.6 206.0v7"/><path d="M481.0 200.3h7M484.5 196.8v7"/><path d="M477.2 204.5h7M480.7 201.0v7"/><path d="M468.3 202.5h7M471.8 199.0v7"/><path d="M470.8 200.3h7M474.3 196.8v7"/><path d="M493.9 205.5h7M497.4 202.0v7"/><path d="M471.9 201.3h7M475.4 197.8v7"/><path d="M467.4 196.7h7M470.9 193.2v7"/><path d="M477.2 205.9h7M480.7 202.4v7"/><path d="M467.9 202.7h7M471.4 199.2v7"/><path d="M487.8 195.4h7M491.3 191.9v7"/><path d="M482.2 200.5h7M485.7 197.0v7"/><path d="M468.9 197.9h7M472.4 194.4v7"/><path d="M483.8 207.0h7M487.3 203.5v7"/><path d="M497.5 196.0h7M501.0 192.5v7"/><path d="M484.5 200.9h7M488.0 197.4v7"/><path d="M488.2 201.9h7M491.7 198.4v7"/><path d="M485.0 195.1h7M488.5 191.6v7"/><path d="M477.0 202.6h7M480.5 199.1v7"/><path d="M465.5 198.5h7M469.0 195.0v7"/><path d="M488.8 201.3h7M492.3 197.8v7"/><path d="M474.7 200.3h7M478.2 196.8v7"/><path d="M471.0 204.5h7M474.5 201.0v7"/><path d="M492.8 202.2h7M496.3 198.7v7"/><path d="M496.0 200.9h7M499.5 197.4v7"/><path d="M488.3 201.3h7M491.8 197.8v7"/><path d="M482.9 192.9h7M486.4 189.4v7"/><path d="M483.0 200.4h7M486.5 196.9v7"/><path d="M476.6 210.3h7M480.1 206.8v7"/><path d="M488.6 205.8h7M492.1 202.3v7"/><path d="M478.6 192.6h7M482.1 189.1v7"/><path d="M474.5 197.7h7M478.0 194.2v7"/><path d="M497.2 194.1h7M500.7 190.6v7"/><path d="M493.9 209.7h7M497.4 206.2v7"/><path d="M472.4 201.9h7M475.9 198.4v7"/><path d="M488.1 196.8h7M491.6 193.3v7"/><path d="M496.7 196.0h7M500.2 192.5v7"/><path d="M489.2 204.1h7M492.7 200.6v7"/><path d="M472.2 199.3h7M475.7 195.8v7"/><path d="M476.0 198.9h7M479.5 195.4v7"/><path d="M466.8 199.9h7M470.3 196.4v7"/><path d="M486.0 203.0h7M489.5 199.5v7"/><path d="M492.9 199.8h7M496.4 196.3v7"/><path d="M493.1 201.8h7M496.6 198.3v7"/><path d="M473.8 199.8h7M477.3 196.3v7"/><path d="M479.9 195.3h7M483.4 191.8v7"/><path d="M478.2 206.5h7M481.7 203.0v7"/><path d="M484.3 195.1h7M487.8 191.6v7"/><path d="M478.0 205.5h7M481.5 202.0v7"/><path d="M481.7 204.4h7M485.2 200.9v7"/><path d="M495.3 194.5h7M498.8 191.0v7"/><path d="M479.5 201.4h7M483.0 197.9v7"/><path d="M495.2 200.8h7M498.7 197.3v7"/><path d="M491.5 197.5h7M495.0 194.0v7"/><path d="M479.6 201.5h7M483.1 198.0v7"/><path d="M473.3 200.9h7M476.8 197.4v7"/><path d="M482.9 193.7h7M486.4 190.2v7"/><path d="M477.6 206.4h7M481.1 202.9v7"/><path d="M487.4 204.7h7M490.9 201.2v7"/><path d="M466.1 201.9h7M469.6 198.4v7"/><path d="M490.5 203.9h7M494.0 200.4v7"/><path d="M482.9 204.0h7M486.4 200.5v7"/><path d="M484.0 204.4h7M487.5 200.9v7"/><path d="M495.1 192.7h7M498.6 189.2v7"/><path d="M483.8 195.8h7M487.3 192.3v7"/><path d="M484.4 202.1h7M487.9 198.6v7"/><path d="M469.1 201.1h7M472.6 197.6v7"/><path d="M470.8 199.0h7M474.3 195.5v7"/><path d="M486.1 196.7h7M489.6 193.2v7"/><path d="M484.6 205.6h7M488.1 202.1v7"/><path d="M468.3 202.3h7M471.8 198.8v7"/><path d="M467.8 204.2h7M471.3 200.7v7"/><path d="M467.8 199.2h7M471.3 195.7v7"/><path d="M468.6 202.6h7M472.1 199.1v7"/><path d="M490.3 201.7h7M493.8 198.2v7"/><path d="M489.6 206.7h7M493.1 203.2v7"/><path d="M474.6 206.0h7M478.1 202.5v7"/><path d="M467.7 205.3h7M471.2 201.8v7"/><path d="M484.4 198.6h7M487.9 195.1v7"/><path d="M467.0 205.7h7M470.5 202.2v7"/><path d="M484.0 203.4h7M487.5 199.9v7"/><path d="M466.9 202.6h7M470.4 199.1v7"/><path d="M474.3 203.7h7M477.8 200.2v7"/><path d="M482.9 200.8h7M486.4 197.3v7"/><path d="M485.0 195.2h7M488.5 191.7v7"/><path d="M472.8 204.7h7M476.3 201.2v7"/><path d="M484.2 200.7h7M487.7 197.2v7"/><path d="M485.9 203.6h7M489.4 200.1v7"/><path d="M476.3 201.5h7M479.8 198.0v7"/><path d="M467.9 206.5h7M471.4 203.0v7"/><path d="M480.1 206.3h7M483.6 202.8v7"/><path d="M483.9 199.6h7M487.4 196.1v7"/><path d="M469.3 200.2h7M472.8 196.7v7"/><path d="M467.2 207.0h7M470.7 203.5v7"/><path d="M467.9 207.6h7M471.4 204.1v7"/><path d="M479.9 207.4h7M483.4 203.9v7"/><path d="M466.3 205.7h7M469.8 202.2v7"/><path d="M472.8 192.9h7M476.3 189.4v7"/><path d="M472.5 207.4h7M476.0 203.9v7"/><path d="M476.8 197.7h7M480.3 194.2v7"/><path d="M480.8 207.6h7M484.3 204.1v7"/><path d="M484.9 197.1h7M488.4 193.6v7"/><path d="M474.0 205.6h7M477.5 202.1v7"/><path d="M473.5 197.8h7M477.0 194.3v7"/><path d="M485.2 202.9h7M488.7 199.4v7"/><path d="M475.4 193.9h7M478.9 190.4v7"/><path d="M484.8 197.8h7M488.3 194.3v7"/><path d="M482.2 199.1h7M485.7 195.6v7"/><path d="M485.7 200.3h7M489.2 196.8v7"/><path d="M476.9 207.3h7M480.4 203.8v7"/><path d="M468.2 204.3h7M471.7 200.8v7"/><path d="M479.6 199.2h7M483.1 195.7v7"/><path d="M478.2 205.7h7M481.7 202.2v7"/><path d="M483.7 202.0h7M487.2 198.5v7"/><path d="M493.7 204.3h7M497.2 200.8v7"/><path d="M477.5 200.2h7M481.0 196.7v7"/><path d="M482.6 193.3h7M486.1 189.8v7"/><path d="M497.4 201.1h7M500.9 197.6v7"/><path d="M514.4 197.0h7M517.9 193.5v7"/><path d="M529.5 199.4h7M533.0 195.9v7"/><path d="M495.9 199.8h7M499.4 196.3v7"/><path d="M514.4 202.9h7M517.9 199.4v7"/><path d="M524.9 194.4h7M528.4 190.9v7"/><path d="M509.7 197.5h7M513.2 194.0v7"/><path d="M519.7 189.0h7M523.2 185.5v7"/><path d="M513.8 195.1h7M517.3 191.6v7"/><path d="M517.7 198.4h7M521.2 194.9v7"/><path d="M519.7 194.6h7M523.2 191.1v7"/><path d="M535.8 195.8h7M539.3 192.3v7"/><path d="M537.4 196.5h7M540.9 193.0v7"/><path d="M527.1 193.7h7M530.6 190.2v7"/><path d="M502.4 206.2h7M505.9 202.7v7"/><path d="M525.0 204.2h7M528.5 200.7v7"/><path d="M510.4 199.1h7M513.9 195.6v7"/><path d="M505.6 195.7h7M509.1 192.2v7"/><path d="M541.9 195.5h7M545.4 192.0v7"/><path d="M510.5 193.9h7M514.0 190.4v7"/><path d="M540.6 195.7h7M544.1 192.2v7"/><path d="M501.7 200.2h7M505.2 196.7v7"/><path d="M507.0 195.8h7M510.5 192.3v7"/><path d="M533.0 195.3h7M536.5 191.8v7"/><path d="M530.9 196.5h7M534.4 193.0v7"/><path d="M509.4 191.5h7M512.9 188.0v7"/><path d="M510.7 198.2h7M514.2 194.7v7"/><path d="M502.9 197.6h7M506.4 194.1v7"/><path d="M496.5 198.9h7M500.0 195.4v7"/><path d="M503.3 205.3h7M506.8 201.8v7"/><path d="M501.4 204.4h7M504.9 200.9v7"/><path d="M507.9 203.7h7M511.4 200.2v7"/><path d="M533.1 197.4h7M536.6 193.9v7"/><path d="M530.0 195.3h7M533.5 191.8v7"/><path d="M520.8 193.2h7M524.3 189.7v7"/><path d="M503.8 207.3h7M507.3 203.8v7"/><path d="M514.5 199.8h7M518.0 196.3v7"/><path d="M498.6 192.5h7M502.1 189.0v7"/><path d="M500.1 191.1h7M503.6 187.6v7"/><path d="M529.6 194.4h7M533.1 190.9v7"/><path d="M527.2 188.9h7M530.7 185.4v7"/><path d="M513.4 200.6h7M516.9 197.1v7"/><path d="M519.2 203.4h7M522.7 199.9v7"/><path d="M528.0 198.0h7M531.5 194.5v7"/><path d="M533.3 195.8h7M536.8 192.3v7"/><path d="M518.2 193.7h7M521.7 190.2v7"/><path d="M522.1 194.9h7M525.6 191.4v7"/><path d="M529.5 196.1h7M533.0 192.6v7"/><path d="M539.5 196.4h7M543.0 192.9v7"/><path d="M514.9 206.7h7M518.4 203.2v7"/><path d="M534.2 196.8h7M537.7 193.3v7"/><path d="M503.9 205.1h7M507.4 201.6v7"/><path d="M529.7 200.6h7M533.2 197.1v7"/><path d="M507.7 201.7h7M511.2 198.2v7"/><path d="M534.8 193.9h7M538.3 190.4v7"/><path d="M521.1 195.5h7M524.6 192.0v7"/><path d="M505.5 199.3h7M509.0 195.8v7"/><path d="M536.7 202.0h7M540.2 198.5v7"/><path d="M527.4 197.3h7M530.9 193.8v7"/><path d="M522.6 193.0h7M526.1 189.5v7"/><path d="M521.7 195.1h7M525.2 191.6v7"/><path d="M518.1 195.9h7M521.6 192.4v7"/><path d="M516.8 200.0h7M520.3 196.5v7"/><path d="M529.1 200.3h7M532.6 196.8v7"/><path d="M531.3 195.9h7M534.8 192.4v7"/><path d="M499.2 195.5h7M502.7 192.0v7"/><path d="M510.5 199.8h7M514.0 196.3v7"/><path d="M510.8 197.2h7M514.3 193.7v7"/><path d="M531.3 192.4h7M534.8 188.9v7"/><path d="M527.6 200.4h7M531.1 196.9v7"/><path d="M535.1 197.9h7M538.6 194.4v7"/><path d="M527.1 203.2h7M530.6 199.7v7"/><path d="M530.5 200.8h7M534.0 197.3v7"/><path d="M530.0 204.4h7M533.5 200.9v7"/><path d="M501.1 200.5h7M504.6 197.0v7"/><path d="M530.8 193.4h7M534.3 189.9v7"/><path d="M537.4 194.9h7M540.9 191.4v7"/><path d="M534.3 196.4h7M537.8 192.9v7"/><path d="M498.1 198.5h7M501.6 195.0v7"/><path d="M520.0 203.4h7M523.5 199.9v7"/><path d="M506.3 203.2h7M509.8 199.7v7"/><path d="M541.6 194.9h7M545.1 191.4v7"/><path d="M514.3 206.2h7M517.8 202.7v7"/><path d="M541.9 198.7h7M545.4 195.2v7"/><path d="M527.7 199.9h7M531.2 196.4v7"/><path d="M514.1 199.5h7M517.6 196.0v7"/><path d="M517.1 201.8h7M520.6 198.3v7"/><path d="M513.7 198.6h7M517.2 195.1v7"/><path d="M525.1 189.7h7M528.6 186.2v7"/><path d="M521.6 197.8h7M525.1 194.3v7"/><path d="M540.3 197.9h7M543.8 194.4v7"/><path d="M497.5 198.3h7M501.0 194.8v7"/><path d="M507.8 198.0h7M511.3 194.5v7"/><path d="M513.4 205.8h7M516.9 202.3v7"/><path d="M512.0 190.7h7M515.5 187.2v7"/><path d="M509.0 199.6h7M512.5 196.1v7"/><path d="M505.5 204.3h7M509.0 200.8v7"/><path d="M515.4 208.9h7M518.9 205.4v7"/><path d="M531.7 194.2h7M535.2 190.7v7"/><path d="M519.2 195.7h7M522.7 192.2v7"/><path d="M507.7 190.8h7M511.2 187.3v7"/><path d="M522.3 203.1h7M525.8 199.6v7"/><path d="M508.2 194.2h7M511.7 190.7v7"/><path d="M507.6 195.7h7M511.1 192.2v7"/><path d="M532.5 201.6h7M536.0 198.1v7"/><path d="M511.7 193.4h7M515.2 189.9v7"/><path d="M535.5 198.6h7M539.0 195.1v7"/><path d="M529.3 201.8h7M532.8 198.3v7"/><path d="M531.9 195.2h7M535.4 191.7v7"/><path d="M514.4 204.1h7M517.9 200.6v7"/><path d="M496.9 200.3h7M500.4 196.8v7"/><path d="M524.9 198.0h7M528.4 194.5v7"/><path d="M519.7 196.2h7M523.2 192.7v7"/><path d="M496.7 199.6h7M500.2 196.1v7"/><path d="M498.1 198.9h7M501.6 195.4v7"/><path d="M513.4 206.6h7M516.9 203.1v7"/><path d="M498.5 201.2h7M502.0 197.7v7"/><path d="M539.2 197.3h7M542.7 193.8v7"/><path d="M507.5 198.7h7M511.0 195.2v7"/><path d="M495.4 202.2h7M498.9 198.7v7"/><path d="M523.5 191.4h7M527.0 187.9v7"/><path d="M523.8 199.3h7M527.3 195.8v7"/><path d="M524.1 196.6h7M527.6 193.1v7"/><path d="M526.0 195.1h7M529.5 191.6v7"/><path d="M505.6 198.6h7M509.1 195.1v7"/><path d="M506.5 203.2h7M510.0 199.7v7"/><path d="M508.4 200.7h7M511.9 197.2v7"/><path d="M532.6 196.2h7M536.1 192.7v7"/><path d="M535.2 199.6h7M538.7 196.1v7"/><path d="M514.9 196.2h7M518.4 192.7v7"/><path d="M521.3 191.2h7M524.8 187.7v7"/><path d="M539.5 195.8h7M543.0 192.3v7"/><path d="M531.3 196.6h7M534.8 193.1v7"/><path d="M504.3 204.7h7M507.8 201.2v7"/><path d="M507.1 200.1h7M510.6 196.6v7"/><path d="M538.2 198.3h7M541.7 194.8v7"/><path d="M518.2 196.0h7M521.7 192.5v7"/><path d="M541.1 198.7h7M544.6 195.2v7"/><path d="M503.9 200.8h7M507.4 197.3v7"/><path d="M508.8 200.6h7M512.3 197.1v7"/><path d="M531.1 193.9h7M534.6 190.4v7"/><path d="M502.0 203.5h7M505.5 200.0v7"/><path d="M510.5 201.6h7M514.0 198.1v7"/><path d="M531.4 201.6h7M534.9 198.1v7"/><path d="M525.2 195.4h7M528.7 191.9v7"/><path d="M536.5 200.2h7M540.0 196.7v7"/><path d="M528.7 197.2h7M532.2 193.7v7"/><path d="M537.8 193.8h7M541.3 190.3v7"/><path d="M502.7 204.7h7M506.2 201.2v7"/><path d="M512.7 197.9h7M516.2 194.4v7"/><path d="M532.9 196.1h7M536.4 192.6v7"/><path d="M527.1 198.9h7M530.6 195.4v7"/><path d="M502.0 196.2h7M505.5 192.7v7"/><path d="M513.8 210.2h7M517.3 206.7v7"/><path d="M525.7 196.6h7M529.2 193.1v7"/><path d="M524.5 195.4h7M528.0 191.9v7"/><path d="M541.9 191.3h7M545.4 187.8v7"/><path d="M535.6 193.6h7M539.1 190.1v7"/><path d="M530.0 194.4h7M533.5 190.9v7"/><path d="M499.1 202.1h7M502.6 198.6v7"/><path d="M538.5 195.2h7M542.0 191.7v7"/><path d="M509.6 199.7h7M513.1 196.2v7"/><path d="M525.0 197.1h7M528.5 193.6v7"/><path d="M532.7 195.3h7M536.2 191.8v7"/><path d="M530.1 198.5h7M533.6 195.0v7"/><path d="M527.6 199.4h7M531.1 195.9v7"/><path d="M524.6 200.6h7M528.1 197.1v7"/><path d="M528.6 197.5h7M532.1 194.0v7"/><path d="M495.7 200.3h7M499.2 196.8v7"/><path d="M524.5 202.0h7M528.0 198.5v7"/><path d="M521.1 203.8h7M524.6 200.3v7"/><path d="M509.1 198.7h7M512.6 195.2v7"/><path d="M506.6 198.8h7M510.1 195.3v7"/><path d="M509.8 203.6h7M513.3 200.1v7"/><path d="M536.7 198.3h7M540.2 194.8v7"/><path d="M501.1 200.7h7M504.6 197.2v7"/><path d="M500.2 195.3h7M503.7 191.8v7"/><path d="M535.3 190.9h7M538.8 187.4v7"/><path d="M518.7 200.7h7M522.2 197.2v7"/><path d="M508.7 192.3h7M512.2 188.8v7"/><path d="M541.0 194.9h7M544.5 191.4v7"/><path d="M520.7 195.0h7M524.2 191.5v7"/><path d="M498.3 194.0h7M501.8 190.5v7"/><path d="M502.6 204.4h7M506.1 200.9v7"/><path d="M530.3 198.9h7M533.8 195.4v7"/><path d="M523.2 196.7h7M526.7 193.2v7"/><path d="M531.0 198.7h7M534.5 195.2v7"/><path d="M527.6 198.7h7M531.1 195.2v7"/><path d="M522.2 204.6h7M525.7 201.1v7"/><path d="M534.3 202.4h7M537.8 198.9v7"/><path d="M531.4 199.7h7M534.9 196.2v7"/><path d="M516.3 202.5h7M519.8 199.0v7"/><path d="M511.3 200.0h7M514.8 196.5v7"/><path d="M516.2 189.8h7M519.7 186.3v7"/><path d="M528.0 200.1h7M531.5 196.6v7"/><path d="M514.5 202.8h7M518.0 199.3v7"/><path d="M541.8 197.4h7M545.3 193.9v7"/><path d="M514.9 204.3h7M518.4 200.8v7"/><path d="M507.1 203.9h7M510.6 200.4v7"/><path d="M530.6 196.2h7M534.1 192.7v7"/><path d="M509.0 197.8h7M512.5 194.3v7"/><path d="M538.3 193.6h7M541.8 190.1v7"/><path d="M538.0 195.5h7M541.5 192.0v7"/><path d="M530.0 198.6h7M533.5 195.1v7"/><path d="M499.1 198.0h7M502.6 194.5v7"/><path d="M506.7 202.8h7M510.2 199.3v7"/><path d="M539.1 193.7h7M542.6 190.2v7"/><path d="M525.0 206.1h7M528.5 202.6v7"/><path d="M526.7 190.3h7M530.2 186.8v7"/><path d="M501.1 202.1h7M504.6 198.6v7"/><path d="M519.0 196.6h7M522.5 193.1v7"/><path d="M509.5 199.2h7M513.0 195.7v7"/><path d="M511.4 196.4h7M514.9 192.9v7"/><path d="M538.8 201.6h7M542.3 198.1v7"/><path d="M513.8 198.0h7M517.3 194.5v7"/><path d="M507.2 197.6h7M510.7 194.1v7"/><path d="M539.6 194.7h7M543.1 191.2v7"/><path d="M502.2 204.9h7M505.7 201.4v7"/><path d="M503.2 194.8h7M506.7 191.3v7"/><path d="M517.9 198.7h7M521.4 195.2v7"/><path d="M513.1 193.8h7M516.6 190.3v7"/><path d="M512.7 197.8h7M516.2 194.3v7"/><path d="M527.5 200.5h7M531.0 197.0v7"/><path d="M497.5 203.4h7M501.0 199.9v7"/><path d="M498.6 200.8h7M502.1 197.3v7"/><path d="M521.0 206.0h7M524.5 202.5v7"/><path d="M504.3 198.6h7M507.8 195.1v7"/><path d="M501.5 201.5h7M505.0 198.0v7"/><path d="M525.9 195.4h7M529.4 191.9v7"/><path d="M522.8 201.1h7M526.3 197.6v7"/><path d="M501.2 201.3h7M504.7 197.8v7"/><path d="M515.1 204.3h7M518.6 200.8v7"/><path d="M495.9 203.7h7M499.4 200.2v7"/><path d="M524.3 198.4h7M527.8 194.9v7"/><path d="M514.2 200.4h7M517.7 196.9v7"/><path d="M511.4 202.6h7M514.9 199.1v7"/><path d="M502.1 202.8h7M505.6 199.3v7"/><path d="M531.6 197.5h7M535.1 194.0v7"/><path d="M517.4 203.8h7M520.9 200.3v7"/><path d="M501.4 194.2h7M504.9 190.7v7"/><path d="M504.7 200.4h7M508.2 196.9v7"/><path d="M514.4 208.4h7M517.9 204.9v7"/><path d="M525.2 193.7h7M528.7 190.2v7"/><path d="M496.8 207.2h7M500.3 203.7v7"/><path d="M539.6 196.4h7M543.1 192.9v7"/><path d="M534.3 193.9h7M537.8 190.4v7"/><path d="M526.8 196.4h7M530.3 192.9v7"/><path d="M529.6 193.6h7M533.1 190.1v7"/><path d="M502.2 196.1h7M505.7 192.6v7"/><path d="M516.0 199.8h7M519.5 196.3v7"/><path d="M530.8 200.6h7M534.3 197.1v7"/><path d="M541.6 197.0h7M545.1 193.5v7"/><path d="M525.0 201.9h7M528.5 198.4v7"/><path d="M500.6 199.8h7M504.1 196.3v7"/><path d="M508.5 202.2h7M512.0 198.7v7"/><path d="M506.1 196.8h7M509.6 193.3v7"/><path d="M515.4 199.2h7M518.9 195.7v7"/><path d="M537.5 197.9h7M541.0 194.4v7"/><path d="M531.4 199.3h7M534.9 195.8v7"/><path d="M529.8 194.7h7M533.3 191.2v7"/><path d="M540.3 197.8h7M543.8 194.3v7"/><path d="M537.3 196.0h7M540.8 192.5v7"/><path d="M511.2 194.8h7M514.7 191.3v7"/><path d="M514.1 196.2h7M517.6 192.7v7"/><path d="M533.0 200.2h7M536.5 196.7v7"/><path d="M506.3 198.4h7M509.8 194.9v7"/><path d="M498.9 196.1h7M502.4 192.6v7"/><path d="M497.4 200.7h7M500.9 197.2v7"/><path d="M502.4 206.5h7M505.9 203.0v7"/><path d="M538.3 199.1h7M541.8 195.6v7"/><path d="M536.1 199.3h7M539.6 195.8v7"/><path d="M528.6 197.6h7M532.1 194.1v7"/><path d="M516.2 190.7h7M519.7 187.2v7"/><path d="M511.8 196.9h7M515.3 193.4v7"/><path d="M522.8 200.1h7M526.3 196.6v7"/><path d="M541.9 192.7h7M545.4 189.2v7"/><path d="M507.4 203.9h7M510.9 200.4v7"/><path d="M505.0 201.1h7M508.5 197.6v7"/><path d="M507.1 197.5h7M510.6 194.0v7"/><path d="M500.7 201.1h7M504.2 197.6v7"/><path d="M509.2 193.3h7M512.7 189.8v7"/><path d="M518.0 193.3h7M521.5 189.8v7"/><path d="M516.3 204.5h7M519.8 201.0v7"/><path d="M521.8 197.0h7M525.3 193.5v7"/><path d="M495.8 204.4h7M499.3 200.9v7"/><path d="M522.8 202.2h7M526.3 198.7v7"/><path d="M507.2 203.8h7M510.7 200.3v7"/><path d="M509.8 201.5h7M513.3 198.0v7"/><path d="M524.2 199.1h7M527.7 195.6v7"/><path d="M507.8 194.6h7M511.3 191.1v7"/><path d="M520.5 196.2h7M524.0 192.7v7"/><path d="M497.8 199.1h7M501.3 195.6v7"/><path d="M496.8 199.8h7M500.3 196.3v7"/><path d="M503.2 203.6h7M506.7 200.1v7"/><path d="M531.6 199.0h7M535.1 195.5v7"/><path d="M522.5 194.9h7M526.0 191.4v7"/><path d="M528.5 195.3h7M532.0 191.8v7"/><path d="M525.9 196.2h7M529.4 192.7v7"/><path d="M517.1 204.0h7M520.6 200.5v7"/><path d="M505.7 198.0h7M509.2 194.5v7"/><path d="M535.2 203.9h7M538.7 200.4v7"/><path d="M503.5 204.1h7M507.0 200.6v7"/><path d="M508.5 197.1h7M512.0 193.6v7"/><path d="M517.5 199.9h7M521.0 196.4v7"/><path d="M517.4 194.4h7M520.9 190.9v7"/><path d="M538.2 202.8h7M541.7 199.3v7"/><path d="M532.1 195.1h7M535.6 191.6v7"/><path d="M500.8 194.9h7M504.3 191.4v7"/><path d="M498.0 194.2h7M501.5 190.7v7"/><path d="M524.3 197.3h7M527.8 193.8v7"/><path d="M537.3 190.5h7M540.8 187.0v7"/><path d="M535.8 208.0h7M539.3 204.5v7"/><path d="M524.5 201.2h7M528.0 197.7v7"/><path d="M535.0 198.8h7M538.5 195.3v7"/><path d="M495.8 198.2h7M499.3 194.7v7"/><path d="M526.3 201.2h7M529.8 197.7v7"/><path d="M501.2 198.5h7M504.7 195.0v7"/><path d="M524.6 195.4h7M528.1 191.9v7"/><path d="M526.3 190.9h7M529.8 187.4v7"/><path d="M526.0 196.5h7M529.5 193.0v7"/><path d="M516.4 201.9h7M519.9 198.4v7"/><path d="M529.8 196.7h7M533.3 193.2v7"/><path d="M529.0 192.6h7M532.5 189.1v7"/><path d="M537.7 200.7h7M541.2 197.2v7"/><path d="M497.8 197.3h7M501.3 193.8v7"/><path d="M512.8 197.7h7M516.3 194.2v7"/><path d="M517.7 194.3h7M521.2 190.8v7"/><path d="M532.6 195.1h7M536.1 191.6v7"/><path d="M504.8 196.9h7M508.3 193.4v7"/><path d="M540.6 192.6h7M544.1 189.1v7"/><path d="M499.5 195.9h7M503.0 192.4v7"/><path d="M524.2 201.4h7M527.7 197.9v7"/><path d="M504.6 197.3h7M508.1 193.8v7"/><path d="M532.8 196.6h7M536.3 193.1v7"/><path d="M514.0 196.7h7M517.5 193.2v7"/><path d="M532.6 191.1h7M536.1 187.6v7"/><path d="M513.0 198.2h7M516.5 194.7v7"/><path d="M535.2 201.8h7M538.7 198.3v7"/><path d="M511.4 203.4h7M514.9 199.9v7"/><path d="M513.5 195.1h7M517.0 191.6v7"/><path d="M532.4 199.0h7M535.9 195.5v7"/><path d="M533.8 196.6h7M537.3 193.1v7"/><path d="M522.1 196.6h7M525.6 193.1v7"/><path d="M528.4 196.4h7M531.9 192.9v7"/><path d="M521.6 198.1h7M525.1 194.6v7"/><path d="M513.9 192.5h7M517.4 189.0v7"/><path d="M524.8 195.0h7M528.3 191.5v7"/><path d="M507.2 201.2h7M510.7 197.7v7"/><path d="M526.3 200.8h7M529.8 197.3v7"/><path d="M513.0 201.2h7M516.5 197.7v7"/><path d="M521.4 193.8h7M524.9 190.3v7"/><path d="M538.2 192.6h7M541.7 189.1v7"/><path d="M508.6 196.3h7M512.1 192.8v7"/><path d="M500.2 199.6h7M503.7 196.1v7"/><path d="M541.1 193.5h7M544.6 190.0v7"/><path d="M522.2 197.3h7M525.7 193.8v7"/><path d="M510.8 203.4h7M514.3 199.9v7"/><path d="M503.4 198.3h7M506.9 194.8v7"/><path d="M538.7 198.2h7M542.2 194.7v7"/><path d="M520.9 199.6h7M524.4 196.1v7"/><path d="M525.0 202.3h7M528.5 198.8v7"/><path d="M516.5 199.0h7M520.0 195.5v7"/><path d="M500.1 203.7h7M503.6 200.2v7"/><path d="M526.9 201.6h7M530.4 198.1v7"/><path d="M508.3 201.1h7M511.8 197.6v7"/><path d="M501.7 203.7h7M505.2 200.2v7"/><path d="M533.6 195.4h7M537.1 191.9v7"/><path d="M537.9 198.6h7M541.4 195.1v7"/><path d="M533.6 196.6h7M537.1 193.1v7"/><path d="M496.3 194.8h7M499.8 191.3v7"/><path d="M538.0 195.4h7M541.5 191.9v7"/><path d="M514.3 199.8h7M517.8 196.3v7"/><path d="M500.5 197.7h7M504.0 194.2v7"/><path d="M525.6 197.8h7M529.1 194.3v7"/><path d="M495.4 200.6h7M498.9 197.1v7"/><path d="M533.8 196.2h7M537.3 192.7v7"/><path d="M498.8 200.5h7M502.3 197.0v7"/><path d="M499.0 201.7h7M502.5 198.2v7"/><path d="M533.5 198.3h7M537.0 194.8v7"/><path d="M514.3 197.2h7M517.8 193.7v7"/><path d="M537.8 198.4h7M541.3 194.9v7"/><path d="M542.1 191.2h7M545.6 187.7v7"/><path d="M550.0 194.2h7M553.5 190.7v7"/><path d="M536.4 194.9h7M539.9 191.4v7"/><path d="M547.3 194.4h7M550.8 190.9v7"/><path d="M555.4 188.5h7M558.9 185.0v7"/><path d="M536.1 192.8h7M539.6 189.3v7"/><path d="M527.7 204.2h7M531.2 200.7v7"/><path d="M534.5 192.2h7M538.0 188.7v7"/><path d="M556.0 201.3h7M559.5 197.8v7"/><path d="M531.5 201.7h7M535.0 198.2v7"/><path d="M538.9 199.2h7M542.4 195.7v7"/><path d="M540.0 196.4h7M543.5 192.9v7"/><path d="M553.6 196.8h7M557.1 193.3v7"/><path d="M546.8 193.8h7M550.3 190.3v7"/><path d="M531.0 192.4h7M534.5 188.9v7"/><path d="M539.4 197.9h7M542.9 194.4v7"/><path d="M526.3 192.0h7M529.8 188.5v7"/><path d="M528.4 196.8h7M531.9 193.3v7"/><path d="M536.9 194.9h7M540.4 191.4v7"/><path d="M555.3 191.8h7M558.8 188.3v7"/><path d="M538.0 194.8h7M541.5 191.3v7"/><path d="M547.4 196.3h7M550.9 192.8v7"/><path d="M547.7 203.2h7M551.2 199.7v7"/><path d="M530.9 192.5h7M534.4 189.0v7"/><path d="M553.8 197.9h7M557.3 194.4v7"/><path d="M550.2 192.1h7M553.7 188.6v7"/><path d="M550.1 193.2h7M553.6 189.7v7"/><path d="M542.9 197.0h7M546.4 193.5v7"/><path d="M545.1 192.4h7M548.6 188.9v7"/><path d="M527.5 199.2h7M531.0 195.7v7"/><path d="M550.8 200.2h7M554.3 196.7v7"/><path d="M535.4 195.2h7M538.9 191.7v7"/><path d="M529.6 198.3h7M533.1 194.8v7"/><path d="M533.5 200.9h7M537.0 197.4v7"/><path d="M548.4 199.6h7M551.9 196.1v7"/><path d="M538.1 202.0h7M541.6 198.5v7"/><path d="M527.6 192.5h7M531.1 189.0v7"/><path d="M529.7 195.6h7M533.2 192.1v7"/><path d="M547.8 189.7h7M551.3 186.2v7"/><path d="M541.2 201.2h7M544.7 197.7v7"/><path d="M542.8 197.9h7M546.3 194.4v7"/><path d="M539.6 196.4h7M543.1 192.9v7"/><path d="M526.1 197.6h7M529.6 194.1v7"/><path d="M550.7 201.2h7M554.2 197.7v7"/><path d="M550.3 196.4h7M553.8 192.9v7"/><path d="M545.4 198.0h7M548.9 194.5v7"/><path d="M548.0 200.7h7M551.5 197.2v7"/><path d="M536.2 200.0h7M539.7 196.5v7"/><path d="M549.6 201.2h7M553.1 197.7v7"/><path d="M528.6 199.2h7M532.1 195.7v7"/><path d="M526.1 198.3h7M529.6 194.8v7"/><path d="M553.7 197.7h7M557.2 194.2v7"/><path d="M548.8 194.9h7M552.3 191.4v7"/><path d="M533.9 191.2h7M537.4 187.7v7"/><path d="M552.9 195.1h7M556.4 191.6v7"/><path d="M539.0 193.3h7M542.5 189.8v7"/><path d="M543.2 202.3h7M546.7 198.8v7"/><path d="M547.8 194.0h7M551.3 190.5v7"/><path d="M550.2 191.4h7M553.7 187.9v7"/><path d="M552.7 201.1h7M556.2 197.6v7"/><path d="M526.8 191.7h7M530.3 188.2v7"/><path d="M538.6 201.6h7M542.1 198.1v7"/><path d="M532.0 192.9h7M535.5 189.4v7"/><path d="M550.7 197.1h7M554.2 193.6v7"/><path d="M553.8 194.5h7M557.3 191.0v7"/><path d="M547.8 188.5h7M551.3 185.0v7"/><path d="M541.4 192.1h7M544.9 188.6v7"/><path d="M553.3 193.6h7M556.8 190.1v7"/><path d="M540.0 199.6h7M543.5 196.1v7"/><path d="M539.5 200.1h7M543.0 196.6v7"/><path d="M534.5 199.3h7M538.0 195.8v7"/><path d="M529.5 198.1h7M533.0 194.6v7"/><path d="M553.6 195.2h7M557.1 191.7v7"/><path d="M546.7 185.2h7M550.2 181.7v7"/><path d="M554.9 194.5h7M558.4 191.0v7"/><path d="M526.0 201.3h7M529.5 197.8v7"/><path d="M541.9 199.8h7M545.4 196.3v7"/><path d="M552.9 191.3h7M556.4 187.8v7"/><path d="M551.9 194.9h7M555.4 191.4v7"/><path d="M548.1 199.5h7M551.6 196.0v7"/><path d="M534.7 196.1h7M538.2 192.6v7"/><path d="M534.0 193.1h7M537.5 189.6v7"/><path d="M544.0 194.2h7M547.5 190.7v7"/><path d="M531.0 201.4h7M534.5 197.9v7"/><path d="M542.0 197.9h7M545.5 194.4v7"/><path d="M547.5 201.5h7M551.0 198.0v7"/><path d="M546.3 197.9h7M549.8 194.4v7"/><path d="M550.4 199.9h7M553.9 196.4v7"/><path d="M543.0 202.8h7M546.5 199.3v7"/><path d="M538.7 197.5h7M542.2 194.0v7"/><path d="M531.5 200.1h7M535.0 196.6v7"/><path d="M550.8 201.4h7M554.3 197.9v7"/><path d="M538.8 196.2h7M542.3 192.7v7"/><path d="M531.3 194.5h7M534.8 191.0v7"/><path d="M538.4 199.7h7M541.9 196.2v7"/><path d="M544.6 192.3h7M548.1 188.8v7"/><path d="M552.0 199.3h7M555.5 195.8v7"/><path d="M526.1 194.7h7M529.6 191.2v7"/><path d="M529.3 206.4h7M532.8 202.9v7"/><path d="M529.8 195.5h7M533.3 192.0v7"/><path d="M535.5 195.9h7M539.0 192.4v7"/><path d="M548.9 193.6h7M552.4 190.1v7"/><path d="M530.9 196.3h7M534.4 192.8v7"/><path d="M554.6 193.5h7M558.1 190.0v7"/><path d="M534.4 198.6h7M537.9 195.1v7"/><path d="M527.7 203.1h7M531.2 199.6v7"/><path d="M544.5 192.6h7M548.0 189.1v7"/><path d="M550.6 198.4h7M554.1 194.9v7"/><path d="M543.1 190.7h7M546.6 187.2v7"/><path d="M550.1 199.1h7M553.6 195.6v7"/><path d="M549.0 195.6h7M552.5 192.1v7"/><path d="M549.5 199.5h7M553.0 196.0v7"/><path d="M543.5 194.5h7M547.0 191.0v7"/><path d="M538.3 202.7h7M541.8 199.2v7"/><path d="M530.7 197.8h7M534.2 194.3v7"/><path d="M542.8 198.0h7M546.3 194.5v7"/><path d="M538.3 196.6h7M541.8 193.1v7"/><path d="M547.5 206.2h7M551.0 202.7v7"/><path d="M536.9 202.5h7M540.4 199.0v7"/><path d="M549.8 194.8h7M553.3 191.3v7"/><path d="M542.9 196.7h7M546.4 193.2v7"/><path d="M555.2 187.2h7M558.7 183.7v7"/><path d="M543.2 197.5h7M546.7 194.0v7"/><path d="M531.5 202.4h7M535.0 198.9v7"/><path d="M532.1 196.2h7M535.6 192.7v7"/><path d="M531.7 193.7h7M535.2 190.2v7"/><path d="M551.0 191.4h7M554.5 187.9v7"/><path d="M533.1 206.4h7M536.6 202.9v7"/><path d="M527.0 198.2h7M530.5 194.7v7"/><path d="M543.3 197.1h7M546.8 193.6v7"/><path d="M553.4 193.3h7M556.9 189.8v7"/><path d="M548.9 202.8h7M552.4 199.3v7"/><path d="M537.2 192.0h7M540.7 188.5v7"/><path d="M544.5 199.1h7M548.0 195.6v7"/><path d="M533.4 202.1h7M536.9 198.6v7"/><path d="M546.4 196.0h7M549.9 192.5v7"/><path d="M527.9 196.8h7M531.4 193.3v7"/><path d="M546.7 200.7h7M550.2 197.2v7"/><path d="M548.8 192.2h7M552.3 188.7v7"/><path d="M534.4 195.7h7M537.9 192.2v7"/><path d="M544.2 197.2h7M547.7 193.7v7"/><path d="M543.8 195.1h7M547.3 191.6v7"/><path d="M555.4 193.5h7M558.9 190.0v7"/><path d="M531.9 194.6h7M535.4 191.1v7"/><path d="M532.2 195.8h7M535.7 192.3v7"/><path d="M543.2 195.6h7M546.7 192.1v7"/><path d="M547.5 191.4h7M551.0 187.9v7"/><path d="M545.0 193.9h7M548.5 190.4v7"/><path d="M534.7 193.4h7M538.2 189.9v7"/><path d="M537.9 198.8h7M541.4 195.3v7"/><path d="M529.7 197.9h7M533.2 194.4v7"/><path d="M526.2 196.3h7M529.7 192.8v7"/><path d="M546.2 198.5h7M549.7 195.0v7"/><path d="M549.2 194.2h7M552.7 190.7v7"/><path d="M533.4 187.9h7M536.9 184.4v7"/><path d="M544.1 196.6h7M547.6 193.1v7"/><path d="M554.4 190.6h7M557.9 187.1v7"/><path d="M555.4 201.5h7M558.9 198.0v7"/><path d="M545.2 196.0h7M548.7 192.5v7"/><path d="M528.5 204.2h7M532.0 200.7v7"/><path d="M532.1 197.9h7M535.6 194.4v7"/><path d="M539.8 197.7h7M543.3 194.2v7"/><path d="M526.0 193.8h7M529.5 190.3v7"/><path d="M545.2 192.4h7M548.7 188.9v7"/><path d="M537.4 198.3h7M540.9 194.8v7"/><path d="M526.3 199.6h7M529.8 196.1v7"/><path d="M549.1 190.9h7M552.6 187.4v7"/><path d="M556.0 201.1h7M559.5 197.6v7"/><path d="M548.7 189.8h7M552.2 186.3v7"/><path d="M546.9 191.2h7M550.4 187.7v7"/><path d="M529.2 200.1h7M532.7 196.6v7"/><path d="M553.1 204.8h7M556.6 201.3v7"/><path d="M530.3 195.2h7M533.8 191.7v7"/><path d="M529.4 204.8h7M532.9 201.3v7"/><path d="M536.6 196.0h7M540.1 192.5v7"/><path d="M539.5 187.4h7M543.0 183.9v7"/><path d="M536.5 202.2h7M540.0 198.7v7"/><path d="M539.4 196.0h7M542.9 192.5v7"/><path d="M546.5 201.7h7M550.0 198.2v7"/><path d="M572.3 197.1h7M575.8 193.6v7"/><path d="M579.2 195.9h7M582.7 192.4v7"/><path d="M578.0 190.2h7M581.5 186.7v7"/><path d="M582.7 191.6h7M586.2 188.1v7"/><path d="M578.3 199.6h7M581.8 196.1v7"/><path d="M577.1 192.7h7M580.6 189.2v7"/><path d="M585.1 194.2h7M588.6 190.7v7"/><path d="M561.6 196.2h7M565.1 192.7v7"/><path d="M573.4 197.7h7M576.9 194.2v7"/><path d="M564.9 193.0h7M568.4 189.5v7"/><path d="M565.9 188.6h7M569.4 185.1v7"/><path d="M559.7 197.5h7M563.2 194.0v7"/><path d="M577.2 202.5h7M580.7 199.0v7"/><path d="M563.3 182.3h7M566.8 178.8v7"/><path d="M575.8 192.5h7M579.3 189.0v7"/><path d="M579.2 191.0h7M582.7 187.5v7"/><path d="M558.3 191.6h7M561.8 188.1v7"/><path d="M572.1 196.6h7M575.6 193.1v7"/><path d="M579.8 195.0h7M583.3 191.5v7"/><path d="M560.0 185.2h7M563.5 181.7v7"/><path d="M578.9 202.4h7M582.4 198.9v7"/><path d="M566.3 194.7h7M569.8 191.2v7"/><path d="M557.2 191.3h7M560.7 187.8v7"/><path d="M557.9 207.9h7M561.4 204.4v7"/><path d="M575.0 193.6h7M578.5 190.1v7"/><path d="M557.6 198.0h7M561.1 194.5v7"/><path d="M571.6 192.8h7M575.1 189.3v7"/><path d="M556.8 195.7h7M560.3 192.2v7"/><path d="M579.3 199.2h7M582.8 195.7v7"/><path d="M577.6 198.8h7M581.1 195.3v7"/><path d="M564.2 196.1h7M567.7 192.6v7"/><path d="M562.2 192.2h7M565.7 188.7v7"/><path d="M571.2 188.0h7M574.7 184.5v7"/><path d="M565.9 196.6h7M569.4 193.1v7"/><path d="M563.0 201.1h7M566.5 197.6v7"/><path d="M557.0 192.2h7M560.5 188.7v7"/><path d="M558.2 199.8h7M561.7 196.3v7"/><path d="M578.6 187.2h7M582.1 183.7v7"/><path d="M579.6 202.2h7M583.1 198.7v7"/><path d="M561.9 194.6h7M565.4 191.1v7"/><path d="M585.2 194.8h7M588.7 191.3v7"/><path d="M570.1 193.7h7M573.6 190.2v7"/><path d="M576.8 190.3h7M580.3 186.8v7"/><path d="M565.3 193.4h7M568.8 189.9v7"/><path d="M566.4 197.6h7M569.9 194.1v7"/></g>
<path d="M402.80 215.62L408.10 214.72M415.00 213.55L419.90 212.71M427.10 211.49L432.00 210.66M439.50 209.38L444.40 208.55M451.70 207.31L456.30 206.53M463.50 205.30L468.40 204.47M475.60 203.25L480.70 202.38M487.70 201.19L492.80 200.32M499.70 199.15L504.90 198.26M512.30 197.01L517.30 196.16M524.40 194.95L529.30 194.12M536.50 192.89L541.20 192.09M548.60 190.84L553.20 190.05M560.60 188.80L565.20 188.01M572.60 186.76L582.30 185.11M589.70 183.85L594.30 183.07M601.50 181.84L606.20 181.05M613.60 179.79L618.40 178.97M625.50 177.76L630.40 176.93M637.70 175.69L642.50 174.87M649.55 173.68L651.70 173.31" stroke="#f02525" stroke-width="1.5" stroke-linecap="round" fill="none"/>
<rect x="378.60" y="9.30" width="112.60" height="56.70" fill="#ffffff" stroke="#aaaaaa" stroke-width="0.9"/><path d="M378.60 18.50H491.20M378.60 27.30H491.20M378.60 37.20H491.20M378.60 47.30H491.20M378.60 57.20H491.20M421.70 9.30V66.00" stroke="#dcdcdc" stroke-width="0.8" fill="none"/><text x="379.6" y="16.50" font-size="8.4">Intercept</text><text x="456.45" y="16.50" text-anchor="middle" font-size="8.4">0.10699 ± 0.00911</text><text x="379.6" y="25.50" font-size="8.4">slope</text><text x="456.45" y="25.50" text-anchor="middle" font-size="8.4">0.28873 ± 0.01803</text><text x="379.6" y="34.85" font-size="8.4">RSS</text><text x="456.45" y="34.85" text-anchor="middle" font-size="8.4">2.35547</text><text x="379.6" y="44.85" font-size="8.4">Pearson's r</text><text x="456.45" y="44.85" text-anchor="middle" font-size="8.4">0.4214</text><text x="379.6" y="54.85" font-size="8.4">R²</text><text x="456.45" y="54.85" text-anchor="middle" font-size="8.4">0.17758</text><text x="379.6" y="64.20" font-size="8.4">Adjusted R²</text><text x="456.45" y="64.20" text-anchor="middle" font-size="8.4">0.17689</text>
</svg></body></html>
